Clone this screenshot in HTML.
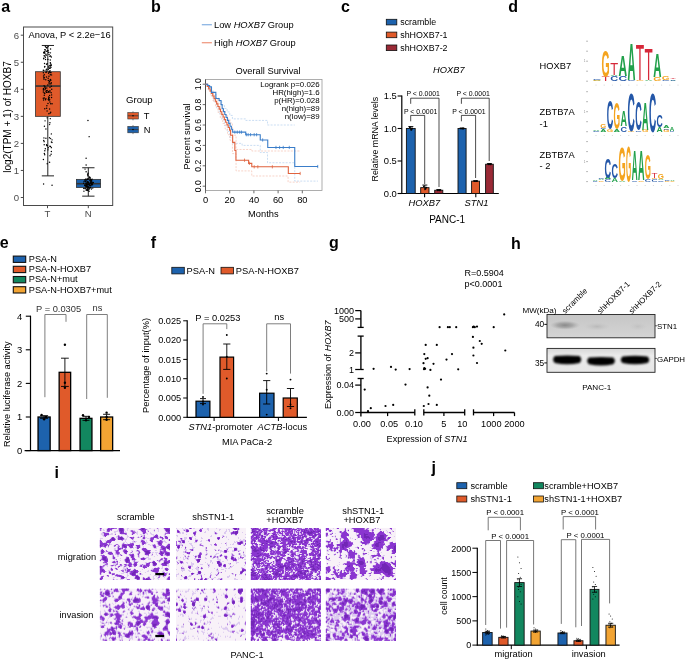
<!DOCTYPE html>
<html><head><meta charset="utf-8"><style>
html,body{margin:0;padding:0;background:#fff;overflow:hidden;width:685px;height:660px;}
svg{display:block;will-change:transform;}
text{font-family:"Liberation Sans", sans-serif;}
</style></head><body>
<svg width="685" height="660" viewBox="0 0 685 660" font-family="Liberation Sans, sans-serif">
<rect width="685" height="660" fill="#fff"/>
<text x="1.2" y="11.8" font-size="16" text-anchor="start" fill="#000" font-weight="bold">a</text>
<text x="151" y="11.8" font-size="16" text-anchor="start" fill="#000" font-weight="bold">b</text>
<text x="341" y="12" font-size="16" text-anchor="start" fill="#000" font-weight="bold">c</text>
<text x="508.3" y="11.7" font-size="16" text-anchor="start" fill="#000" font-weight="bold">d</text>
<text x="-0.3" y="248.2" font-size="16" text-anchor="start" fill="#000" font-weight="bold">e</text>
<text x="150.8" y="247.6" font-size="16" text-anchor="start" fill="#000" font-weight="bold">f</text>
<text x="329" y="248.2" font-size="16" text-anchor="start" fill="#000" font-weight="bold">g</text>
<text x="511" y="248.5" font-size="16" text-anchor="start" fill="#000" font-weight="bold">h</text>
<text x="54.5" y="477.6" font-size="16" text-anchor="start" fill="#000" font-weight="bold">i</text>
<text x="431.5" y="473.2" font-size="16" text-anchor="start" fill="#000" font-weight="bold">j</text>
<rect x="23.5" y="27" width="89.2" height="178.5" fill="none" stroke="#4a4a4a" stroke-width="1"/>
<line x1="20.8" y1="197.5" x2="23.5" y2="197.5" stroke="#4a4a4a" stroke-width="1"/>
<text x="19.2" y="200.9" font-size="9.6" text-anchor="end" fill="#4d4d4d">0</text>
<line x1="20.8" y1="170.45" x2="23.5" y2="170.45" stroke="#4a4a4a" stroke-width="1"/>
<text x="19.2" y="173.85" font-size="9.6" text-anchor="end" fill="#4d4d4d">1</text>
<line x1="20.8" y1="143.4" x2="23.5" y2="143.4" stroke="#4a4a4a" stroke-width="1"/>
<text x="19.2" y="146.8" font-size="9.6" text-anchor="end" fill="#4d4d4d">2</text>
<line x1="20.8" y1="116.35" x2="23.5" y2="116.35" stroke="#4a4a4a" stroke-width="1"/>
<text x="19.2" y="119.75" font-size="9.6" text-anchor="end" fill="#4d4d4d">3</text>
<line x1="20.8" y1="89.3" x2="23.5" y2="89.3" stroke="#4a4a4a" stroke-width="1"/>
<text x="19.2" y="92.7" font-size="9.6" text-anchor="end" fill="#4d4d4d">4</text>
<line x1="20.8" y1="62.25" x2="23.5" y2="62.25" stroke="#4a4a4a" stroke-width="1"/>
<text x="19.2" y="65.65" font-size="9.6" text-anchor="end" fill="#4d4d4d">5</text>
<line x1="20.8" y1="35.2" x2="23.5" y2="35.2" stroke="#4a4a4a" stroke-width="1"/>
<text x="19.2" y="38.6" font-size="9.6" text-anchor="end" fill="#4d4d4d">6</text>
<line x1="47.5" y1="205.5" x2="47.5" y2="208.2" stroke="#4a4a4a" stroke-width="1"/>
<text x="47.5" y="217" font-size="9.6" text-anchor="middle" fill="#4d4d4d">T</text>
<line x1="88.3" y1="205.5" x2="88.3" y2="208.2" stroke="#4a4a4a" stroke-width="1"/>
<text x="88.3" y="217" font-size="9.6" text-anchor="middle" fill="#4d4d4d">N</text>
<text x="10.6" y="117" font-size="10" text-anchor="middle" fill="#000" transform="rotate(-90 10.6 117)">log2(TPM + 1) of HOXB7</text>
<text x="28.6" y="38.3" font-size="9.3" text-anchor="start" fill="#000">Anova, P &lt; 2.2e−16</text>
<line x1="47.8" y1="45.48" x2="47.8" y2="175.86" stroke="#222" stroke-width="1"/>
<line x1="41.8" y1="45.48" x2="54" y2="45.48" stroke="#222" stroke-width="1"/>
<line x1="41.8" y1="175.86" x2="54" y2="175.86" stroke="#222" stroke-width="1"/>
<rect x="35.5" y="71.72" width="24.8" height="44.63" fill="#e05a2a" stroke="#333" stroke-width="0.8"/>
<line x1="35.5" y1="86.05" x2="60.3" y2="86.05" stroke="#333" stroke-width="1.6"/>
<line x1="88.3" y1="167.75" x2="88.3" y2="196.15" stroke="#222" stroke-width="1"/>
<line x1="82.2" y1="167.75" x2="94.5" y2="167.75" stroke="#222" stroke-width="1"/>
<line x1="82.2" y1="196.15" x2="94.5" y2="196.15" stroke="#222" stroke-width="1"/>
<rect x="76.4" y="179.38" width="24.2" height="8.12" fill="#1d62ad" stroke="#333" stroke-width="0.8"/>
<line x1="76.4" y1="183.7" x2="100.6" y2="183.7" stroke="#333" stroke-width="1.6"/>
<circle cx="48.82" cy="66.3" r="0.72" fill="#000"/>
<circle cx="44.76" cy="51.58" r="0.72" fill="#000"/>
<circle cx="43.66" cy="58.16" r="0.72" fill="#000"/>
<circle cx="46.8" cy="87.94" r="0.72" fill="#000"/>
<circle cx="49.98" cy="83.88" r="0.72" fill="#000"/>
<circle cx="50.44" cy="52.86" r="0.72" fill="#000"/>
<circle cx="49.67" cy="99.84" r="0.72" fill="#000"/>
<circle cx="44.12" cy="55.69" r="0.72" fill="#000"/>
<circle cx="51.32" cy="57" r="0.72" fill="#000"/>
<circle cx="50.32" cy="74.8" r="0.72" fill="#000"/>
<circle cx="51" cy="83.73" r="0.72" fill="#000"/>
<circle cx="47.81" cy="85.06" r="0.72" fill="#000"/>
<circle cx="51.34" cy="86.33" r="0.72" fill="#000"/>
<circle cx="43.52" cy="76.04" r="0.72" fill="#000"/>
<circle cx="43.37" cy="72.82" r="0.72" fill="#000"/>
<circle cx="43.28" cy="70.18" r="0.72" fill="#000"/>
<circle cx="45.37" cy="46.26" r="0.72" fill="#000"/>
<circle cx="45.34" cy="57.24" r="0.72" fill="#000"/>
<circle cx="44.79" cy="66.46" r="0.72" fill="#000"/>
<circle cx="48.2" cy="46.62" r="0.72" fill="#000"/>
<circle cx="43.45" cy="88.47" r="0.72" fill="#000"/>
<circle cx="48.41" cy="91.45" r="0.72" fill="#000"/>
<circle cx="44.59" cy="66.98" r="0.72" fill="#000"/>
<circle cx="49.2" cy="97.74" r="0.72" fill="#000"/>
<circle cx="43.29" cy="98.19" r="0.72" fill="#000"/>
<circle cx="45.9" cy="72.26" r="0.72" fill="#000"/>
<circle cx="51.55" cy="74.9" r="0.72" fill="#000"/>
<circle cx="47.95" cy="50.5" r="0.72" fill="#000"/>
<circle cx="50.4" cy="66.08" r="0.72" fill="#000"/>
<circle cx="49.02" cy="72.31" r="0.72" fill="#000"/>
<circle cx="48.6" cy="73.24" r="0.72" fill="#000"/>
<circle cx="44.82" cy="86.73" r="0.72" fill="#000"/>
<circle cx="48.27" cy="99.48" r="0.72" fill="#000"/>
<circle cx="43.46" cy="89.71" r="0.72" fill="#000"/>
<circle cx="50.31" cy="62.68" r="0.72" fill="#000"/>
<circle cx="51.74" cy="89.27" r="0.72" fill="#000"/>
<circle cx="50.79" cy="80.13" r="0.72" fill="#000"/>
<circle cx="43.56" cy="99.92" r="0.72" fill="#000"/>
<circle cx="46.15" cy="55.21" r="0.72" fill="#000"/>
<circle cx="45.96" cy="91.76" r="0.72" fill="#000"/>
<circle cx="44.11" cy="85.64" r="0.72" fill="#000"/>
<circle cx="48.74" cy="52.49" r="0.72" fill="#000"/>
<circle cx="50.28" cy="72.54" r="0.72" fill="#000"/>
<circle cx="45.92" cy="54.29" r="0.72" fill="#000"/>
<circle cx="50.87" cy="65.51" r="0.72" fill="#000"/>
<circle cx="50.27" cy="59.99" r="0.72" fill="#000"/>
<circle cx="44.26" cy="95.17" r="0.72" fill="#000"/>
<circle cx="50" cy="70.84" r="0.72" fill="#000"/>
<circle cx="51.04" cy="72.65" r="0.72" fill="#000"/>
<circle cx="44.88" cy="52.98" r="0.72" fill="#000"/>
<circle cx="48.26" cy="80.58" r="0.72" fill="#000"/>
<circle cx="48.85" cy="67.76" r="0.72" fill="#000"/>
<circle cx="48.58" cy="96.91" r="0.72" fill="#000"/>
<circle cx="43.97" cy="79.15" r="0.72" fill="#000"/>
<circle cx="49.05" cy="82.64" r="0.72" fill="#000"/>
<circle cx="48.79" cy="91.99" r="0.72" fill="#000"/>
<circle cx="50.51" cy="55.96" r="0.72" fill="#000"/>
<circle cx="50.33" cy="79.59" r="0.72" fill="#000"/>
<circle cx="46.04" cy="47.17" r="0.72" fill="#000"/>
<circle cx="49.6" cy="68.2" r="0.72" fill="#000"/>
<circle cx="50.91" cy="67.39" r="0.72" fill="#000"/>
<circle cx="51.14" cy="65.6" r="0.72" fill="#000"/>
<circle cx="44.55" cy="63.52" r="0.72" fill="#000"/>
<circle cx="43.34" cy="91.96" r="0.72" fill="#000"/>
<circle cx="48.96" cy="76.3" r="0.72" fill="#000"/>
<circle cx="45.03" cy="87.16" r="0.72" fill="#000"/>
<circle cx="48.17" cy="78.34" r="0.72" fill="#000"/>
<circle cx="51.6" cy="94.89" r="0.72" fill="#000"/>
<circle cx="46.51" cy="47.76" r="0.72" fill="#000"/>
<circle cx="45.37" cy="88.49" r="0.72" fill="#000"/>
<circle cx="47.21" cy="63.78" r="0.72" fill="#000"/>
<circle cx="49.02" cy="83.87" r="0.72" fill="#000"/>
<circle cx="44.01" cy="52.83" r="0.72" fill="#000"/>
<circle cx="46.53" cy="64.29" r="0.72" fill="#000"/>
<circle cx="44.3" cy="93" r="0.72" fill="#000"/>
<circle cx="49.06" cy="54.4" r="0.72" fill="#000"/>
<circle cx="50.57" cy="49" r="0.72" fill="#000"/>
<circle cx="46.49" cy="51.22" r="0.72" fill="#000"/>
<circle cx="46.45" cy="69.3" r="0.72" fill="#000"/>
<circle cx="47.96" cy="92.25" r="0.72" fill="#000"/>
<circle cx="45.04" cy="89.71" r="0.72" fill="#000"/>
<circle cx="45.33" cy="49.92" r="0.72" fill="#000"/>
<circle cx="46.07" cy="70.24" r="0.72" fill="#000"/>
<circle cx="47.22" cy="90.35" r="0.72" fill="#000"/>
<circle cx="43.83" cy="52.29" r="0.72" fill="#000"/>
<circle cx="49.87" cy="65.41" r="0.72" fill="#000"/>
<circle cx="48.31" cy="69.3" r="0.72" fill="#000"/>
<circle cx="45.8" cy="79.76" r="0.72" fill="#000"/>
<circle cx="43.8" cy="77.89" r="0.72" fill="#000"/>
<circle cx="49.97" cy="87.16" r="0.72" fill="#000"/>
<circle cx="44.28" cy="98.06" r="0.72" fill="#000"/>
<circle cx="44.3" cy="52.72" r="0.72" fill="#000"/>
<circle cx="44.28" cy="74.82" r="0.72" fill="#000"/>
<circle cx="43.83" cy="70.49" r="0.72" fill="#000"/>
<circle cx="51.26" cy="82.69" r="0.72" fill="#000"/>
<circle cx="45.52" cy="59.47" r="0.72" fill="#000"/>
<circle cx="45.86" cy="98.76" r="0.72" fill="#000"/>
<circle cx="50.6" cy="79.98" r="0.72" fill="#000"/>
<circle cx="48.68" cy="98.48" r="0.72" fill="#000"/>
<circle cx="44.78" cy="93.47" r="0.72" fill="#000"/>
<circle cx="47.01" cy="47.8" r="0.72" fill="#000"/>
<circle cx="51.06" cy="64.54" r="0.72" fill="#000"/>
<circle cx="46.48" cy="76.95" r="0.72" fill="#000"/>
<circle cx="49.5" cy="71.79" r="0.72" fill="#000"/>
<circle cx="43.97" cy="52.9" r="0.72" fill="#000"/>
<circle cx="49.65" cy="81.5" r="0.72" fill="#000"/>
<circle cx="50.09" cy="68.19" r="0.72" fill="#000"/>
<circle cx="50.53" cy="63.13" r="0.72" fill="#000"/>
<circle cx="49.17" cy="80.89" r="0.72" fill="#000"/>
<circle cx="46.44" cy="72.04" r="0.72" fill="#000"/>
<circle cx="43.68" cy="58.72" r="0.72" fill="#000"/>
<circle cx="47.77" cy="50.93" r="0.72" fill="#000"/>
<circle cx="49.92" cy="91.95" r="0.72" fill="#000"/>
<circle cx="44.82" cy="49.62" r="0.72" fill="#000"/>
<circle cx="45.5" cy="99.84" r="0.72" fill="#000"/>
<circle cx="47.93" cy="59.38" r="0.72" fill="#000"/>
<circle cx="49.83" cy="56.27" r="0.72" fill="#000"/>
<circle cx="51.17" cy="92.72" r="0.72" fill="#000"/>
<circle cx="44.23" cy="77.46" r="0.72" fill="#000"/>
<circle cx="44.76" cy="56.01" r="0.72" fill="#000"/>
<circle cx="50.3" cy="118.63" r="0.72" fill="#000"/>
<circle cx="48.9" cy="100.36" r="0.72" fill="#000"/>
<circle cx="49.59" cy="95.46" r="0.72" fill="#000"/>
<circle cx="52.07" cy="103.79" r="0.72" fill="#000"/>
<circle cx="51.55" cy="97.46" r="0.72" fill="#000"/>
<circle cx="50.69" cy="112.32" r="0.72" fill="#000"/>
<circle cx="50.09" cy="113.15" r="0.72" fill="#000"/>
<circle cx="46.66" cy="108.25" r="0.72" fill="#000"/>
<circle cx="48.87" cy="113.72" r="0.72" fill="#000"/>
<circle cx="44.76" cy="108.76" r="0.72" fill="#000"/>
<circle cx="49.94" cy="90.84" r="0.72" fill="#000"/>
<circle cx="49.92" cy="102" r="0.72" fill="#000"/>
<circle cx="49.59" cy="108.94" r="0.72" fill="#000"/>
<circle cx="47.1" cy="110.98" r="0.72" fill="#000"/>
<circle cx="46.5" cy="90.73" r="0.72" fill="#000"/>
<circle cx="46.88" cy="105.83" r="0.72" fill="#000"/>
<circle cx="43.4" cy="89.88" r="0.72" fill="#000"/>
<circle cx="50.7" cy="103.72" r="0.72" fill="#000"/>
<circle cx="47.98" cy="103.55" r="0.72" fill="#000"/>
<circle cx="46.59" cy="92.38" r="0.72" fill="#000"/>
<circle cx="48.03" cy="149.86" r="0.72" fill="#000"/>
<circle cx="49.59" cy="124.62" r="0.72" fill="#000"/>
<circle cx="46.53" cy="144.6" r="0.72" fill="#000"/>
<circle cx="50.58" cy="138.61" r="0.72" fill="#000"/>
<circle cx="51.38" cy="147.65" r="0.72" fill="#000"/>
<circle cx="46.59" cy="145.61" r="0.72" fill="#000"/>
<circle cx="44.34" cy="153.54" r="0.72" fill="#000"/>
<circle cx="49.94" cy="122.69" r="0.72" fill="#000"/>
<circle cx="52.04" cy="139.87" r="0.72" fill="#000"/>
<circle cx="44.43" cy="126.23" r="0.72" fill="#000"/>
<circle cx="49.51" cy="137.83" r="0.72" fill="#000"/>
<circle cx="50.53" cy="146.44" r="0.72" fill="#000"/>
<circle cx="51.39" cy="141.97" r="0.72" fill="#000"/>
<circle cx="44.21" cy="144.81" r="0.72" fill="#000"/>
<circle cx="43.93" cy="137.89" r="0.72" fill="#000"/>
<circle cx="51.99" cy="142.56" r="0.72" fill="#000"/>
<circle cx="44.15" cy="141.64" r="0.72" fill="#000"/>
<circle cx="44.69" cy="154.77" r="0.72" fill="#000"/>
<circle cx="48.27" cy="147.81" r="0.72" fill="#000"/>
<circle cx="47.12" cy="117.86" r="0.72" fill="#000"/>
<circle cx="49.85" cy="146.16" r="0.72" fill="#000"/>
<circle cx="44.82" cy="150.82" r="0.72" fill="#000"/>
<circle cx="51.33" cy="133.88" r="0.72" fill="#000"/>
<circle cx="45.05" cy="120.86" r="0.72" fill="#000"/>
<circle cx="50.02" cy="155.69" r="0.72" fill="#000"/>
<circle cx="43.71" cy="140.53" r="0.72" fill="#000"/>
<circle cx="47.36" cy="145.68" r="0.72" fill="#000"/>
<circle cx="43.39" cy="159.43" r="0.72" fill="#000"/>
<circle cx="45.92" cy="129.04" r="0.72" fill="#000"/>
<circle cx="45.91" cy="138.28" r="0.72" fill="#000"/>
<circle cx="49.58" cy="162.34" r="0.72" fill="#000"/>
<circle cx="47.2" cy="163.69" r="0.72" fill="#000"/>
<circle cx="43.61" cy="183.97" r="0.72" fill="#000"/>
<circle cx="52.06" cy="185.33" r="0.72" fill="#000"/>
<circle cx="51.1" cy="154.22" r="0.72" fill="#000"/>
<circle cx="51.35" cy="151.51" r="0.72" fill="#000"/>
<circle cx="45.32" cy="148.81" r="0.72" fill="#000"/>
<circle cx="87.96" cy="184.23" r="0.72" fill="#000"/>
<circle cx="89.5" cy="185.84" r="0.72" fill="#000"/>
<circle cx="91.49" cy="188.92" r="0.72" fill="#000"/>
<circle cx="90.08" cy="183.26" r="0.72" fill="#000"/>
<circle cx="89.72" cy="177.43" r="0.72" fill="#000"/>
<circle cx="87.36" cy="179.54" r="0.72" fill="#000"/>
<circle cx="88.88" cy="187.26" r="0.72" fill="#000"/>
<circle cx="87.26" cy="186.9" r="0.72" fill="#000"/>
<circle cx="90.74" cy="185.48" r="0.72" fill="#000"/>
<circle cx="87.1" cy="182.25" r="0.72" fill="#000"/>
<circle cx="87.97" cy="184.27" r="0.72" fill="#000"/>
<circle cx="90.85" cy="182.56" r="0.72" fill="#000"/>
<circle cx="88.34" cy="182.23" r="0.72" fill="#000"/>
<circle cx="86.68" cy="184.65" r="0.72" fill="#000"/>
<circle cx="91.57" cy="183.6" r="0.72" fill="#000"/>
<circle cx="87.11" cy="182.6" r="0.72" fill="#000"/>
<circle cx="91.75" cy="183.77" r="0.72" fill="#000"/>
<circle cx="91.15" cy="181.39" r="0.72" fill="#000"/>
<circle cx="87.77" cy="175.84" r="0.72" fill="#000"/>
<circle cx="90.43" cy="181.03" r="0.72" fill="#000"/>
<circle cx="83.64" cy="183.21" r="0.72" fill="#000"/>
<circle cx="87.2" cy="190.28" r="0.72" fill="#000"/>
<circle cx="91.9" cy="181.86" r="0.72" fill="#000"/>
<circle cx="89.1" cy="191.33" r="0.72" fill="#000"/>
<circle cx="88.88" cy="189.15" r="0.72" fill="#000"/>
<circle cx="89.95" cy="179.97" r="0.72" fill="#000"/>
<circle cx="90.08" cy="180.57" r="0.72" fill="#000"/>
<circle cx="89.14" cy="184.04" r="0.72" fill="#000"/>
<circle cx="87.51" cy="190.37" r="0.72" fill="#000"/>
<circle cx="85.13" cy="184.94" r="0.72" fill="#000"/>
<circle cx="86.23" cy="186.19" r="0.72" fill="#000"/>
<circle cx="86.23" cy="180.85" r="0.72" fill="#000"/>
<circle cx="87.61" cy="174.27" r="0.72" fill="#000"/>
<circle cx="93.29" cy="182.55" r="0.72" fill="#000"/>
<circle cx="86.83" cy="186.6" r="0.72" fill="#000"/>
<circle cx="87.77" cy="188.18" r="0.72" fill="#000"/>
<circle cx="87.02" cy="183.66" r="0.72" fill="#000"/>
<circle cx="89.11" cy="184.15" r="0.72" fill="#000"/>
<circle cx="92.78" cy="188.11" r="0.72" fill="#000"/>
<circle cx="92.19" cy="182.96" r="0.72" fill="#000"/>
<circle cx="87.07" cy="188.1" r="0.72" fill="#000"/>
<circle cx="85.97" cy="178.92" r="0.72" fill="#000"/>
<circle cx="92.14" cy="179.12" r="0.72" fill="#000"/>
<circle cx="88.24" cy="179.03" r="0.72" fill="#000"/>
<circle cx="90.16" cy="185.36" r="0.72" fill="#000"/>
<circle cx="84.03" cy="181.35" r="0.72" fill="#000"/>
<circle cx="91.97" cy="183.97" r="0.72" fill="#000"/>
<circle cx="86.43" cy="185.01" r="0.72" fill="#000"/>
<circle cx="88.25" cy="184.81" r="0.72" fill="#000"/>
<circle cx="85.28" cy="188.71" r="0.72" fill="#000"/>
<circle cx="87.5" cy="189.29" r="0.72" fill="#000"/>
<circle cx="91.58" cy="180.21" r="0.72" fill="#000"/>
<circle cx="91.58" cy="184.21" r="0.72" fill="#000"/>
<circle cx="88.04" cy="182.56" r="0.72" fill="#000"/>
<circle cx="90.98" cy="179.37" r="0.72" fill="#000"/>
<circle cx="87.88" cy="190.47" r="0.72" fill="#000"/>
<circle cx="87.03" cy="186.62" r="0.72" fill="#000"/>
<circle cx="88.76" cy="182.72" r="0.72" fill="#000"/>
<circle cx="85.31" cy="181.84" r="0.72" fill="#000"/>
<circle cx="86.47" cy="184.96" r="0.72" fill="#000"/>
<circle cx="90.37" cy="179.26" r="0.72" fill="#000"/>
<circle cx="91.01" cy="182.58" r="0.72" fill="#000"/>
<circle cx="83.87" cy="188.36" r="0.72" fill="#000"/>
<circle cx="90.63" cy="187.21" r="0.72" fill="#000"/>
<circle cx="91.47" cy="180.17" r="0.72" fill="#000"/>
<circle cx="87.75" cy="181.55" r="0.72" fill="#000"/>
<circle cx="83.92" cy="191.14" r="0.72" fill="#000"/>
<circle cx="90.13" cy="177.97" r="0.72" fill="#000"/>
<circle cx="85.76" cy="181.01" r="0.72" fill="#000"/>
<circle cx="89.73" cy="177.98" r="0.72" fill="#000"/>
<circle cx="87.07" cy="184.99" r="0.72" fill="#000"/>
<circle cx="89.67" cy="184.63" r="0.72" fill="#000"/>
<circle cx="85.88" cy="188" r="0.72" fill="#000"/>
<circle cx="88.07" cy="173.14" r="0.72" fill="#000"/>
<circle cx="88.55" cy="184.15" r="0.72" fill="#000"/>
<circle cx="89.61" cy="176.99" r="0.72" fill="#000"/>
<circle cx="85.33" cy="186.06" r="0.72" fill="#000"/>
<circle cx="92.92" cy="182.77" r="0.72" fill="#000"/>
<circle cx="86.19" cy="190.22" r="0.72" fill="#000"/>
<circle cx="86.36" cy="184.99" r="0.72" fill="#000"/>
<circle cx="85.86" cy="179.44" r="0.72" fill="#000"/>
<circle cx="83.97" cy="188.51" r="0.72" fill="#000"/>
<circle cx="87.53" cy="179.08" r="0.72" fill="#000"/>
<circle cx="91.02" cy="182.07" r="0.72" fill="#000"/>
<circle cx="90.4" cy="187.67" r="0.72" fill="#000"/>
<circle cx="85.26" cy="185.47" r="0.72" fill="#000"/>
<circle cx="84.67" cy="185.3" r="0.72" fill="#000"/>
<circle cx="86.51" cy="183.63" r="0.72" fill="#000"/>
<circle cx="90.98" cy="185.61" r="0.72" fill="#000"/>
<circle cx="88.18" cy="186.79" r="0.72" fill="#000"/>
<circle cx="92.53" cy="184.67" r="0.72" fill="#000"/>
<circle cx="89.86" cy="187.6" r="0.72" fill="#000"/>
<circle cx="89.51" cy="188.67" r="0.72" fill="#000"/>
<circle cx="90.98" cy="183.63" r="0.72" fill="#000"/>
<circle cx="90.8" cy="179.85" r="0.72" fill="#000"/>
<circle cx="86.74" cy="189.64" r="0.72" fill="#000"/>
<circle cx="85.87" cy="183.42" r="0.72" fill="#000"/>
<circle cx="87.68" cy="186.07" r="0.72" fill="#000"/>
<circle cx="88.19" cy="187.4" r="0.72" fill="#000"/>
<circle cx="84.72" cy="179.97" r="0.72" fill="#000"/>
<circle cx="87.95" cy="120.41" r="0.72" fill="#000"/>
<circle cx="89.14" cy="136.64" r="0.72" fill="#000"/>
<circle cx="86.11" cy="158.28" r="0.72" fill="#000"/>
<circle cx="86.13" cy="165.04" r="0.72" fill="#000"/>
<circle cx="85.04" cy="169.1" r="0.72" fill="#000"/>
<circle cx="86.13" cy="171.8" r="0.72" fill="#000"/>
<text x="126" y="103.3" font-size="9.6" text-anchor="start" fill="#000">Group</text>
<rect x="127.8" y="112.6" width="10.5" height="6.4" fill="#e05a2a" stroke="#333" stroke-width="0.6"/>
<line x1="127.8" y1="115.8" x2="138.3" y2="115.8" stroke="#333" stroke-width="0.8"/>
<line x1="133" y1="111.3" x2="133" y2="112.6" stroke="#333" stroke-width="0.6"/>
<line x1="133" y1="119" x2="133" y2="120.3" stroke="#333" stroke-width="0.6"/>
<circle cx="133" cy="115.8" r="0.75" fill="#000"/>
<text x="143.8" y="119.1" font-size="9.3" text-anchor="start" fill="#000">T</text>
<rect x="127.8" y="126.4" width="10.5" height="6.4" fill="#1d62ad" stroke="#333" stroke-width="0.6"/>
<line x1="127.8" y1="129.6" x2="138.3" y2="129.6" stroke="#333" stroke-width="0.8"/>
<line x1="133" y1="125.1" x2="133" y2="126.4" stroke="#333" stroke-width="0.6"/>
<line x1="133" y1="132.8" x2="133" y2="134.1" stroke="#333" stroke-width="0.6"/>
<circle cx="133" cy="129.6" r="0.75" fill="#000"/>
<text x="143.8" y="132.9" font-size="9.3" text-anchor="start" fill="#000">N</text>
<line x1="201.8" y1="24.7" x2="211.9" y2="24.7" stroke="#8db6e4" stroke-width="1.3"/>
<text x="214" y="28" font-size="9.3" fill="#000">Low <tspan font-style="italic">HOXB7</tspan> Group</text>
<line x1="201.8" y1="42.7" x2="211.9" y2="42.7" stroke="#f09c84" stroke-width="1.3"/>
<text x="214" y="46" font-size="9.3" fill="#000">High <tspan font-style="italic">HOXB7</tspan> Group</text>
<text x="268" y="74" font-size="9.3" text-anchor="middle" fill="#000">Overall Survival</text>
<rect x="205.5" y="79.5" width="116.5" height="111" fill="none" stroke="#9a9a9a" stroke-width="0.8"/>
<line x1="205.5" y1="79.5" x2="205.5" y2="190.5" stroke="#444" stroke-width="0.9"/>
<line x1="202.7" y1="186.2" x2="205.5" y2="186.2" stroke="#444" stroke-width="0.8"/>
<text x="201.2" y="186.2" font-size="8.6" text-anchor="middle" fill="#000" transform="rotate(-90 201.2 186.2)">0.0</text>
<line x1="202.7" y1="165.8" x2="205.5" y2="165.8" stroke="#444" stroke-width="0.8"/>
<text x="201.2" y="165.8" font-size="8.6" text-anchor="middle" fill="#000" transform="rotate(-90 201.2 165.8)">0.2</text>
<line x1="202.7" y1="145.4" x2="205.5" y2="145.4" stroke="#444" stroke-width="0.8"/>
<text x="201.2" y="145.4" font-size="8.6" text-anchor="middle" fill="#000" transform="rotate(-90 201.2 145.4)">0.4</text>
<line x1="202.7" y1="125" x2="205.5" y2="125" stroke="#444" stroke-width="0.8"/>
<text x="201.2" y="125" font-size="8.6" text-anchor="middle" fill="#000" transform="rotate(-90 201.2 125)">0.6</text>
<line x1="202.7" y1="104.6" x2="205.5" y2="104.6" stroke="#444" stroke-width="0.8"/>
<text x="201.2" y="104.6" font-size="8.6" text-anchor="middle" fill="#000" transform="rotate(-90 201.2 104.6)">0.8</text>
<line x1="202.7" y1="84.2" x2="205.5" y2="84.2" stroke="#444" stroke-width="0.8"/>
<text x="201.2" y="84.2" font-size="8.6" text-anchor="middle" fill="#000" transform="rotate(-90 201.2 84.2)">1.0</text>
<line x1="205.5" y1="190.5" x2="205.5" y2="193.3" stroke="#444" stroke-width="0.8"/>
<text x="205.5" y="202.5" font-size="9.3" text-anchor="middle" fill="#000">0</text>
<line x1="229.7" y1="190.5" x2="229.7" y2="193.3" stroke="#444" stroke-width="0.8"/>
<text x="229.7" y="202.5" font-size="9.3" text-anchor="middle" fill="#000">20</text>
<line x1="253.9" y1="190.5" x2="253.9" y2="193.3" stroke="#444" stroke-width="0.8"/>
<text x="253.9" y="202.5" font-size="9.3" text-anchor="middle" fill="#000">40</text>
<line x1="278.1" y1="190.5" x2="278.1" y2="193.3" stroke="#444" stroke-width="0.8"/>
<text x="278.1" y="202.5" font-size="9.3" text-anchor="middle" fill="#000">60</text>
<line x1="302.3" y1="190.5" x2="302.3" y2="193.3" stroke="#444" stroke-width="0.8"/>
<text x="302.3" y="202.5" font-size="9.3" text-anchor="middle" fill="#000">80</text>
<text x="263.3" y="216.6" font-size="9.3" text-anchor="middle" fill="#000">Months</text>
<text x="189.5" y="136.5" font-size="9.3" text-anchor="middle" fill="#000" transform="rotate(-90 189.5 136.5)">Percent survival</text>
<text x="319.6" y="87" font-size="7.9" text-anchor="end" fill="#000">Logrank p=0.026</text>
<text x="319.6" y="95.1" font-size="7.9" text-anchor="end" fill="#000">HR(high)=1.6</text>
<text x="319.6" y="103.2" font-size="7.9" text-anchor="end" fill="#000">p(HR)=0.028</text>
<text x="319.6" y="111.3" font-size="7.9" text-anchor="end" fill="#000">n(high)=89</text>
<text x="319.6" y="119.4" font-size="7.9" text-anchor="end" fill="#000">n(low)=89</text>
<path d="M205.8 84.2 H208.46 V87.67 H211.12 V91.14 H213.79 V94.6 H216.45 V98.07 H219.11 V101.54 H221.77 V105.01 H224.43 V108.48 H227.1 V111.94 H229.76 V115.41 H232.42 V118.88 H245.73 V120.41 H267.51 V125 H294.74 V125 H294.74 V125" stroke="#b4d0ee" stroke-width="0.7" fill="none" stroke-dasharray="2 1.3"/>
<path d="M205.8 84.2 H208.46 V90.12 H211.12 V96.03 H213.79 V101.95 H216.45 V107.86 H219.11 V113.78 H221.77 V119.7 H224.43 V125.61 H227.1 V131.53 H229.76 V137.44 H232.42 V143.36 H242.1 V145.4 H260.25 V152.54 H267.51 V162.74 H294.74 V181.1 H317.97 V181.1" stroke="#b4d0ee" stroke-width="0.7" fill="none" stroke-dasharray="2 1.3"/>
<path d="M205.8 84.2 H208.22 V88.08 H210.64 V91.95 H213.06 V95.83 H215.48 V99.7 H217.9 V103.58 H220.32 V107.46 H222.74 V111.33 H225.16 V115.21 H227.58 V119.08 H230 V122.96 H232.42 V135.2 H236.05 V149.48 H251.78 V151.01 H300.18 V151.01" stroke="#f5c2b2" stroke-width="0.7" fill="none" stroke-dasharray="2 1.3"/>
<path d="M205.8 84.2 H208.22 V89.81 H210.64 V95.42 H213.06 V101.03 H215.48 V106.64 H217.9 V112.25 H220.32 V117.86 H222.74 V123.47 H225.16 V129.08 H227.58 V134.69 H230 V140.3 H232.42 V153.56 H236.05 V170.9 H251.78 V176 H288.08 V182.12 H300.18 V182.12" stroke="#f5c2b2" stroke-width="0.7" fill="none" stroke-dasharray="2 1.3"/>
<path d="M205.8 84.2 H207.22 V86.49 H208.64 V88.79 H210.07 V91.08 H211.49 V93.38 H212.77 V96 H214.06 V98.63 H215.35 V101.25 H216.64 V103.87 H217.93 V106.49 H219.21 V109.12 H220.5 V111.74 H221.79 V114.36 H223.08 V116.99 H224.36 V119.61 H225.65 V122.23 H226.94 V124.85 H228.23 V127.48 H229.52 V130.1 H230.61 V135.2 H232.66 V142.34 H234.84 V150.5 H235.93 V160.19 H248.63 V163.35 H251.78 V166.82 H288.32 V173.45 H300.18 V173.45" stroke="#e0633f" stroke-width="1.1" fill="none"/>
<path d="M205.8 84.2 H207.7 V85.56 H209.59 V86.92 H211.49 V88.28 H211.49 V92.36 H215.84 V94.4 H215.84 V98.48 H219.11 V100.52 H221.05 V104.6 H222.14 V108.68 H223.45 V111.61 H224.77 V114.54 H226.08 V117.48 H227.4 V120.41 H228.71 V123.34 H230.03 V126.27 H231.35 V129.21 H232.66 V132.14 H245.73 V134.69 H260.25 V139.99 H267.75 V147.44 H294.74 V166.51 H317.97 V166.51" stroke="#3a7dc9" stroke-width="1.1" fill="none"/>
<line x1="234.84" y1="130.54" x2="234.84" y2="133.74" stroke="#3a7dc9" stroke-width="0.8"/>
<line x1="237.26" y1="130.54" x2="237.26" y2="133.74" stroke="#3a7dc9" stroke-width="0.8"/>
<line x1="239.68" y1="130.54" x2="239.68" y2="133.74" stroke="#3a7dc9" stroke-width="0.8"/>
<line x1="241.5" y1="130.54" x2="241.5" y2="133.74" stroke="#3a7dc9" stroke-width="0.8"/>
<line x1="246.34" y1="133.09" x2="246.34" y2="136.29" stroke="#3a7dc9" stroke-width="0.8"/>
<line x1="248.15" y1="133.09" x2="248.15" y2="136.29" stroke="#3a7dc9" stroke-width="0.8"/>
<line x1="250.57" y1="133.09" x2="250.57" y2="136.29" stroke="#3a7dc9" stroke-width="0.8"/>
<line x1="254.2" y1="133.09" x2="254.2" y2="136.29" stroke="#3a7dc9" stroke-width="0.8"/>
<line x1="256.62" y1="133.09" x2="256.62" y2="136.29" stroke="#3a7dc9" stroke-width="0.8"/>
<line x1="262.67" y1="138.39" x2="262.67" y2="141.59" stroke="#3a7dc9" stroke-width="0.8"/>
<line x1="275.98" y1="145.84" x2="275.98" y2="149.04" stroke="#3a7dc9" stroke-width="0.8"/>
<line x1="279.61" y1="145.84" x2="279.61" y2="149.04" stroke="#3a7dc9" stroke-width="0.8"/>
<line x1="283.24" y1="145.84" x2="283.24" y2="149.04" stroke="#3a7dc9" stroke-width="0.8"/>
<line x1="289.29" y1="145.84" x2="289.29" y2="149.04" stroke="#3a7dc9" stroke-width="0.8"/>
<line x1="317.73" y1="164.91" x2="317.73" y2="168.11" stroke="#3a7dc9" stroke-width="0.8"/>
<line x1="244.52" y1="158.59" x2="244.52" y2="161.79" stroke="#e0633f" stroke-width="0.8"/>
<line x1="249.36" y1="161.75" x2="249.36" y2="164.95" stroke="#e0633f" stroke-width="0.8"/>
<line x1="254.2" y1="165.22" x2="254.2" y2="168.42" stroke="#e0633f" stroke-width="0.8"/>
<line x1="257.83" y1="165.22" x2="257.83" y2="168.42" stroke="#e0633f" stroke-width="0.8"/>
<line x1="272.35" y1="165.22" x2="272.35" y2="168.42" stroke="#e0633f" stroke-width="0.8"/>
<line x1="300.18" y1="171.85" x2="300.18" y2="175.05" stroke="#e0633f" stroke-width="0.8"/>
<rect x="386.3" y="19.3" width="10.5" height="5.6" fill="#1d62ad" stroke="#111" stroke-width="0.8"/>
<text x="400.2" y="25.3" font-size="8.9" text-anchor="start" fill="#000">scramble</text>
<rect x="386.3" y="32.1" width="10.5" height="5.6" fill="#e05a2a" stroke="#111" stroke-width="0.8"/>
<text x="400.2" y="38.1" font-size="8.9" text-anchor="start" fill="#000">shHOXB7-1</text>
<rect x="386.3" y="45" width="10.5" height="5.6" fill="#9a2a36" stroke="#111" stroke-width="0.8"/>
<text x="400.2" y="51" font-size="8.9" text-anchor="start" fill="#000">shHOXB7-2</text>
<text x="448.8" y="73.3" font-size="9.3" text-anchor="middle" fill="#000" font-style="italic">HOXB7</text>
<line x1="401.8" y1="95.5" x2="401.8" y2="194" stroke="#000" stroke-width="1.2"/>
<line x1="401.3" y1="193.5" x2="498.8" y2="193.5" stroke="#000" stroke-width="1.2"/>
<line x1="397.6" y1="193.5" x2="401.8" y2="193.5" stroke="#000" stroke-width="1.1"/>
<text x="396.8" y="196.9" font-size="9.4" text-anchor="end" fill="#000">0.0</text>
<line x1="397.6" y1="161" x2="401.8" y2="161" stroke="#000" stroke-width="1.1"/>
<text x="396.8" y="164.4" font-size="9.4" text-anchor="end" fill="#000">0.5</text>
<line x1="397.6" y1="128.5" x2="401.8" y2="128.5" stroke="#000" stroke-width="1.1"/>
<text x="396.8" y="131.9" font-size="9.4" text-anchor="end" fill="#000">1.0</text>
<line x1="397.6" y1="96" x2="401.8" y2="96" stroke="#000" stroke-width="1.1"/>
<text x="396.8" y="99.4" font-size="9.4" text-anchor="end" fill="#000">1.5</text>
<text x="377.8" y="139.1" font-size="8.8" text-anchor="middle" fill="#000" transform="rotate(-90 377.8 139.1)">Relative mRNA levels</text>
<line x1="424.6" y1="193.5" x2="424.6" y2="197.3" stroke="#000" stroke-width="1.1"/>
<text x="424.4" y="206" font-size="9.4" text-anchor="middle" fill="#000" font-style="italic">HOXB7</text>
<line x1="475.8" y1="193.5" x2="475.8" y2="197.3" stroke="#000" stroke-width="1.1"/>
<text x="476.6" y="206" font-size="9.4" text-anchor="middle" fill="#000" font-style="italic">STN1</text>
<text x="447.1" y="222.7" font-size="10" text-anchor="middle" fill="#000">PANC-1</text>
<rect x="406.4" y="128.5" width="8.8" height="65" fill="#1d62ad" stroke="#111" stroke-width="0.9"/>
<rect x="420.7" y="187.65" width="8.3" height="5.85" fill="#e05a2a" stroke="#111" stroke-width="0.9"/>
<rect x="434.7" y="190.25" width="8.1" height="3.25" fill="#9a2a36" stroke="#111" stroke-width="0.9"/>
<rect x="458" y="128.5" width="8.1" height="65" fill="#1d62ad" stroke="#111" stroke-width="0.9"/>
<rect x="471.6" y="181.15" width="7.9" height="12.35" fill="#e05a2a" stroke="#111" stroke-width="0.9"/>
<rect x="485.6" y="164.25" width="7.7" height="29.25" fill="#9a2a36" stroke="#111" stroke-width="0.9"/>
<line x1="410.8" y1="126.55" x2="410.8" y2="130.45" stroke="#000" stroke-width="0.9"/>
<line x1="408.3" y1="126.55" x2="413.3" y2="126.55" stroke="#000" stroke-width="0.9"/>
<circle cx="409.8" cy="127.2" r="0.9" fill="#000"/>
<circle cx="411.4" cy="129.8" r="0.9" fill="#000"/>
<circle cx="412.2" cy="128.5" r="0.9" fill="#000"/>
<line x1="424.85" y1="185.05" x2="424.85" y2="190.25" stroke="#000" stroke-width="0.9"/>
<line x1="422.35" y1="185.05" x2="427.35" y2="185.05" stroke="#000" stroke-width="0.9"/>
<circle cx="423.85" cy="186.35" r="0.9" fill="#000"/>
<circle cx="425.45" cy="188.95" r="0.9" fill="#000"/>
<circle cx="426.25" cy="187.65" r="0.9" fill="#000"/>
<line x1="438.75" y1="189.6" x2="438.75" y2="190.9" stroke="#000" stroke-width="0.9"/>
<line x1="436.25" y1="189.6" x2="441.25" y2="189.6" stroke="#000" stroke-width="0.9"/>
<circle cx="437.75" cy="190.25" r="0.9" fill="#000"/>
<circle cx="439.35" cy="190.25" r="0.9" fill="#000"/>
<circle cx="440.15" cy="190.25" r="0.9" fill="#000"/>
<line x1="462" y1="128.18" x2="462" y2="128.82" stroke="#000" stroke-width="0.9"/>
<line x1="459.5" y1="128.18" x2="464.5" y2="128.18" stroke="#000" stroke-width="0.9"/>
<circle cx="461" cy="128.5" r="0.9" fill="#000"/>
<circle cx="462.6" cy="128.5" r="0.9" fill="#000"/>
<circle cx="463.4" cy="128.5" r="0.9" fill="#000"/>
<line x1="475.5" y1="180.82" x2="475.5" y2="181.47" stroke="#000" stroke-width="0.9"/>
<line x1="473" y1="180.82" x2="478" y2="180.82" stroke="#000" stroke-width="0.9"/>
<circle cx="474.5" cy="181.15" r="0.9" fill="#000"/>
<circle cx="476.1" cy="181.15" r="0.9" fill="#000"/>
<circle cx="476.9" cy="181.15" r="0.9" fill="#000"/>
<line x1="489.4" y1="163.6" x2="489.4" y2="164.9" stroke="#000" stroke-width="0.9"/>
<line x1="486.9" y1="163.6" x2="491.9" y2="163.6" stroke="#000" stroke-width="0.9"/>
<circle cx="488.4" cy="164.25" r="0.9" fill="#000"/>
<circle cx="490" cy="164.25" r="0.9" fill="#000"/>
<circle cx="490.8" cy="164.25" r="0.9" fill="#000"/>
<path d="M410.7 121.3 V115.4 H424.7 V184" stroke="#000" stroke-width="0.7" fill="none"/>
<path d="M410.7 103.8 V98.2 H439 V187" stroke="#000" stroke-width="0.7" fill="none"/>
<path d="M461.4 121.3 V115.4 H475.6 V178" stroke="#000" stroke-width="0.7" fill="none"/>
<path d="M461.4 103.8 V98.2 H489.2 V161" stroke="#000" stroke-width="0.7" fill="none"/>
<text x="420.6" y="113.6" font-size="6.9" text-anchor="middle" fill="#000">P &lt; 0.0001</text>
<text x="423.2" y="96.1" font-size="6.9" text-anchor="middle" fill="#000">P &lt; 0.0001</text>
<text x="468.9" y="113.6" font-size="6.9" text-anchor="middle" fill="#000">P &lt; 0.0001</text>
<text x="473.1" y="96.1" font-size="6.9" text-anchor="middle" fill="#000">P &lt; 0.0001</text>
<text x="539.6" y="69.1" font-size="9.3" text-anchor="start" fill="#000">HOXB7</text>
<text x="539.6" y="115.4" font-size="9.3" text-anchor="start" fill="#000">ZBTB7A</text>
<text x="539.6" y="127.2" font-size="9.3" text-anchor="start" fill="#000">-1</text>
<text x="539.6" y="158.1" font-size="9.3" text-anchor="start" fill="#000">ZBTB7A</text>
<text x="539.6" y="168.6" font-size="9.3" text-anchor="start" fill="#000">- 2</text>
<text transform="translate(592.8 81.3) scale(0.1167 0.0116)" x="0" y="0" font-size="100" font-weight="bold" fill="#21a04a">A</text>
<text transform="translate(592.8 80.5) scale(0.1077 0.0114)" x="0" y="0" font-size="100" font-weight="bold" fill="#f4a41f">G</text>
<text transform="translate(592.8 79.7) scale(0.1167 0.0114)" x="0" y="0" font-size="100" font-weight="bold" fill="#2457a8">C</text>
<text transform="translate(601.6 81.3) scale(0.1344 0.0652)" x="0" y="0" font-size="100" fill="#d62839">T</text>
<text transform="translate(601.6 76.8) scale(0.1051 0.3771)" x="0" y="0" font-size="100" font-weight="bold" fill="#f4a41f">G</text>
<text transform="translate(610.2 81.3) scale(0.1097 0.0786)" x="0" y="0" font-size="100" font-weight="bold" fill="#2457a8">C</text>
<text transform="translate(610.2 75.8) scale(0.1097 0.0087)" x="0" y="0" font-size="100" font-weight="bold" fill="#21a04a">A</text>
<text transform="translate(610.2 75.2) scale(0.1295 0.1739)" x="0" y="0" font-size="100" fill="#d62839">T</text>
<text transform="translate(618.5 81.3) scale(0.1194 0.0786)" x="0" y="0" font-size="100" font-weight="bold" fill="#2457a8">C</text>
<text transform="translate(618.5 75.8) scale(0.1194 0.2870)" x="0" y="0" font-size="100" font-weight="bold" fill="#21a04a">A</text>
<text transform="translate(627.5 81.3) scale(0.1097 0.0186)" x="0" y="0" font-size="100" font-weight="bold" fill="#2457a8">C</text>
<text transform="translate(627.5 80) scale(0.1097 0.5101)" x="0" y="0" font-size="100" font-weight="bold" fill="#21a04a">A</text>
<text transform="translate(635.8 81.3) scale(0.1077 0.0143)" x="0" y="0" font-size="100" font-weight="bold" fill="#f4a41f">G</text>
<text transform="translate(635.8 80.3) scale(0.1377 0.5043)" x="0" y="0" font-size="100" fill="#d62839">T</text>
<text transform="translate(644.6 81.3) scale(0.1139 0.0174)" x="0" y="0" font-size="100" font-weight="bold" fill="#21a04a">A</text>
<text transform="translate(644.6 80.1) scale(0.1344 0.4348)" x="0" y="0" font-size="100" fill="#d62839">T</text>
<text transform="translate(653.2 81.3) scale(0.1051 0.0614)" x="0" y="0" font-size="100" font-weight="bold" fill="#f4a41f">G</text>
<text transform="translate(653.2 77) scale(0.1139 0.3391)" x="0" y="0" font-size="100" font-weight="bold" fill="#21a04a">A</text>
<text transform="translate(661.8 81.3) scale(0.1111 0.0143)" x="0" y="0" font-size="100" font-weight="bold" fill="#2457a8">C</text>
<text transform="translate(661.8 80.3) scale(0.1026 0.0500)" x="0" y="0" font-size="100" font-weight="bold" fill="#f4a41f">G</text>
<text transform="translate(670.2 81.3) scale(0.0778 0.0116)" x="0" y="0" font-size="100" font-weight="bold" fill="#21a04a">A</text>
<text transform="translate(670.2 80.5) scale(0.0778 0.0171)" x="0" y="0" font-size="100" font-weight="bold" fill="#2457a8">C</text>
<text transform="translate(670.2 79.3) scale(0.0918 0.0116)" x="0" y="0" font-size="100" fill="#d62839">T</text>
<text transform="translate(592.8 131.5) scale(0.0972 0.0086)" x="0" y="0" font-size="100" font-weight="bold" fill="#2457a8">C</text>
<text transform="translate(592.8 130.9) scale(0.0972 0.0087)" x="0" y="0" font-size="100" font-weight="bold" fill="#21a04a">A</text>
<text transform="translate(600.2 131.5) scale(0.0847 0.0362)" x="0" y="0" font-size="100" font-weight="bold" fill="#21a04a">A</text>
<text transform="translate(600.2 129) scale(0.0847 0.0214)" x="0" y="0" font-size="100" font-weight="bold" fill="#2457a8">C</text>
<text transform="translate(600.2 127.5) scale(0.0782 0.0514)" x="0" y="0" font-size="100" font-weight="bold" fill="#f4a41f">G</text>
<text transform="translate(606.7 131.5) scale(0.0833 0.0357)" x="0" y="0" font-size="100" font-weight="bold" fill="#f4a41f">G</text>
<text transform="translate(606.7 129) scale(0.0903 0.4000)" x="0" y="0" font-size="100" font-weight="bold" fill="#2457a8">C</text>
<text transform="translate(613.6 131.5) scale(0.0917 0.0435)" x="0" y="0" font-size="100" font-weight="bold" fill="#21a04a">A</text>
<text transform="translate(613.6 128.5) scale(0.0846 0.3771)" x="0" y="0" font-size="100" font-weight="bold" fill="#f4a41f">G</text>
<text transform="translate(620.6 131.5) scale(0.0903 0.0786)" x="0" y="0" font-size="100" font-weight="bold" fill="#2457a8">C</text>
<text transform="translate(620.6 126) scale(0.0903 0.2116)" x="0" y="0" font-size="100" font-weight="bold" fill="#21a04a">A</text>
<text transform="translate(627.5 131.5) scale(0.0936 0.0071)" x="0" y="0" font-size="100" font-weight="bold" fill="#f4a41f">G</text>
<text transform="translate(627.5 131) scale(0.1014 0.5343)" x="0" y="0" font-size="100" font-weight="bold" fill="#2457a8">C</text>
<text transform="translate(635.2 131.5) scale(0.0903 0.0214)" x="0" y="0" font-size="100" font-weight="bold" fill="#2457a8">C</text>
<text transform="translate(635.2 130) scale(0.0903 0.4057)" x="0" y="0" font-size="100" font-weight="bold" fill="#2457a8">C</text>
<text transform="translate(642.1 131.5) scale(0.0833 0.0286)" x="0" y="0" font-size="100" font-weight="bold" fill="#f4a41f">G</text>
<text transform="translate(642.1 129.5) scale(0.0903 0.3826)" x="0" y="0" font-size="100" font-weight="bold" fill="#21a04a">A</text>
<text transform="translate(649 131.5) scale(0.1000 0.5643)" x="0" y="0" font-size="100" font-weight="bold" fill="#2457a8">C</text>
<text transform="translate(656.6 131.5) scale(0.0861 0.0652)" x="0" y="0" font-size="100" font-weight="bold" fill="#21a04a">A</text>
<text transform="translate(656.6 127) scale(0.0861 0.1686)" x="0" y="0" font-size="100" font-weight="bold" fill="#2457a8">C</text>
<text transform="translate(663.2 131.5) scale(0.0795 0.0286)" x="0" y="0" font-size="100" font-weight="bold" fill="#f4a41f">G</text>
<text transform="translate(663.2 129.5) scale(0.0861 0.0214)" x="0" y="0" font-size="100" font-weight="bold" fill="#2457a8">C</text>
<text transform="translate(663.2 128) scale(0.0861 0.0290)" x="0" y="0" font-size="100" font-weight="bold" fill="#21a04a">A</text>
<text transform="translate(669.8 131.5) scale(0.0625 0.0143)" x="0" y="0" font-size="100" font-weight="bold" fill="#2457a8">C</text>
<text transform="translate(669.8 130.5) scale(0.0625 0.0464)" x="0" y="0" font-size="100" font-weight="bold" fill="#21a04a">A</text>
<text transform="translate(592.8 181.5) scale(0.0694 0.0086)" x="0" y="0" font-size="100" font-weight="bold" fill="#2457a8">C</text>
<text transform="translate(592.8 180.9) scale(0.0694 0.0087)" x="0" y="0" font-size="100" font-weight="bold" fill="#21a04a">A</text>
<text transform="translate(598.2 181.5) scale(0.0769 0.0214)" x="0" y="0" font-size="100" font-weight="bold" fill="#f4a41f">G</text>
<text transform="translate(598.2 180) scale(0.0833 0.0174)" x="0" y="0" font-size="100" font-weight="bold" fill="#21a04a">A</text>
<text transform="translate(598.2 178.8) scale(0.0833 0.0086)" x="0" y="0" font-size="100" font-weight="bold" fill="#2457a8">C</text>
<text transform="translate(604.6 181.5) scale(0.0917 0.0314)" x="0" y="0" font-size="100" font-weight="bold" fill="#2457a8">C</text>
<text transform="translate(604.6 179.3) scale(0.0917 0.0261)" x="0" y="0" font-size="100" font-weight="bold" fill="#21a04a">A</text>
<text transform="translate(604.6 177.5) scale(0.0917 0.2771)" x="0" y="0" font-size="100" font-weight="bold" fill="#2457a8">C</text>
<text transform="translate(611.6 181.5) scale(0.0903 0.0507)" x="0" y="0" font-size="100" font-weight="bold" fill="#21a04a">A</text>
<text transform="translate(611.6 178) scale(0.0903 0.2086)" x="0" y="0" font-size="100" font-weight="bold" fill="#2457a8">C</text>
<text transform="translate(618.5 181.5) scale(0.1000 0.0101)" x="0" y="0" font-size="100" font-weight="bold" fill="#21a04a">A</text>
<text transform="translate(618.5 180.8) scale(0.0923 0.4757)" x="0" y="0" font-size="100" font-weight="bold" fill="#f4a41f">G</text>
<text transform="translate(626.1 181.5) scale(0.0667 0.4957)" x="0" y="0" font-size="100" font-weight="bold" fill="#f4a41f">G</text>
<text transform="translate(631.7 181.5) scale(0.0806 0.0214)" x="0" y="0" font-size="100" font-weight="bold" fill="#2457a8">C</text>
<text transform="translate(631.7 180) scale(0.0806 0.4203)" x="0" y="0" font-size="100" font-weight="bold" fill="#21a04a">A</text>
<text transform="translate(637.9 181.5) scale(0.0833 0.0186)" x="0" y="0" font-size="100" font-weight="bold" fill="#f4a41f">G</text>
<text transform="translate(637.9 180.2) scale(0.0903 0.4333)" x="0" y="0" font-size="100" font-weight="bold" fill="#21a04a">A</text>
<text transform="translate(644.8 181.5) scale(0.0861 0.0400)" x="0" y="0" font-size="100" font-weight="bold" fill="#2457a8">C</text>
<text transform="translate(644.8 178.7) scale(0.0795 0.3471)" x="0" y="0" font-size="100" font-weight="bold" fill="#f4a41f">G</text>
<text transform="translate(651.4 181.5) scale(0.0833 0.0357)" x="0" y="0" font-size="100" font-weight="bold" fill="#2457a8">C</text>
<text transform="translate(651.4 179) scale(0.0769 0.0186)" x="0" y="0" font-size="100" font-weight="bold" fill="#f4a41f">G</text>
<text transform="translate(651.4 177.7) scale(0.0984 0.0812)" x="0" y="0" font-size="100" fill="#d62839">T</text>
<text transform="translate(657.8 181.5) scale(0.0861 0.0214)" x="0" y="0" font-size="100" font-weight="bold" fill="#2457a8">C</text>
<text transform="translate(657.8 180) scale(0.0861 0.0174)" x="0" y="0" font-size="100" font-weight="bold" fill="#21a04a">A</text>
<text transform="translate(657.8 178.8) scale(0.0795 0.0800)" x="0" y="0" font-size="100" font-weight="bold" fill="#f4a41f">G</text>
<text transform="translate(664.4 181.5) scale(0.0692 0.0143)" x="0" y="0" font-size="100" font-weight="bold" fill="#f4a41f">G</text>
<text transform="translate(664.4 180.5) scale(0.0750 0.0114)" x="0" y="0" font-size="100" font-weight="bold" fill="#2457a8">C</text>
<text transform="translate(670.2 181.5) scale(0.0590 0.0114)" x="0" y="0" font-size="100" font-weight="bold" fill="#f4a41f">G</text>
<text transform="translate(670.2 180.7) scale(0.0639 0.0087)" x="0" y="0" font-size="100" font-weight="bold" fill="#21a04a">A</text>
<line x1="586.1" y1="81.2" x2="588" y2="81.2" stroke="#888" stroke-width="0.6"/>
<line x1="586.1" y1="71.2" x2="588" y2="71.2" stroke="#888" stroke-width="0.6"/>
<line x1="586.1" y1="61.2" x2="588" y2="61.2" stroke="#888" stroke-width="0.6"/>
<line x1="586.1" y1="51.2" x2="588" y2="51.2" stroke="#888" stroke-width="0.6"/>
<line x1="586.1" y1="41.2" x2="588" y2="41.2" stroke="#888" stroke-width="0.6"/>
<text x="585.5" y="62.2" font-size="3" text-anchor="end" fill="#888">1</text>
<line x1="596" y1="84.7" x2="596" y2="85.5" stroke="#999" stroke-width="0.5"/>
<line x1="604.2" y1="84.7" x2="604.2" y2="85.5" stroke="#999" stroke-width="0.5"/>
<line x1="612.4" y1="84.7" x2="612.4" y2="85.5" stroke="#999" stroke-width="0.5"/>
<line x1="620.6" y1="84.7" x2="620.6" y2="85.5" stroke="#999" stroke-width="0.5"/>
<line x1="628.8" y1="84.7" x2="628.8" y2="85.5" stroke="#999" stroke-width="0.5"/>
<line x1="637" y1="84.7" x2="637" y2="85.5" stroke="#999" stroke-width="0.5"/>
<line x1="645.2" y1="84.7" x2="645.2" y2="85.5" stroke="#999" stroke-width="0.5"/>
<line x1="653.4" y1="84.7" x2="653.4" y2="85.5" stroke="#999" stroke-width="0.5"/>
<line x1="661.6" y1="84.7" x2="661.6" y2="85.5" stroke="#999" stroke-width="0.5"/>
<line x1="669.8" y1="84.7" x2="669.8" y2="85.5" stroke="#999" stroke-width="0.5"/>
<line x1="678" y1="84.7" x2="678" y2="85.5" stroke="#999" stroke-width="0.5"/>
<line x1="586.1" y1="131.7" x2="588" y2="131.7" stroke="#888" stroke-width="0.6"/>
<line x1="586.1" y1="121.7" x2="588" y2="121.7" stroke="#888" stroke-width="0.6"/>
<line x1="586.1" y1="111.7" x2="588" y2="111.7" stroke="#888" stroke-width="0.6"/>
<line x1="586.1" y1="101.7" x2="588" y2="101.7" stroke="#888" stroke-width="0.6"/>
<line x1="586.1" y1="91.7" x2="588" y2="91.7" stroke="#888" stroke-width="0.6"/>
<text x="585.5" y="112.7" font-size="3" text-anchor="end" fill="#888">1</text>
<line x1="596" y1="135.2" x2="596" y2="136" stroke="#999" stroke-width="0.5"/>
<line x1="604.2" y1="135.2" x2="604.2" y2="136" stroke="#999" stroke-width="0.5"/>
<line x1="612.4" y1="135.2" x2="612.4" y2="136" stroke="#999" stroke-width="0.5"/>
<line x1="620.6" y1="135.2" x2="620.6" y2="136" stroke="#999" stroke-width="0.5"/>
<line x1="628.8" y1="135.2" x2="628.8" y2="136" stroke="#999" stroke-width="0.5"/>
<line x1="637" y1="135.2" x2="637" y2="136" stroke="#999" stroke-width="0.5"/>
<line x1="645.2" y1="135.2" x2="645.2" y2="136" stroke="#999" stroke-width="0.5"/>
<line x1="653.4" y1="135.2" x2="653.4" y2="136" stroke="#999" stroke-width="0.5"/>
<line x1="661.6" y1="135.2" x2="661.6" y2="136" stroke="#999" stroke-width="0.5"/>
<line x1="669.8" y1="135.2" x2="669.8" y2="136" stroke="#999" stroke-width="0.5"/>
<line x1="678" y1="135.2" x2="678" y2="136" stroke="#999" stroke-width="0.5"/>
<line x1="586.1" y1="181.6" x2="588" y2="181.6" stroke="#888" stroke-width="0.6"/>
<line x1="586.1" y1="171.6" x2="588" y2="171.6" stroke="#888" stroke-width="0.6"/>
<line x1="586.1" y1="161.6" x2="588" y2="161.6" stroke="#888" stroke-width="0.6"/>
<line x1="586.1" y1="151.6" x2="588" y2="151.6" stroke="#888" stroke-width="0.6"/>
<line x1="586.1" y1="141.6" x2="588" y2="141.6" stroke="#888" stroke-width="0.6"/>
<text x="585.5" y="162.6" font-size="3" text-anchor="end" fill="#888">1</text>
<line x1="596" y1="185.1" x2="596" y2="185.9" stroke="#999" stroke-width="0.5"/>
<line x1="604.2" y1="185.1" x2="604.2" y2="185.9" stroke="#999" stroke-width="0.5"/>
<line x1="612.4" y1="185.1" x2="612.4" y2="185.9" stroke="#999" stroke-width="0.5"/>
<line x1="620.6" y1="185.1" x2="620.6" y2="185.9" stroke="#999" stroke-width="0.5"/>
<line x1="628.8" y1="185.1" x2="628.8" y2="185.9" stroke="#999" stroke-width="0.5"/>
<line x1="637" y1="185.1" x2="637" y2="185.9" stroke="#999" stroke-width="0.5"/>
<line x1="645.2" y1="185.1" x2="645.2" y2="185.9" stroke="#999" stroke-width="0.5"/>
<line x1="653.4" y1="185.1" x2="653.4" y2="185.9" stroke="#999" stroke-width="0.5"/>
<line x1="661.6" y1="185.1" x2="661.6" y2="185.9" stroke="#999" stroke-width="0.5"/>
<line x1="669.8" y1="185.1" x2="669.8" y2="185.9" stroke="#999" stroke-width="0.5"/>
<line x1="678" y1="185.1" x2="678" y2="185.9" stroke="#999" stroke-width="0.5"/>
<rect x="13.3" y="256.1" width="12.4" height="6.3" fill="#1d62ad" stroke="#111" stroke-width="1.1"/>
<text x="28.8" y="261.9" font-size="9.2" text-anchor="start" fill="#000">PSA-N</text>
<rect x="13.3" y="266.3" width="12.4" height="6.3" fill="#e05a2a" stroke="#111" stroke-width="1.1"/>
<text x="28.8" y="272.1" font-size="9.2" text-anchor="start" fill="#000">PSA-N-HOXB7</text>
<rect x="13.3" y="276.5" width="12.4" height="6.3" fill="#12875f" stroke="#111" stroke-width="1.1"/>
<text x="28.8" y="282.3" font-size="9.2" text-anchor="start" fill="#000">PSA-N+mut</text>
<rect x="13.3" y="286.7" width="12.4" height="6.3" fill="#f2a433" stroke="#111" stroke-width="1.1"/>
<text x="28.8" y="292.5" font-size="9.2" text-anchor="start" fill="#000">PSA-N-HOXB7+mut</text>
<line x1="30.5" y1="315.7" x2="30.5" y2="451" stroke="#000" stroke-width="1.2"/>
<line x1="24.6" y1="450.6" x2="120" y2="450.6" stroke="#000" stroke-width="1.3"/>
<line x1="25.8" y1="450.6" x2="30.5" y2="450.6" stroke="#000" stroke-width="1.1"/>
<text x="22.2" y="454" font-size="9.4" text-anchor="end" fill="#000">0</text>
<line x1="25.8" y1="417" x2="30.5" y2="417" stroke="#000" stroke-width="1.1"/>
<text x="22.2" y="420.4" font-size="9.4" text-anchor="end" fill="#000">1</text>
<line x1="25.8" y1="383.4" x2="30.5" y2="383.4" stroke="#000" stroke-width="1.1"/>
<text x="22.2" y="386.8" font-size="9.4" text-anchor="end" fill="#000">2</text>
<line x1="25.8" y1="349.8" x2="30.5" y2="349.8" stroke="#000" stroke-width="1.1"/>
<text x="22.2" y="353.2" font-size="9.4" text-anchor="end" fill="#000">3</text>
<line x1="25.8" y1="316.2" x2="30.5" y2="316.2" stroke="#000" stroke-width="1.1"/>
<text x="22.2" y="319.6" font-size="9.4" text-anchor="end" fill="#000">4</text>
<text x="9.6" y="394.2" font-size="9.2" text-anchor="middle" fill="#000" transform="rotate(-90 9.6 394.2)">Relative luciferase activity</text>
<rect x="38.05" y="417" width="12.1" height="33.6" fill="#1d62ad" stroke="#000" stroke-width="1.3"/>
<rect x="59.15" y="372.31" width="11.5" height="78.29" fill="#e05a2a" stroke="#000" stroke-width="1.3"/>
<rect x="80.05" y="418.34" width="11.9" height="32.26" fill="#12875f" stroke="#000" stroke-width="1.3"/>
<rect x="100.65" y="417" width="12" height="33.6" fill="#f2a433" stroke="#000" stroke-width="1.3"/>
<line x1="44.1" y1="415.66" x2="44.1" y2="418.34" stroke="#000" stroke-width="0.9"/>
<line x1="40.1" y1="415.66" x2="48.1" y2="415.66" stroke="#000" stroke-width="0.9"/>
<line x1="40.1" y1="418.34" x2="48.1" y2="418.34" stroke="#000" stroke-width="0.9"/>
<circle cx="41.6" cy="414.98" r="1.2" fill="#000"/>
<circle cx="44.1" cy="419.35" r="1.2" fill="#000"/>
<circle cx="46.1" cy="417" r="1.2" fill="#000"/>
<line x1="64.9" y1="358.2" x2="64.9" y2="386.42" stroke="#000" stroke-width="0.9"/>
<line x1="61" y1="358.2" x2="68.8" y2="358.2" stroke="#000" stroke-width="0.9"/>
<line x1="61" y1="386.42" x2="68.8" y2="386.42" stroke="#000" stroke-width="0.9"/>
<circle cx="64.9" cy="344.76" r="1.2" fill="#000"/>
<circle cx="64.9" cy="382.73" r="1.2" fill="#000"/>
<circle cx="64.9" cy="387.77" r="1.2" fill="#000"/>
<line x1="86" y1="416.33" x2="86" y2="420.36" stroke="#000" stroke-width="0.9"/>
<line x1="82.5" y1="416.33" x2="89.5" y2="416.33" stroke="#000" stroke-width="0.9"/>
<line x1="82.5" y1="420.36" x2="89.5" y2="420.36" stroke="#000" stroke-width="0.9"/>
<circle cx="83" cy="415.32" r="1.2" fill="#000"/>
<circle cx="86" cy="420.36" r="1.2" fill="#000"/>
<circle cx="89" cy="417" r="1.2" fill="#000"/>
<line x1="106.6" y1="414.31" x2="106.6" y2="419.69" stroke="#000" stroke-width="0.9"/>
<line x1="103.1" y1="414.31" x2="110.1" y2="414.31" stroke="#000" stroke-width="0.9"/>
<line x1="103.1" y1="419.69" x2="110.1" y2="419.69" stroke="#000" stroke-width="0.9"/>
<circle cx="106.6" cy="412.63" r="1.2" fill="#000"/>
<circle cx="106.6" cy="419.69" r="1.2" fill="#000"/>
<circle cx="106.6" cy="417" r="1.2" fill="#000"/>
<path d="M44.9 397.2 V314.5 H66 V321.8" stroke="#6f6f6f" stroke-width="0.9" fill="none"/>
<path d="M86.7 399 V314.5 H107.3 V397.8" stroke="#6f6f6f" stroke-width="0.9" fill="none"/>
<text x="58.6" y="311.5" font-size="9.3" text-anchor="middle" fill="#333">P = 0.0305</text>
<text x="97.5" y="311" font-size="9.3" text-anchor="middle" fill="#333">ns</text>
<rect x="171.8" y="267.3" width="12.5" height="6.6" fill="#1d62ad" stroke="#111" stroke-width="0.8"/>
<text x="186.6" y="274.3" font-size="9.3" text-anchor="start" fill="#000">PSA-N</text>
<rect x="221" y="267.3" width="12.5" height="6.6" fill="#e05a2a" stroke="#111" stroke-width="0.8"/>
<text x="235.8" y="274.3" font-size="9.3" text-anchor="start" fill="#000">PSA-N-HOXB7</text>
<line x1="187.2" y1="320.3" x2="187.2" y2="417.6" stroke="#000" stroke-width="1.2"/>
<line x1="186.7" y1="417.3" x2="306.9" y2="417.3" stroke="#000" stroke-width="1.2"/>
<line x1="183.2" y1="417.3" x2="187.2" y2="417.3" stroke="#000" stroke-width="1"/>
<text x="181.2" y="420.6" font-size="9.2" text-anchor="end" fill="#000">0.000</text>
<line x1="183.2" y1="398" x2="187.2" y2="398" stroke="#000" stroke-width="1"/>
<text x="181.2" y="401.3" font-size="9.2" text-anchor="end" fill="#000">0.005</text>
<line x1="183.2" y1="378.7" x2="187.2" y2="378.7" stroke="#000" stroke-width="1"/>
<text x="181.2" y="382" font-size="9.2" text-anchor="end" fill="#000">0.010</text>
<line x1="183.2" y1="359.4" x2="187.2" y2="359.4" stroke="#000" stroke-width="1"/>
<text x="181.2" y="362.7" font-size="9.2" text-anchor="end" fill="#000">0.015</text>
<line x1="183.2" y1="340.1" x2="187.2" y2="340.1" stroke="#000" stroke-width="1"/>
<text x="181.2" y="343.4" font-size="9.2" text-anchor="end" fill="#000">0.020</text>
<line x1="183.2" y1="320.8" x2="187.2" y2="320.8" stroke="#000" stroke-width="1"/>
<text x="181.2" y="324.1" font-size="9.2" text-anchor="end" fill="#000">0.025</text>
<text x="148.5" y="365.5" font-size="9.3" text-anchor="middle" fill="#000" transform="rotate(-90 148.5 365.5)">Percentage of input(%)</text>
<line x1="214.1" y1="417.1" x2="214.1" y2="421" stroke="#000" stroke-width="1"/>
<line x1="278.4" y1="417.1" x2="278.4" y2="421" stroke="#000" stroke-width="1"/>
<text x="220.5" y="430" font-size="9.3" text-anchor="middle"><tspan font-style="italic">STN1</tspan>-promoter</text>
<text x="282.4" y="430" font-size="9.3" text-anchor="middle"><tspan font-style="italic">ACTB</tspan>-locus</text>
<text x="247" y="444.8" font-size="9.3" text-anchor="middle" fill="#000">MIA PaCa-2</text>
<rect x="196" y="401.2" width="13.9" height="16.1" fill="#1d62ad" stroke="#000" stroke-width="1.2"/>
<rect x="220" y="357.1" width="13.6" height="60.2" fill="#e05a2a" stroke="#000" stroke-width="1.2"/>
<rect x="259.6" y="393.2" width="14.4" height="24.1" fill="#1d62ad" stroke="#000" stroke-width="1.2"/>
<rect x="283.2" y="398" width="14.1" height="19.3" fill="#e05a2a" stroke="#000" stroke-width="1.2"/>
<line x1="203" y1="398.6" x2="203" y2="403.6" stroke="#000" stroke-width="0.9"/>
<line x1="200" y1="398.6" x2="206" y2="398.6" stroke="#000" stroke-width="0.9"/>
<line x1="200" y1="403.6" x2="206" y2="403.6" stroke="#000" stroke-width="0.9"/>
<circle cx="203" cy="397" r="0.95" fill="#000"/>
<circle cx="203" cy="401.5" r="0.95" fill="#000"/>
<circle cx="203" cy="404.5" r="0.95" fill="#000"/>
<line x1="226.8" y1="344" x2="226.8" y2="369.4" stroke="#000" stroke-width="0.9"/>
<line x1="223.2" y1="344" x2="230.4" y2="344" stroke="#000" stroke-width="0.9"/>
<line x1="223.2" y1="369.4" x2="230.4" y2="369.4" stroke="#000" stroke-width="0.9"/>
<circle cx="226.8" cy="335" r="0.95" fill="#000"/>
<circle cx="226.8" cy="356.7" r="0.95" fill="#000"/>
<circle cx="226.8" cy="378.5" r="0.95" fill="#000"/>
<line x1="266.7" y1="380.6" x2="266.7" y2="404" stroke="#000" stroke-width="0.9"/>
<line x1="263.1" y1="380.6" x2="270.3" y2="380.6" stroke="#000" stroke-width="0.9"/>
<line x1="263.1" y1="404" x2="270.3" y2="404" stroke="#000" stroke-width="0.9"/>
<circle cx="266.7" cy="373.6" r="0.95" fill="#000"/>
<circle cx="266.7" cy="389.8" r="0.95" fill="#000"/>
<circle cx="266.7" cy="414.6" r="0.95" fill="#000"/>
<line x1="290.5" y1="388.5" x2="290.5" y2="406.5" stroke="#000" stroke-width="0.9"/>
<line x1="286.9" y1="388.5" x2="294.1" y2="388.5" stroke="#000" stroke-width="0.9"/>
<line x1="286.9" y1="406.5" x2="294.1" y2="406.5" stroke="#000" stroke-width="0.9"/>
<circle cx="290.5" cy="379.6" r="0.95" fill="#000"/>
<circle cx="290.5" cy="404.4" r="0.95" fill="#000"/>
<circle cx="290.5" cy="408.2" r="0.95" fill="#000"/>
<path d="M203.1 393.8 V323.8 H226.8 V329.1" stroke="#6f6f6f" stroke-width="0.9" fill="none"/>
<path d="M266.7 371.5 V323.8 H290.5 V373.6" stroke="#6f6f6f" stroke-width="0.9" fill="none"/>
<text x="217.9" y="321" font-size="9.3" text-anchor="middle" fill="#000">P = 0.0253</text>
<text x="279.2" y="319.8" font-size="9.3" text-anchor="middle" fill="#000">ns</text>
<line x1="360.9" y1="310.6" x2="360.9" y2="327.4" stroke="#000" stroke-width="1.35"/>
<line x1="360.9" y1="336.1" x2="360.9" y2="369.5" stroke="#000" stroke-width="1.35"/>
<line x1="360.9" y1="378.5" x2="360.9" y2="416.6" stroke="#000" stroke-width="1.35"/>
<line x1="357.6" y1="327.4" x2="363.7" y2="327.4" stroke="#000" stroke-width="1.3"/>
<line x1="357.6" y1="336.1" x2="363.7" y2="336.1" stroke="#000" stroke-width="1.3"/>
<line x1="357.6" y1="378.5" x2="363.7" y2="378.5" stroke="#000" stroke-width="1.3"/>
<line x1="355.2" y1="310.6" x2="360.9" y2="310.6" stroke="#000" stroke-width="1.25"/>
<text x="354" y="313.8" font-size="9" text-anchor="end" fill="#000">1000</text>
<line x1="355.2" y1="318.9" x2="360.9" y2="318.9" stroke="#000" stroke-width="1.25"/>
<text x="354" y="322.1" font-size="9" text-anchor="end" fill="#000">500</text>
<line x1="355.2" y1="352.9" x2="360.9" y2="352.9" stroke="#000" stroke-width="1.25"/>
<text x="354" y="356.1" font-size="9" text-anchor="end" fill="#000">2</text>
<line x1="355.2" y1="369.5" x2="360.9" y2="369.5" stroke="#000" stroke-width="1.25"/>
<text x="354" y="372.7" font-size="9" text-anchor="end" fill="#000">1</text>
<line x1="355.2" y1="385.1" x2="360.9" y2="385.1" stroke="#000" stroke-width="1.25"/>
<text x="354" y="388.3" font-size="9" text-anchor="end" fill="#000">0.04</text>
<line x1="355.2" y1="412.5" x2="360.9" y2="412.5" stroke="#000" stroke-width="1.25"/>
<text x="354" y="415.7" font-size="9" text-anchor="end" fill="#000">0.00</text>
<line x1="360.9" y1="369.5" x2="363.7" y2="369.5" stroke="#000" stroke-width="1.3"/>
<line x1="360.9" y1="412.5" x2="414.8" y2="412.5" stroke="#000" stroke-width="1.35"/>
<line x1="423.8" y1="412.5" x2="464.7" y2="412.5" stroke="#000" stroke-width="1.35"/>
<line x1="473.5" y1="412.5" x2="514.5" y2="412.5" stroke="#000" stroke-width="1.35"/>
<line x1="414.8" y1="409.3" x2="414.8" y2="415.4" stroke="#000" stroke-width="1.3"/>
<line x1="423.8" y1="409.3" x2="423.8" y2="415.4" stroke="#000" stroke-width="1.3"/>
<line x1="464.7" y1="409.3" x2="464.7" y2="415.4" stroke="#000" stroke-width="1.3"/>
<line x1="473.5" y1="409.3" x2="473.5" y2="415.4" stroke="#000" stroke-width="1.3"/>
<line x1="387.6" y1="412.5" x2="387.6" y2="416.1" stroke="#000" stroke-width="1.25"/>
<line x1="443.9" y1="412.5" x2="443.9" y2="416.1" stroke="#000" stroke-width="1.25"/>
<line x1="493.6" y1="412.5" x2="493.6" y2="416.1" stroke="#000" stroke-width="1.25"/>
<line x1="514.5" y1="412.5" x2="514.5" y2="416.1" stroke="#000" stroke-width="1.25"/>
<text x="362" y="426.8" font-size="9.2" text-anchor="middle" fill="#000">0.00</text>
<text x="389.2" y="426.8" font-size="9.2" text-anchor="middle" fill="#000">0.05</text>
<text x="414" y="426.8" font-size="9.2" text-anchor="middle" fill="#000">0.10</text>
<text x="443.7" y="426.8" font-size="9.2" text-anchor="middle" fill="#000">5</text>
<text x="462.3" y="426.8" font-size="9.2" text-anchor="middle" fill="#000">10</text>
<text x="491.3" y="426.8" font-size="9.2" text-anchor="middle" fill="#000">1000</text>
<text x="514.4" y="426.8" font-size="9.2" text-anchor="middle" fill="#000">2000</text>
<text x="427" y="442" font-size="9.1" text-anchor="middle">Expression of <tspan font-style="italic">STN1</tspan></text>
<text transform="rotate(-90 331.2 364.7)" x="331.2" y="364.7" font-size="9.1" text-anchor="middle">Expression of <tspan font-style="italic">HOXB7</tspan></text>
<text x="464.6" y="275.7" font-size="9" text-anchor="start" fill="#000">R=0.5904</text>
<text x="464.6" y="286.5" font-size="9" text-anchor="start" fill="#000">p&lt;0.0001</text>
<circle cx="439.6" cy="327.2" r="1.1" fill="#000"/>
<circle cx="447.9" cy="327.2" r="1.1" fill="#000"/>
<circle cx="449.8" cy="327.2" r="1.1" fill="#000"/>
<circle cx="456.2" cy="327.2" r="1.1" fill="#000"/>
<circle cx="472.9" cy="327.2" r="1.1" fill="#000"/>
<circle cx="473.7" cy="326.5" r="1.1" fill="#000"/>
<circle cx="474.8" cy="327.2" r="1.1" fill="#000"/>
<circle cx="477" cy="326.6" r="1.1" fill="#000"/>
<circle cx="493.7" cy="327.2" r="1.1" fill="#000"/>
<circle cx="504.2" cy="314.4" r="1.1" fill="#000"/>
<circle cx="425.7" cy="344.9" r="1.1" fill="#000"/>
<circle cx="436.8" cy="344.9" r="1.1" fill="#000"/>
<circle cx="424.3" cy="354.1" r="1.1" fill="#000"/>
<circle cx="425.7" cy="358.8" r="1.1" fill="#000"/>
<circle cx="427.6" cy="358.2" r="1.1" fill="#000"/>
<circle cx="452" cy="354.1" r="1.1" fill="#000"/>
<circle cx="446.5" cy="359.6" r="1.1" fill="#000"/>
<circle cx="433.5" cy="363.8" r="1.1" fill="#000"/>
<circle cx="423.5" cy="363.2" r="1.1" fill="#000"/>
<circle cx="424.3" cy="368" r="1.1" fill="#000"/>
<circle cx="425.1" cy="368.8" r="1.1" fill="#000"/>
<circle cx="430.4" cy="369.9" r="1.1" fill="#000"/>
<circle cx="458.2" cy="369.3" r="1.1" fill="#000"/>
<circle cx="373.6" cy="368.8" r="1.1" fill="#000"/>
<circle cx="391" cy="366.9" r="1.1" fill="#000"/>
<circle cx="395.7" cy="369.6" r="1.1" fill="#000"/>
<circle cx="409.6" cy="369.1" r="1.1" fill="#000"/>
<circle cx="472.9" cy="336.9" r="1.1" fill="#000"/>
<circle cx="479.8" cy="341" r="1.1" fill="#000"/>
<circle cx="481.7" cy="343.8" r="1.1" fill="#000"/>
<circle cx="473.4" cy="347.7" r="1.1" fill="#000"/>
<circle cx="473.4" cy="355.5" r="1.1" fill="#000"/>
<circle cx="505.3" cy="350.5" r="1.1" fill="#000"/>
<circle cx="477" cy="363" r="1.1" fill="#000"/>
<circle cx="364.7" cy="389.6" r="1.1" fill="#000"/>
<circle cx="405.5" cy="384.6" r="1.1" fill="#000"/>
<circle cx="441" cy="379.6" r="1.1" fill="#000"/>
<circle cx="427.6" cy="387.4" r="1.1" fill="#000"/>
<circle cx="429.3" cy="395.7" r="1.1" fill="#000"/>
<circle cx="428.5" cy="404" r="1.1" fill="#000"/>
<circle cx="436.8" cy="404.9" r="1.1" fill="#000"/>
<circle cx="423.8" cy="406" r="1.1" fill="#000"/>
<circle cx="370.8" cy="408.2" r="1.1" fill="#000"/>
<circle cx="368" cy="411.2" r="1.1" fill="#000"/>
<circle cx="385.5" cy="406" r="1.1" fill="#000"/>
<circle cx="393.2" cy="404.9" r="1.1" fill="#000"/>
<circle cx="424" cy="369.2" r="1.1" fill="#000"/>
<defs>
<linearGradient id="gstn" x1="0" y1="0" x2="0" y2="1"><stop offset="0" stop-color="#c6c6c6"/><stop offset="1" stop-color="#d4d4d4"/></linearGradient>
<radialGradient id="gband" cx="0.5" cy="0.5" r="0.5"><stop offset="0" stop-color="#8a8a8a"/><stop offset="0.5" stop-color="#a0a0a0" stop-opacity="0.85"/><stop offset="1" stop-color="#b0b0b0" stop-opacity="0"/></radialGradient>
<radialGradient id="gband2" cx="0.5" cy="0.5" r="0.5"><stop offset="0" stop-color="#b9b9b9"/><stop offset="1" stop-color="#c4c4c4" stop-opacity="0"/></radialGradient>
<linearGradient id="ggap" x1="0" y1="0" x2="0" y2="1"><stop offset="0" stop-color="#d6d6d6"/><stop offset="0.3" stop-color="#ebebeb"/><stop offset="1" stop-color="#e6e6e6"/></linearGradient>
<filter id="blur1" x="-20%" y="-50%" width="140%" height="200%"><feGaussianBlur stdDeviation="0.9"/></filter>
</defs>
<rect x="547" y="314.5" width="108" height="23.3" fill="url(#gstn)" stroke="#222" stroke-width="0.9"/>
<ellipse cx="565" cy="325.2" rx="15" ry="4.6" fill="url(#gband)"/>
<ellipse cx="597" cy="326.5" rx="13" ry="4" fill="url(#gband2)"/>
<ellipse cx="638" cy="326.5" rx="9" ry="4" fill="url(#gband2)" opacity="0.6"/>
<rect x="547" y="348.4" width="108" height="23.9" fill="url(#ggap)" stroke="#222" stroke-width="0.9"/>
<path d="M554.8 356 Q567.15 354.8 579.5 356 Q583 359.6 579.5 363 Q567.15 365.4 554.8 363 Q551.3 359.6 554.8 356 Z" fill="#050505" filter="url(#blur1)"/>
<path d="M588.9 357.6 Q601.05 356.4 613.2 357.6 Q616.7 361 613.2 364.2 Q601.05 366.6 588.9 364.2 Q585.4 361 588.9 357.6 Z" fill="#050505" filter="url(#blur1)"/>
<path d="M622.5 356.4 Q635 355.2 647.5 356.4 Q651 359.8 647.5 363 Q635 365.4 622.5 363 Q619 359.8 622.5 356.4 Z" fill="#050505" filter="url(#blur1)"/>
<text x="522.4" y="312.6" font-size="8.1" text-anchor="start" fill="#000">MW(kDa)</text>
<text x="544.2" y="327.1" font-size="8.3" text-anchor="end" fill="#000">40</text>
<line x1="544.3" y1="324.4" x2="547" y2="324.4" stroke="#222" stroke-width="1.1"/>
<text x="544.2" y="365.6" font-size="8.3" text-anchor="end" fill="#000">35</text>
<line x1="544.3" y1="362.9" x2="547" y2="362.9" stroke="#222" stroke-width="1.1"/>
<text x="657" y="329" font-size="7.9" text-anchor="start" fill="#000">STN1</text>
<line x1="655" y1="325.8" x2="657" y2="325.8" stroke="#222" stroke-width="0.7"/>
<text x="657" y="361.5" font-size="7.9" text-anchor="start" fill="#000">GAPDH</text>
<line x1="655" y1="358.4" x2="657" y2="358.4" stroke="#222" stroke-width="0.7"/>
<text x="596.7" y="390.2" font-size="8.1" text-anchor="middle" fill="#000">PANC-1</text>
<text x="565.3" y="314" font-size="7.9" text-anchor="start" fill="#000" transform="rotate(-45 565.3 314)">scramble</text>
<text x="600.5" y="314.3" font-size="7.9" text-anchor="start" fill="#000" transform="rotate(-45 600.5 314.3)">shHOXB7-1</text>
<text x="632" y="314.3" font-size="7.9" text-anchor="start" fill="#000" transform="rotate(-45 632 314.3)">shHOXB7-2</text>
<defs><filter id="imblur" x="0" y="0" width="1" height="1"><feGaussianBlur stdDeviation="0.45"/></filter></defs>
<g transform="translate(99.9 527.9)" filter="url(#imblur)">
<rect width="70" height="52" fill="#f8f1f8"/>
<path d="M0 0h2v1h-2zM7 0h10v1h-10zM18 0h6v1h-6zM27 0h2v1h-2zM40 0h6v1h-6zM49 0h2v1h-2zM57 0h2v1h-2zM64 0h6v1h-6zM0 1h2v1h-2zM3 1h1v1h-1zM7 1h6v1h-6zM18 1h7v1h-7zM27 1h1v1h-1zM38 1h10v1h-10zM54 1h1v1h-1zM58 1h1v1h-1zM64 1h6v1h-6zM0 2h2v1h-2zM3 2h2v1h-2zM7 2h5v1h-5zM17 2h1v1h-1zM19 2h6v1h-6zM27 2h1v1h-1zM30 2h5v1h-5zM40 2h6v1h-6zM47 2h2v1h-2zM54 2h1v1h-1zM58 2h1v1h-1zM65 2h5v1h-5zM6 3h4v1h-4zM14 3h4v1h-4zM19 3h5v1h-5zM25 3h1v1h-1zM30 3h6v1h-6zM37 3h1v1h-1zM41 3h5v1h-5zM48 3h1v1h-1zM54 3h1v1h-1zM58 3h1v1h-1zM66 3h4v1h-4zM2 4h7v1h-7zM14 4h2v1h-2zM19 4h8v1h-8zM32 4h6v1h-6zM42 4h5v1h-5zM50 4h1v1h-1zM65 4h5v1h-5zM1 5h8v1h-8zM11 5h2v1h-2zM15 5h1v1h-1zM20 5h7v1h-7zM32 5h3v1h-3zM36 5h2v1h-2zM43 5h5v1h-5zM50 5h2v1h-2zM65 5h5v1h-5zM1 6h2v1h-2zM4 6h9v1h-9zM15 6h1v1h-1zM21 6h6v1h-6zM32 6h2v1h-2zM37 6h1v1h-1zM40 6h2v1h-2zM43 6h2v1h-2zM47 6h1v1h-1zM51 6h3v1h-3zM56 6h2v1h-2zM64 6h2v1h-2zM2 7h7v1h-7zM18 7h2v1h-2zM27 7h1v1h-1zM41 7h4v1h-4zM53 7h1v1h-1zM55 7h3v1h-3zM64 7h2v1h-2zM3 8h3v1h-3zM16 8h7v1h-7zM27 8h2v1h-2zM33 8h1v1h-1zM38 8h1v1h-1zM41 8h4v1h-4zM53 8h6v1h-6zM60 8h2v1h-2zM64 8h4v1h-4zM11 9h4v1h-4zM16 9h1v1h-1zM18 9h6v1h-6zM27 9h1v1h-1zM29 9h6v1h-6zM37 9h4v1h-4zM43 9h4v1h-4zM50 9h13v1h-13zM65 9h3v1h-3zM0 10h3v1h-3zM11 10h5v1h-5zM17 10h8v1h-8zM26 10h1v1h-1zM31 10h3v1h-3zM42 10h4v1h-4zM47 10h2v1h-2zM50 10h4v1h-4zM56 10h3v1h-3zM60 10h4v1h-4zM65 10h3v1h-3zM0 11h1v1h-1zM9 11h7v1h-7zM18 11h9v1h-9zM32 11h2v1h-2zM41 11h4v1h-4zM50 11h4v1h-4zM62 11h2v1h-2zM67 11h1v1h-1zM69 11h1v1h-1zM0 12h2v1h-2zM5 12h1v1h-1zM7 12h8v1h-8zM21 12h2v1h-2zM25 12h1v1h-1zM33 12h1v1h-1zM41 12h4v1h-4zM46 12h1v1h-1zM50 12h3v1h-3zM59 12h4v1h-4zM64 12h1v1h-1zM69 12h1v1h-1zM0 13h2v1h-2zM6 13h6v1h-6zM25 13h1v1h-1zM32 13h5v1h-5zM41 13h4v1h-4zM46 13h1v1h-1zM51 13h2v1h-2zM56 13h10v1h-10zM0 14h3v1h-3zM4 14h7v1h-7zM23 14h2v1h-2zM26 14h1v1h-1zM30 14h1v1h-1zM32 14h4v1h-4zM40 14h8v1h-8zM52 14h1v1h-1zM57 14h6v1h-6zM65 14h2v1h-2zM0 15h8v1h-8zM9 15h2v1h-2zM22 15h3v1h-3zM27 15h1v1h-1zM30 15h4v1h-4zM42 15h5v1h-5zM57 15h6v1h-6zM68 15h2v1h-2zM0 16h12v1h-12zM15 16h4v1h-4zM22 16h12v1h-12zM39 16h1v1h-1zM42 16h2v1h-2zM45 16h1v1h-1zM48 16h2v1h-2zM52 16h4v1h-4zM58 16h4v1h-4zM67 16h3v1h-3zM0 17h10v1h-10zM14 17h2v1h-2zM18 17h2v1h-2zM22 17h12v1h-12zM36 17h5v1h-5zM42 17h1v1h-1zM50 17h1v1h-1zM52 17h4v1h-4zM58 17h6v1h-6zM67 17h3v1h-3zM0 18h7v1h-7zM8 18h1v1h-1zM14 18h2v1h-2zM17 18h3v1h-3zM22 18h5v1h-5zM29 18h4v1h-4zM36 18h5v1h-5zM43 18h1v1h-1zM53 18h6v1h-6zM61 18h9v1h-9zM0 19h1v1h-1zM4 19h2v1h-2zM8 19h1v1h-1zM17 19h10v1h-10zM29 19h5v1h-5zM35 19h6v1h-6zM43 19h1v1h-1zM53 19h4v1h-4zM60 19h10v1h-10zM14 20h2v1h-2zM17 20h6v1h-6zM25 20h2v1h-2zM30 20h2v1h-2zM33 20h1v1h-1zM37 20h2v1h-2zM42 20h5v1h-5zM54 20h3v1h-3zM60 20h10v1h-10zM1 21h2v1h-2zM14 21h2v1h-2zM17 21h10v1h-10zM37 21h1v1h-1zM42 21h6v1h-6zM60 21h6v1h-6zM68 21h2v1h-2zM1 22h3v1h-3zM6 22h1v1h-1zM14 22h5v1h-5zM23 22h4v1h-4zM31 22h2v1h-2zM36 22h4v1h-4zM42 22h9v1h-9zM55 22h2v1h-2zM60 22h6v1h-6zM69 22h1v1h-1zM0 23h5v1h-5zM6 23h6v1h-6zM15 23h4v1h-4zM23 23h5v1h-5zM32 23h1v1h-1zM36 23h4v1h-4zM44 23h7v1h-7zM60 23h8v1h-8zM1 24h5v1h-5zM8 24h5v1h-5zM15 24h5v1h-5zM24 24h4v1h-4zM30 24h3v1h-3zM38 24h3v1h-3zM44 24h7v1h-7zM52 24h2v1h-2zM55 24h3v1h-3zM59 24h11v1h-11zM1 25h3v1h-3zM8 25h5v1h-5zM15 25h5v1h-5zM24 25h3v1h-3zM30 25h1v1h-1zM32 25h2v1h-2zM37 25h3v1h-3zM45 25h6v1h-6zM52 25h1v1h-1zM56 25h1v1h-1zM59 25h11v1h-11zM1 26h1v1h-1zM3 26h1v1h-1zM8 26h6v1h-6zM15 26h7v1h-7zM26 26h1v1h-1zM29 26h5v1h-5zM37 26h3v1h-3zM45 26h4v1h-4zM52 26h1v1h-1zM56 26h1v1h-1zM60 26h10v1h-10zM0 27h5v1h-5zM12 27h2v1h-2zM17 27h2v1h-2zM20 27h3v1h-3zM29 27h6v1h-6zM38 27h2v1h-2zM46 27h3v1h-3zM51 27h2v1h-2zM57 27h1v1h-1zM61 27h9v1h-9zM2 28h5v1h-5zM12 28h3v1h-3zM17 28h2v1h-2zM26 28h2v1h-2zM30 28h5v1h-5zM38 28h2v1h-2zM48 28h1v1h-1zM54 28h1v1h-1zM67 28h1v1h-1zM2 29h6v1h-6zM12 29h4v1h-4zM26 29h3v1h-3zM31 29h4v1h-4zM38 29h2v1h-2zM42 29h3v1h-3zM46 29h3v1h-3zM64 29h2v1h-2zM1 30h7v1h-7zM12 30h4v1h-4zM20 30h1v1h-1zM25 30h5v1h-5zM32 30h3v1h-3zM40 30h7v1h-7zM48 30h3v1h-3zM61 30h2v1h-2zM64 30h4v1h-4zM0 31h8v1h-8zM13 31h4v1h-4zM24 31h6v1h-6zM32 31h5v1h-5zM41 31h5v1h-5zM48 31h3v1h-3zM60 31h3v1h-3zM64 31h4v1h-4zM0 32h8v1h-8zM14 32h1v1h-1zM16 32h2v1h-2zM20 32h1v1h-1zM24 32h6v1h-6zM32 32h4v1h-4zM43 32h1v1h-1zM53 32h1v1h-1zM57 32h13v1h-13zM0 33h1v1h-1zM4 33h4v1h-4zM12 33h6v1h-6zM25 33h5v1h-5zM33 33h6v1h-6zM52 33h3v1h-3zM58 33h3v1h-3zM64 33h6v1h-6zM3 34h5v1h-5zM12 34h6v1h-6zM19 34h1v1h-1zM26 34h6v1h-6zM34 34h4v1h-4zM45 34h2v1h-2zM48 34h8v1h-8zM59 34h1v1h-1zM63 34h7v1h-7zM3 35h5v1h-5zM13 35h5v1h-5zM26 35h1v1h-1zM28 35h4v1h-4zM34 35h3v1h-3zM46 35h4v1h-4zM52 35h5v1h-5zM61 35h8v1h-8zM4 36h4v1h-4zM13 36h5v1h-5zM20 36h2v1h-2zM24 36h14v1h-14zM40 36h5v1h-5zM46 36h4v1h-4zM52 36h5v1h-5zM61 36h8v1h-8zM0 37h1v1h-1zM3 37h5v1h-5zM10 37h7v1h-7zM19 37h4v1h-4zM24 37h8v1h-8zM33 37h4v1h-4zM40 37h10v1h-10zM53 37h4v1h-4zM62 37h7v1h-7zM0 38h5v1h-5zM7 38h1v1h-1zM11 38h2v1h-2zM15 38h1v1h-1zM18 38h4v1h-4zM24 38h3v1h-3zM29 38h4v1h-4zM34 38h2v1h-2zM39 38h10v1h-10zM54 38h1v1h-1zM62 38h1v1h-1zM68 38h1v1h-1zM0 39h4v1h-4zM11 39h1v1h-1zM15 39h1v1h-1zM18 39h1v1h-1zM23 39h2v1h-2zM26 39h2v1h-2zM29 39h1v1h-1zM43 39h4v1h-4zM55 39h1v1h-1zM57 39h3v1h-3zM62 39h1v1h-1zM66 39h1v1h-1zM0 40h4v1h-4zM11 40h2v1h-2zM15 40h3v1h-3zM23 40h5v1h-5zM30 40h1v1h-1zM34 40h1v1h-1zM44 40h1v1h-1zM52 40h1v1h-1zM54 40h6v1h-6zM61 40h2v1h-2zM65 40h4v1h-4zM0 41h5v1h-5zM10 41h3v1h-3zM16 41h2v1h-2zM22 41h9v1h-9zM34 41h2v1h-2zM42 41h1v1h-1zM51 41h8v1h-8zM65 41h4v1h-4zM0 42h5v1h-5zM8 42h2v1h-2zM11 42h2v1h-2zM21 42h3v1h-3zM25 42h13v1h-13zM48 42h1v1h-1zM51 42h8v1h-8zM63 42h1v1h-1zM65 42h3v1h-3zM0 43h7v1h-7zM9 43h2v1h-2zM19 43h1v1h-1zM22 43h2v1h-2zM25 43h14v1h-14zM40 43h1v1h-1zM47 43h2v1h-2zM51 43h8v1h-8zM62 43h2v1h-2zM0 44h5v1h-5zM9 44h2v1h-2zM23 44h5v1h-5zM29 44h9v1h-9zM45 44h1v1h-1zM54 44h6v1h-6zM62 44h3v1h-3zM66 44h2v1h-2zM0 45h2v1h-2zM9 45h6v1h-6zM21 45h3v1h-3zM27 45h1v1h-1zM29 45h9v1h-9zM39 45h3v1h-3zM56 45h2v1h-2zM63 45h5v1h-5zM69 45h1v1h-1zM0 46h2v1h-2zM12 46h3v1h-3zM16 46h4v1h-4zM27 46h1v1h-1zM30 46h6v1h-6zM37 46h1v1h-1zM39 46h4v1h-4zM50 46h1v1h-1zM62 46h5v1h-5zM69 46h1v1h-1zM3 47h1v1h-1zM7 47h2v1h-2zM12 47h1v1h-1zM15 47h8v1h-8zM27 47h2v1h-2zM31 47h8v1h-8zM54 47h2v1h-2zM58 47h3v1h-3zM63 47h4v1h-4zM1 48h3v1h-3zM7 48h2v1h-2zM15 48h9v1h-9zM27 48h1v1h-1zM33 48h1v1h-1zM35 48h5v1h-5zM48 48h2v1h-2zM53 48h1v1h-1zM56 48h1v1h-1zM58 48h3v1h-3zM63 48h3v1h-3zM68 48h2v1h-2zM0 49h3v1h-3zM13 49h2v1h-2zM20 49h7v1h-7zM35 49h5v1h-5zM43 49h2v1h-2zM47 49h3v1h-3zM53 49h1v1h-1zM58 49h2v1h-2zM64 49h1v1h-1zM68 49h2v1h-2zM0 50h3v1h-3zM13 50h1v1h-1zM21 50h4v1h-4zM26 50h1v1h-1zM34 50h6v1h-6zM43 50h8v1h-8zM53 50h2v1h-2zM57 50h2v1h-2zM67 50h3v1h-3zM0 51h3v1h-3zM13 51h2v1h-2zM16 51h2v1h-2zM20 51h3v1h-3zM27 51h3v1h-3zM36 51h4v1h-4zM43 51h9v1h-9zM53 51h1v1h-1zM58 51h1v1h-1zM66 51h4v1h-4z" fill="#dccaf0"/>
<path d="M0 0h2v1h-2zM8 0h9v1h-9zM19 0h5v1h-5zM41 0h4v1h-4zM57 0h1v1h-1zM64 0h6v1h-6zM0 1h1v1h-1zM7 1h5v1h-5zM19 1h5v1h-5zM39 1h8v1h-8zM65 1h5v1h-5zM0 2h1v1h-1zM7 2h3v1h-3zM11 2h1v1h-1zM19 2h5v1h-5zM31 2h2v1h-2zM41 2h5v1h-5zM54 2h1v1h-1zM65 2h5v1h-5zM7 3h3v1h-3zM19 3h5v1h-5zM31 3h4v1h-4zM42 3h4v1h-4zM48 3h1v1h-1zM66 3h4v1h-4zM3 4h2v1h-2zM20 4h4v1h-4zM32 4h4v1h-4zM43 4h3v1h-3zM67 4h3v1h-3zM4 5h5v1h-5zM20 5h7v1h-7zM32 5h3v1h-3zM43 5h2v1h-2zM65 5h5v1h-5zM4 6h5v1h-5zM15 6h1v1h-1zM25 6h2v1h-2zM32 6h1v1h-1zM56 6h1v1h-1zM65 6h1v1h-1zM4 7h3v1h-3zM18 7h1v1h-1zM44 7h1v1h-1zM55 7h3v1h-3zM5 8h1v1h-1zM18 8h2v1h-2zM21 8h1v1h-1zM41 8h1v1h-1zM44 8h1v1h-1zM54 8h4v1h-4zM60 8h1v1h-1zM65 8h2v1h-2zM12 9h2v1h-2zM18 9h5v1h-5zM30 9h4v1h-4zM38 9h1v1h-1zM43 9h2v1h-2zM51 9h7v1h-7zM60 9h3v1h-3zM65 9h3v1h-3zM11 10h4v1h-4zM18 10h6v1h-6zM31 10h3v1h-3zM43 10h2v1h-2zM50 10h4v1h-4zM57 10h2v1h-2zM62 10h2v1h-2zM65 10h3v1h-3zM10 11h6v1h-6zM18 11h6v1h-6zM32 11h1v1h-1zM50 11h4v1h-4zM62 11h1v1h-1zM69 11h1v1h-1zM0 12h1v1h-1zM7 12h8v1h-8zM22 12h1v1h-1zM41 12h3v1h-3zM50 12h3v1h-3zM60 12h2v1h-2zM69 12h1v1h-1zM0 13h2v1h-2zM6 13h6v1h-6zM34 13h1v1h-1zM41 13h4v1h-4zM51 13h2v1h-2zM57 13h6v1h-6zM0 14h3v1h-3zM6 14h5v1h-5zM42 14h4v1h-4zM58 14h5v1h-5zM0 15h7v1h-7zM9 15h1v1h-1zM23 15h1v1h-1zM30 15h4v1h-4zM42 15h4v1h-4zM58 15h4v1h-4zM0 16h8v1h-8zM9 16h1v1h-1zM16 16h2v1h-2zM22 16h12v1h-12zM42 16h2v1h-2zM54 16h1v1h-1zM58 16h4v1h-4zM68 16h2v1h-2zM0 17h7v1h-7zM8 17h1v1h-1zM14 17h2v1h-2zM18 17h1v1h-1zM22 17h12v1h-12zM36 17h4v1h-4zM53 17h3v1h-3zM59 17h4v1h-4zM67 17h3v1h-3zM0 18h6v1h-6zM8 18h1v1h-1zM14 18h1v1h-1zM18 18h2v1h-2zM22 18h5v1h-5zM29 18h4v1h-4zM37 18h3v1h-3zM53 18h3v1h-3zM61 18h4v1h-4zM66 18h4v1h-4zM0 19h1v1h-1zM5 19h1v1h-1zM18 19h1v1h-1zM22 19h5v1h-5zM30 19h3v1h-3zM37 19h3v1h-3zM54 19h2v1h-2zM61 19h9v1h-9zM18 20h5v1h-5zM25 20h1v1h-1zM37 20h2v1h-2zM42 20h4v1h-4zM61 20h5v1h-5zM67 20h3v1h-3zM2 21h1v1h-1zM18 21h3v1h-3zM24 21h2v1h-2zM42 21h5v1h-5zM60 21h6v1h-6zM69 21h1v1h-1zM1 22h3v1h-3zM6 22h1v1h-1zM15 22h4v1h-4zM23 22h4v1h-4zM37 22h2v1h-2zM43 22h8v1h-8zM60 22h1v1h-1zM63 22h3v1h-3zM1 23h4v1h-4zM6 23h2v1h-2zM16 23h3v1h-3zM23 23h5v1h-5zM32 23h1v1h-1zM38 23h2v1h-2zM44 23h6v1h-6zM60 23h7v1h-7zM1 24h3v1h-3zM8 24h4v1h-4zM16 24h4v1h-4zM24 24h3v1h-3zM31 24h1v1h-1zM39 24h1v1h-1zM45 24h6v1h-6zM60 24h10v1h-10zM1 25h2v1h-2zM8 25h5v1h-5zM16 25h4v1h-4zM25 25h2v1h-2zM38 25h2v1h-2zM45 25h5v1h-5zM59 25h5v1h-5zM65 25h5v1h-5zM9 26h4v1h-4zM17 26h2v1h-2zM20 26h1v1h-1zM29 26h5v1h-5zM38 26h1v1h-1zM45 26h4v1h-4zM52 26h1v1h-1zM60 26h3v1h-3zM65 26h5v1h-5zM1 27h4v1h-4zM13 27h1v1h-1zM21 27h1v1h-1zM30 27h4v1h-4zM38 27h1v1h-1zM48 27h1v1h-1zM61 27h2v1h-2zM66 27h4v1h-4zM2 28h5v1h-5zM13 28h1v1h-1zM31 28h3v1h-3zM38 28h1v1h-1zM2 29h5v1h-5zM13 29h2v1h-2zM26 29h3v1h-3zM31 29h3v1h-3zM43 29h1v1h-1zM64 29h1v1h-1zM2 30h6v1h-6zM13 30h2v1h-2zM26 30h3v1h-3zM32 30h3v1h-3zM41 30h5v1h-5zM61 30h2v1h-2zM64 30h3v1h-3zM1 31h7v1h-7zM16 31h1v1h-1zM25 31h5v1h-5zM32 31h4v1h-4zM41 31h4v1h-4zM60 31h3v1h-3zM65 31h2v1h-2zM0 32h1v1h-1zM3 32h5v1h-5zM25 32h5v1h-5zM34 32h1v1h-1zM57 32h1v1h-1zM59 32h2v1h-2zM64 32h3v1h-3zM68 32h2v1h-2zM4 33h4v1h-4zM13 33h2v1h-2zM16 33h2v1h-2zM25 33h5v1h-5zM34 33h1v1h-1zM53 33h2v1h-2zM59 33h1v1h-1zM64 33h6v1h-6zM3 34h4v1h-4zM12 34h4v1h-4zM17 34h1v1h-1zM26 34h5v1h-5zM34 34h4v1h-4zM49 34h2v1h-2zM52 34h4v1h-4zM64 34h6v1h-6zM6 35h2v1h-2zM17 35h1v1h-1zM29 35h3v1h-3zM34 35h3v1h-3zM46 35h4v1h-4zM53 35h4v1h-4zM62 35h7v1h-7zM5 36h3v1h-3zM16 36h2v1h-2zM20 36h2v1h-2zM24 36h3v1h-3zM28 36h4v1h-4zM33 36h4v1h-4zM42 36h1v1h-1zM46 36h4v1h-4zM53 36h4v1h-4zM61 36h6v1h-6zM3 37h2v1h-2zM11 37h3v1h-3zM15 37h1v1h-1zM20 37h2v1h-2zM25 37h2v1h-2zM28 37h4v1h-4zM34 37h3v1h-3zM40 37h2v1h-2zM43 37h7v1h-7zM53 37h3v1h-3zM62 37h5v1h-5zM0 38h4v1h-4zM18 38h2v1h-2zM24 38h2v1h-2zM29 38h3v1h-3zM34 38h2v1h-2zM40 38h2v1h-2zM43 38h6v1h-6zM0 39h3v1h-3zM18 39h1v1h-1zM43 39h4v1h-4zM58 39h1v1h-1zM0 40h3v1h-3zM11 40h1v1h-1zM15 40h2v1h-2zM27 40h1v1h-1zM44 40h1v1h-1zM54 40h6v1h-6zM65 40h3v1h-3zM0 41h4v1h-4zM11 41h2v1h-2zM16 41h2v1h-2zM25 41h1v1h-1zM27 41h4v1h-4zM34 41h2v1h-2zM53 41h6v1h-6zM65 41h4v1h-4zM0 42h5v1h-5zM11 42h2v1h-2zM21 42h3v1h-3zM25 42h1v1h-1zM27 42h3v1h-3zM33 42h5v1h-5zM51 42h8v1h-8zM66 42h2v1h-2zM0 43h6v1h-6zM9 43h1v1h-1zM22 43h2v1h-2zM27 43h12v1h-12zM52 43h7v1h-7zM0 44h2v1h-2zM3 44h2v1h-2zM9 44h2v1h-2zM26 44h2v1h-2zM30 44h8v1h-8zM55 44h3v1h-3zM63 44h2v1h-2zM0 45h1v1h-1zM9 45h2v1h-2zM12 45h3v1h-3zM30 45h6v1h-6zM40 45h1v1h-1zM56 45h2v1h-2zM63 45h4v1h-4zM69 45h1v1h-1zM0 46h1v1h-1zM12 46h3v1h-3zM16 46h2v1h-2zM30 46h6v1h-6zM40 46h1v1h-1zM63 46h4v1h-4zM69 46h1v1h-1zM7 47h2v1h-2zM15 47h7v1h-7zM32 47h6v1h-6zM59 47h1v1h-1zM63 47h3v1h-3zM1 48h3v1h-3zM8 48h1v1h-1zM17 48h7v1h-7zM35 48h4v1h-4zM59 48h1v1h-1zM63 48h1v1h-1zM69 48h1v1h-1zM1 49h2v1h-2zM21 49h4v1h-4zM35 49h5v1h-5zM43 49h1v1h-1zM48 49h2v1h-2zM58 49h2v1h-2zM68 49h2v1h-2zM0 50h3v1h-3zM21 50h3v1h-3zM35 50h5v1h-5zM43 50h2v1h-2zM46 50h4v1h-4zM67 50h3v1h-3zM0 51h2v1h-2zM13 51h1v1h-1zM27 51h3v1h-3zM37 51h3v1h-3zM43 51h8v1h-8zM67 51h3v1h-3z" fill="#a865dc"/>
<path d="M0 0h1v1h-1zM8 0h2v1h-2zM11 0h3v1h-3zM19 0h4v1h-4zM41 0h4v1h-4zM64 0h6v1h-6zM7 1h5v1h-5zM19 1h5v1h-5zM40 1h6v1h-6zM65 1h5v1h-5zM7 2h3v1h-3zM19 2h5v1h-5zM41 2h5v1h-5zM66 2h4v1h-4zM8 3h1v1h-1zM20 3h4v1h-4zM32 3h1v1h-1zM42 3h4v1h-4zM66 3h4v1h-4zM20 4h4v1h-4zM33 4h1v1h-1zM43 4h3v1h-3zM68 4h2v1h-2zM4 5h5v1h-5zM20 5h6v1h-6zM33 5h1v1h-1zM43 5h2v1h-2zM69 5h1v1h-1zM4 6h5v1h-5zM32 6h1v1h-1zM4 7h3v1h-3zM55 7h3v1h-3zM5 8h1v1h-1zM18 8h1v1h-1zM41 8h1v1h-1zM54 8h4v1h-4zM65 8h2v1h-2zM12 9h2v1h-2zM18 9h5v1h-5zM30 9h2v1h-2zM33 9h1v1h-1zM43 9h2v1h-2zM53 9h5v1h-5zM60 9h3v1h-3zM65 9h3v1h-3zM11 10h4v1h-4zM18 10h6v1h-6zM31 10h2v1h-2zM43 10h2v1h-2zM51 10h3v1h-3zM62 10h1v1h-1zM66 10h2v1h-2zM10 11h5v1h-5zM18 11h5v1h-5zM51 11h2v1h-2zM69 11h1v1h-1zM0 12h1v1h-1zM8 12h7v1h-7zM42 12h1v1h-1zM50 12h3v1h-3zM60 12h1v1h-1zM69 12h1v1h-1zM0 13h2v1h-2zM7 13h4v1h-4zM41 13h4v1h-4zM51 13h2v1h-2zM59 13h3v1h-3zM0 14h2v1h-2zM6 14h5v1h-5zM42 14h3v1h-3zM58 14h4v1h-4zM0 15h7v1h-7zM32 15h1v1h-1zM42 15h3v1h-3zM58 15h4v1h-4zM0 16h8v1h-8zM23 16h3v1h-3zM28 16h6v1h-6zM43 16h1v1h-1zM59 16h3v1h-3zM68 16h2v1h-2zM0 17h3v1h-3zM4 17h3v1h-3zM8 17h1v1h-1zM15 17h1v1h-1zM22 17h5v1h-5zM28 17h5v1h-5zM36 17h4v1h-4zM53 17h2v1h-2zM60 17h1v1h-1zM67 17h3v1h-3zM0 18h2v1h-2zM4 18h2v1h-2zM22 18h5v1h-5zM29 18h4v1h-4zM37 18h3v1h-3zM54 18h2v1h-2zM61 18h3v1h-3zM66 18h4v1h-4zM18 19h1v1h-1zM22 19h1v1h-1zM24 19h3v1h-3zM30 19h3v1h-3zM37 19h3v1h-3zM54 19h2v1h-2zM61 19h9v1h-9zM18 20h3v1h-3zM22 20h1v1h-1zM37 20h2v1h-2zM43 20h3v1h-3zM62 20h4v1h-4zM67 20h3v1h-3zM2 21h1v1h-1zM18 21h2v1h-2zM42 21h5v1h-5zM62 21h4v1h-4zM69 21h1v1h-1zM1 22h3v1h-3zM17 22h2v1h-2zM24 22h3v1h-3zM37 22h1v1h-1zM43 22h7v1h-7zM64 22h2v1h-2zM1 23h3v1h-3zM16 23h2v1h-2zM24 23h4v1h-4zM44 23h6v1h-6zM60 23h2v1h-2zM64 23h2v1h-2zM1 24h3v1h-3zM9 24h3v1h-3zM16 24h3v1h-3zM24 24h3v1h-3zM39 24h1v1h-1zM45 24h5v1h-5zM60 24h4v1h-4zM65 24h4v1h-4zM1 25h2v1h-2zM8 25h5v1h-5zM17 25h2v1h-2zM25 25h2v1h-2zM45 25h5v1h-5zM59 25h5v1h-5zM65 25h5v1h-5zM10 26h1v1h-1zM32 26h2v1h-2zM38 26h1v1h-1zM45 26h4v1h-4zM60 26h3v1h-3zM65 26h5v1h-5zM3 27h1v1h-1zM21 27h1v1h-1zM30 27h4v1h-4zM61 27h2v1h-2zM67 27h2v1h-2zM2 28h4v1h-4zM13 28h1v1h-1zM31 28h3v1h-3zM2 29h5v1h-5zM13 29h2v1h-2zM27 29h2v1h-2zM31 29h3v1h-3zM2 30h5v1h-5zM13 30h2v1h-2zM26 30h3v1h-3zM32 30h3v1h-3zM41 30h4v1h-4zM64 30h3v1h-3zM2 31h6v1h-6zM25 31h4v1h-4zM32 31h3v1h-3zM41 31h4v1h-4zM61 31h1v1h-1zM65 31h2v1h-2zM0 32h1v1h-1zM4 32h4v1h-4zM25 32h5v1h-5zM65 32h2v1h-2zM69 32h1v1h-1zM5 33h3v1h-3zM14 33h1v1h-1zM17 33h1v1h-1zM26 33h4v1h-4zM53 33h2v1h-2zM64 33h6v1h-6zM5 34h2v1h-2zM13 34h2v1h-2zM26 34h4v1h-4zM35 34h2v1h-2zM52 34h4v1h-4zM64 34h6v1h-6zM29 35h2v1h-2zM34 35h3v1h-3zM47 35h3v1h-3zM53 35h4v1h-4zM62 35h6v1h-6zM20 36h1v1h-1zM25 36h1v1h-1zM29 36h3v1h-3zM34 36h3v1h-3zM46 36h3v1h-3zM53 36h4v1h-4zM62 36h5v1h-5zM12 37h1v1h-1zM28 37h3v1h-3zM34 37h3v1h-3zM41 37h1v1h-1zM44 37h1v1h-1zM46 37h3v1h-3zM53 37h3v1h-3zM63 37h4v1h-4zM0 38h2v1h-2zM19 38h1v1h-1zM29 38h2v1h-2zM41 38h1v1h-1zM43 38h3v1h-3zM48 38h1v1h-1zM0 39h2v1h-2zM43 39h4v1h-4zM0 40h2v1h-2zM11 40h1v1h-1zM16 40h1v1h-1zM27 40h1v1h-1zM54 40h5v1h-5zM65 40h3v1h-3zM0 41h4v1h-4zM11 41h2v1h-2zM28 41h2v1h-2zM34 41h1v1h-1zM54 41h5v1h-5zM65 41h3v1h-3zM0 42h5v1h-5zM27 42h3v1h-3zM33 42h5v1h-5zM51 42h1v1h-1zM53 42h6v1h-6zM66 42h2v1h-2zM0 43h5v1h-5zM27 43h2v1h-2zM31 43h7v1h-7zM53 43h5v1h-5zM0 44h1v1h-1zM4 44h1v1h-1zM9 44h2v1h-2zM31 44h7v1h-7zM56 44h2v1h-2zM0 45h1v1h-1zM10 45h1v1h-1zM30 45h6v1h-6zM40 45h1v1h-1zM56 45h2v1h-2zM63 45h3v1h-3zM12 46h2v1h-2zM31 46h5v1h-5zM63 46h3v1h-3zM69 46h1v1h-1zM7 47h1v1h-1zM16 47h5v1h-5zM32 47h6v1h-6zM63 47h3v1h-3zM2 48h1v1h-1zM19 48h5v1h-5zM36 48h3v1h-3zM1 49h2v1h-2zM21 49h4v1h-4zM35 49h5v1h-5zM48 49h1v1h-1zM68 49h2v1h-2zM0 50h3v1h-3zM21 50h3v1h-3zM35 50h5v1h-5zM43 50h2v1h-2zM46 50h4v1h-4zM68 50h2v1h-2zM0 51h2v1h-2zM37 51h2v1h-2zM43 51h8v1h-8zM68 51h2v1h-2z" fill="#8a36d0"/>
<path d="M20 0h3v1h-3zM42 0h2v1h-2zM8 1h1v1h-1zM20 1h3v1h-3zM42 1h2v1h-2zM66 1h3v1h-3zM20 2h3v1h-3zM66 2h4v1h-4zM21 3h1v1h-1zM68 3h1v1h-1zM21 4h1v1h-1zM56 8h1v1h-1zM20 9h2v1h-2zM12 10h2v1h-2zM20 10h3v1h-3zM12 11h3v1h-3zM21 11h1v1h-1zM59 14h1v1h-1zM59 15h2v1h-2zM0 17h1v1h-1zM5 17h1v1h-1zM23 17h2v1h-2zM31 17h1v1h-1zM24 18h2v1h-2zM68 18h2v1h-2zM67 19h3v1h-3zM63 20h2v1h-2zM68 20h1v1h-1zM2 23h1v1h-1zM25 23h2v1h-2zM45 23h4v1h-4zM46 24h4v1h-4zM61 24h1v1h-1zM46 25h3v1h-3zM61 25h2v1h-2zM66 25h3v1h-3zM67 26h2v1h-2zM32 27h1v1h-1zM32 28h1v1h-1zM3 29h3v1h-3zM3 30h3v1h-3zM27 30h2v1h-2zM43 30h1v1h-1zM3 31h3v1h-3zM26 31h3v1h-3zM5 32h2v1h-2zM26 32h3v1h-3zM26 33h2v1h-2zM53 34h2v1h-2zM64 34h3v1h-3zM53 35h3v1h-3zM64 35h3v1h-3zM35 36h1v1h-1zM54 36h2v1h-2zM65 36h1v1h-1zM0 38h1v1h-1zM0 39h1v1h-1zM66 41h1v1h-1zM2 42h1v1h-1zM35 42h1v1h-1zM34 43h2v1h-2zM33 44h3v1h-3zM32 45h3v1h-3zM32 46h3v1h-3zM64 46h1v1h-1zM64 47h1v1h-1zM36 48h2v1h-2zM22 49h2v1h-2zM36 49h3v1h-3zM37 50h2v1h-2zM46 51h3v1h-3z" fill="#7228b6"/>
</g>
<g transform="translate(176 527.9)" filter="url(#imblur)">
<rect width="70" height="52" fill="#f8f1f8"/>
<path d="M0 0h1v1h-1zM6 0h1v1h-1zM9 0h1v1h-1zM13 0h3v1h-3zM17 0h2v1h-2zM24 0h3v1h-3zM31 0h2v1h-2zM40 0h1v1h-1zM56 0h8v1h-8zM1 1h1v1h-1zM7 1h6v1h-6zM23 1h3v1h-3zM31 1h2v1h-2zM43 1h2v1h-2zM50 1h1v1h-1zM52 1h2v1h-2zM57 1h7v1h-7zM1 2h2v1h-2zM7 2h6v1h-6zM23 2h3v1h-3zM32 2h1v1h-1zM43 2h1v1h-1zM50 2h1v1h-1zM53 2h1v1h-1zM61 2h2v1h-2zM1 3h3v1h-3zM9 3h4v1h-4zM18 3h3v1h-3zM23 3h3v1h-3zM29 3h1v1h-1zM38 3h1v1h-1zM49 3h2v1h-2zM53 3h1v1h-1zM56 3h7v1h-7zM1 4h4v1h-4zM6 4h2v1h-2zM10 4h2v1h-2zM17 4h4v1h-4zM28 4h2v1h-2zM38 4h3v1h-3zM48 4h2v1h-2zM54 4h9v1h-9zM66 4h1v1h-1zM3 5h2v1h-2zM6 5h2v1h-2zM17 5h3v1h-3zM38 5h4v1h-4zM48 5h2v1h-2zM54 5h8v1h-8zM10 6h1v1h-1zM17 6h3v1h-3zM39 6h2v1h-2zM55 6h6v1h-6zM69 6h1v1h-1zM0 7h2v1h-2zM18 7h2v1h-2zM35 7h1v1h-1zM46 7h2v1h-2zM59 7h2v1h-2zM1 8h1v1h-1zM16 8h1v1h-1zM19 8h1v1h-1zM34 8h2v1h-2zM46 8h3v1h-3zM50 8h1v1h-1zM8 9h3v1h-3zM13 9h4v1h-4zM25 9h1v1h-1zM41 9h3v1h-3zM46 9h1v1h-1zM50 9h1v1h-1zM62 9h1v1h-1zM69 9h1v1h-1zM4 10h3v1h-3zM8 10h3v1h-3zM13 10h3v1h-3zM19 10h1v1h-1zM25 10h2v1h-2zM41 10h3v1h-3zM62 10h1v1h-1zM4 11h3v1h-3zM8 11h2v1h-2zM13 11h3v1h-3zM19 11h3v1h-3zM32 11h2v1h-2zM41 11h3v1h-3zM52 11h1v1h-1zM64 11h1v1h-1zM67 11h2v1h-2zM2 12h7v1h-7zM19 12h3v1h-3zM25 12h1v1h-1zM30 12h4v1h-4zM63 12h7v1h-7zM0 13h1v1h-1zM2 13h7v1h-7zM12 13h1v1h-1zM19 13h3v1h-3zM24 13h2v1h-2zM32 13h2v1h-2zM58 13h1v1h-1zM60 13h2v1h-2zM63 13h7v1h-7zM0 14h1v1h-1zM3 14h6v1h-6zM18 14h3v1h-3zM50 14h1v1h-1zM58 14h2v1h-2zM61 14h7v1h-7zM69 14h1v1h-1zM0 15h1v1h-1zM3 15h3v1h-3zM7 15h2v1h-2zM13 15h3v1h-3zM24 15h2v1h-2zM39 15h1v1h-1zM45 15h1v1h-1zM49 15h2v1h-2zM57 15h1v1h-1zM61 15h7v1h-7zM69 15h1v1h-1zM0 16h7v1h-7zM14 16h2v1h-2zM23 16h3v1h-3zM34 16h2v1h-2zM38 16h3v1h-3zM50 16h1v1h-1zM54 16h1v1h-1zM56 16h2v1h-2zM61 16h4v1h-4zM67 16h3v1h-3zM0 17h7v1h-7zM15 17h2v1h-2zM23 17h5v1h-5zM35 17h1v1h-1zM38 17h3v1h-3zM50 17h1v1h-1zM67 17h2v1h-2zM1 18h3v1h-3zM6 18h1v1h-1zM9 18h1v1h-1zM16 18h1v1h-1zM26 18h2v1h-2zM1 19h3v1h-3zM5 19h1v1h-1zM9 19h2v1h-2zM16 19h3v1h-3zM29 19h2v1h-2zM44 19h1v1h-1zM52 19h4v1h-4zM57 19h4v1h-4zM1 20h3v1h-3zM9 20h1v1h-1zM16 20h2v1h-2zM29 20h2v1h-2zM50 20h3v1h-3zM58 20h4v1h-4zM69 20h1v1h-1zM0 21h1v1h-1zM2 21h1v1h-1zM8 21h3v1h-3zM13 21h5v1h-5zM29 21h2v1h-2zM38 21h2v1h-2zM42 21h2v1h-2zM50 21h2v1h-2zM58 21h4v1h-4zM0 22h3v1h-3zM9 22h2v1h-2zM14 22h4v1h-4zM29 22h3v1h-3zM39 22h2v1h-2zM42 22h4v1h-4zM48 22h4v1h-4zM56 22h9v1h-9zM1 23h1v1h-1zM7 23h4v1h-4zM14 23h1v1h-1zM30 23h1v1h-1zM44 23h9v1h-9zM56 23h3v1h-3zM62 23h2v1h-2zM67 23h1v1h-1zM7 24h8v1h-8zM23 24h3v1h-3zM30 24h1v1h-1zM44 24h1v1h-1zM47 24h4v1h-4zM67 24h1v1h-1zM10 25h4v1h-4zM23 25h3v1h-3zM30 25h2v1h-2zM40 25h3v1h-3zM55 25h2v1h-2zM62 25h3v1h-3zM67 25h1v1h-1zM7 26h1v1h-1zM12 26h2v1h-2zM22 26h4v1h-4zM29 26h3v1h-3zM39 26h2v1h-2zM44 26h2v1h-2zM55 26h3v1h-3zM62 26h3v1h-3zM67 26h2v1h-2zM8 27h2v1h-2zM12 27h1v1h-1zM17 27h1v1h-1zM19 27h6v1h-6zM29 27h2v1h-2zM34 27h2v1h-2zM38 27h2v1h-2zM43 27h4v1h-4zM48 27h3v1h-3zM55 27h4v1h-4zM64 27h2v1h-2zM67 27h3v1h-3zM0 28h2v1h-2zM8 28h2v1h-2zM11 28h3v1h-3zM18 28h7v1h-7zM34 28h2v1h-2zM37 28h9v1h-9zM48 28h4v1h-4zM55 28h3v1h-3zM64 28h2v1h-2zM68 28h2v1h-2zM0 29h2v1h-2zM4 29h1v1h-1zM7 29h1v1h-1zM9 29h4v1h-4zM19 29h2v1h-2zM22 29h3v1h-3zM29 29h1v1h-1zM34 29h2v1h-2zM37 29h6v1h-6zM48 29h4v1h-4zM55 29h5v1h-5zM62 29h1v1h-1zM64 29h4v1h-4zM0 30h2v1h-2zM7 30h1v1h-1zM9 30h4v1h-4zM18 30h2v1h-2zM22 30h3v1h-3zM29 30h2v1h-2zM36 30h2v1h-2zM41 30h2v1h-2zM49 30h2v1h-2zM54 30h6v1h-6zM62 30h5v1h-5zM0 31h1v1h-1zM7 31h2v1h-2zM11 31h2v1h-2zM19 31h6v1h-6zM41 31h4v1h-4zM50 31h2v1h-2zM55 31h6v1h-6zM62 31h1v1h-1zM68 31h2v1h-2zM2 32h3v1h-3zM20 32h4v1h-4zM34 32h2v1h-2zM42 32h3v1h-3zM51 32h1v1h-1zM56 32h5v1h-5zM0 33h2v1h-2zM3 33h4v1h-4zM21 33h3v1h-3zM34 33h2v1h-2zM40 33h5v1h-5zM46 33h2v1h-2zM57 33h1v1h-1zM59 33h2v1h-2zM69 33h1v1h-1zM1 34h7v1h-7zM10 34h2v1h-2zM15 34h1v1h-1zM21 34h2v1h-2zM29 34h1v1h-1zM34 34h1v1h-1zM36 34h1v1h-1zM41 34h5v1h-5zM60 34h3v1h-3zM68 34h2v1h-2zM1 35h2v1h-2zM4 35h4v1h-4zM11 35h1v1h-1zM15 35h3v1h-3zM31 35h1v1h-1zM36 35h1v1h-1zM41 35h5v1h-5zM52 35h3v1h-3zM60 35h1v1h-1zM69 35h1v1h-1zM1 36h1v1h-1zM15 36h3v1h-3zM24 36h3v1h-3zM31 36h3v1h-3zM42 36h4v1h-4zM47 36h3v1h-3zM53 36h2v1h-2zM69 36h1v1h-1zM12 37h5v1h-5zM32 37h2v1h-2zM42 37h4v1h-4zM47 37h3v1h-3zM57 37h1v1h-1zM68 37h1v1h-1zM6 38h1v1h-1zM12 38h5v1h-5zM21 38h1v1h-1zM32 38h2v1h-2zM42 38h4v1h-4zM47 38h3v1h-3zM54 38h3v1h-3zM5 39h3v1h-3zM12 39h3v1h-3zM20 39h3v1h-3zM25 39h2v1h-2zM32 39h1v1h-1zM45 39h1v1h-1zM48 39h2v1h-2zM53 39h3v1h-3zM65 39h2v1h-2zM5 40h4v1h-4zM13 40h2v1h-2zM19 40h4v1h-4zM24 40h3v1h-3zM38 40h1v1h-1zM41 40h1v1h-1zM49 40h2v1h-2zM52 40h2v1h-2zM65 40h4v1h-4zM0 41h1v1h-1zM5 41h4v1h-4zM16 41h1v1h-1zM20 41h3v1h-3zM25 41h1v1h-1zM40 41h2v1h-2zM45 41h3v1h-3zM66 41h4v1h-4zM5 42h4v1h-4zM12 42h2v1h-2zM21 42h2v1h-2zM40 42h3v1h-3zM49 42h1v1h-1zM65 42h5v1h-5zM6 43h1v1h-1zM13 43h2v1h-2zM22 43h3v1h-3zM41 43h2v1h-2zM49 43h1v1h-1zM64 43h6v1h-6zM16 44h1v1h-1zM21 44h5v1h-5zM35 44h1v1h-1zM42 44h4v1h-4zM64 44h3v1h-3zM2 45h1v1h-1zM15 45h4v1h-4zM21 45h4v1h-4zM34 45h1v1h-1zM41 45h2v1h-2zM55 45h3v1h-3zM64 45h3v1h-3zM69 45h1v1h-1zM0 46h3v1h-3zM15 46h3v1h-3zM20 46h6v1h-6zM28 46h1v1h-1zM34 46h2v1h-2zM39 46h4v1h-4zM56 46h2v1h-2zM59 46h2v1h-2zM63 46h3v1h-3zM69 46h1v1h-1zM0 47h1v1h-1zM5 47h1v1h-1zM13 47h3v1h-3zM24 47h2v1h-2zM34 47h2v1h-2zM40 47h2v1h-2zM53 47h1v1h-1zM59 47h1v1h-1zM69 47h1v1h-1zM0 48h1v1h-1zM5 48h2v1h-2zM8 48h3v1h-3zM12 48h3v1h-3zM25 48h1v1h-1zM33 48h2v1h-2zM51 48h3v1h-3zM59 48h1v1h-1zM7 49h5v1h-5zM25 49h2v1h-2zM33 49h2v1h-2zM38 49h2v1h-2zM51 49h2v1h-2zM8 50h4v1h-4zM18 50h2v1h-2zM24 50h3v1h-3zM29 50h4v1h-4zM35 50h3v1h-3zM42 50h5v1h-5zM58 50h2v1h-2zM4 51h2v1h-2zM8 51h3v1h-3zM12 51h1v1h-1zM18 51h2v1h-2zM22 51h5v1h-5zM28 51h4v1h-4zM35 51h2v1h-2zM41 51h6v1h-6zM58 51h4v1h-4zM65 51h1v1h-1z" fill="#dccaf0"/>
<path d="M13 0h3v1h-3zM26 0h1v1h-1zM57 0h6v1h-6zM10 1h2v1h-2zM24 1h2v1h-2zM58 1h5v1h-5zM1 2h2v1h-2zM8 2h1v1h-1zM10 2h3v1h-3zM23 2h3v1h-3zM61 2h1v1h-1zM1 3h3v1h-3zM10 3h3v1h-3zM19 3h1v1h-1zM24 3h2v1h-2zM57 3h5v1h-5zM1 4h3v1h-3zM17 4h3v1h-3zM39 4h1v1h-1zM55 4h7v1h-7zM17 5h3v1h-3zM39 5h2v1h-2zM55 5h7v1h-7zM18 6h2v1h-2zM55 6h1v1h-1zM59 6h2v1h-2zM18 7h1v1h-1zM47 8h1v1h-1zM13 9h3v1h-3zM41 9h3v1h-3zM46 9h1v1h-1zM4 10h2v1h-2zM13 10h3v1h-3zM41 10h3v1h-3zM5 11h1v1h-1zM14 11h2v1h-2zM32 11h2v1h-2zM42 11h1v1h-1zM5 12h4v1h-4zM19 12h3v1h-3zM32 12h2v1h-2zM69 12h1v1h-1zM0 13h1v1h-1zM2 13h3v1h-3zM6 13h3v1h-3zM19 13h2v1h-2zM33 13h1v1h-1zM64 13h3v1h-3zM69 13h1v1h-1zM0 14h1v1h-1zM4 14h1v1h-1zM6 14h3v1h-3zM61 14h6v1h-6zM0 15h1v1h-1zM39 15h1v1h-1zM49 15h1v1h-1zM61 15h6v1h-6zM69 15h1v1h-1zM0 16h1v1h-1zM24 16h1v1h-1zM38 16h3v1h-3zM62 16h3v1h-3zM69 16h1v1h-1zM0 17h4v1h-4zM6 17h1v1h-1zM24 17h3v1h-3zM39 17h2v1h-2zM68 17h1v1h-1zM1 18h3v1h-3zM1 19h3v1h-3zM9 19h1v1h-1zM30 19h1v1h-1zM2 20h1v1h-1zM9 20h1v1h-1zM30 20h1v1h-1zM58 20h3v1h-3zM14 21h3v1h-3zM51 21h1v1h-1zM58 21h3v1h-3zM15 22h2v1h-2zM30 22h1v1h-1zM39 22h1v1h-1zM42 22h1v1h-1zM48 22h3v1h-3zM58 22h3v1h-3zM9 23h1v1h-1zM48 23h3v1h-3zM62 23h1v1h-1zM9 24h5v1h-5zM24 24h1v1h-1zM48 24h3v1h-3zM67 24h1v1h-1zM11 25h3v1h-3zM23 25h3v1h-3zM63 25h1v1h-1zM23 26h3v1h-3zM30 26h1v1h-1zM45 26h1v1h-1zM56 26h1v1h-1zM63 26h1v1h-1zM22 27h3v1h-3zM44 27h2v1h-2zM56 27h2v1h-2zM9 28h1v1h-1zM12 28h1v1h-1zM19 28h2v1h-2zM22 28h3v1h-3zM34 28h2v1h-2zM38 28h2v1h-2zM41 28h1v1h-1zM44 28h1v1h-1zM48 28h3v1h-3zM55 28h2v1h-2zM64 28h1v1h-1zM0 29h1v1h-1zM19 29h1v1h-1zM22 29h3v1h-3zM37 29h2v1h-2zM41 29h1v1h-1zM49 29h2v1h-2zM55 29h3v1h-3zM64 29h4v1h-4zM0 30h1v1h-1zM11 30h1v1h-1zM49 30h2v1h-2zM55 30h5v1h-5zM66 30h1v1h-1zM20 31h5v1h-5zM55 31h6v1h-6zM20 32h4v1h-4zM57 32h4v1h-4zM4 33h3v1h-3zM21 33h3v1h-3zM41 33h3v1h-3zM1 34h1v1h-1zM4 34h3v1h-3zM21 34h2v1h-2zM41 34h4v1h-4zM69 34h1v1h-1zM2 35h1v1h-1zM5 35h1v1h-1zM41 35h5v1h-5zM54 35h1v1h-1zM69 35h1v1h-1zM42 36h4v1h-4zM48 36h2v1h-2zM32 37h1v1h-1zM42 37h4v1h-4zM47 37h3v1h-3zM12 38h3v1h-3zM43 38h2v1h-2zM47 38h3v1h-3zM54 38h1v1h-1zM5 39h1v1h-1zM12 39h3v1h-3zM22 39h1v1h-1zM25 39h1v1h-1zM5 40h3v1h-3zM13 40h2v1h-2zM25 40h2v1h-2zM66 40h2v1h-2zM41 41h1v1h-1zM66 41h4v1h-4zM66 42h4v1h-4zM22 43h3v1h-3zM64 43h4v1h-4zM22 44h3v1h-3zM42 44h1v1h-1zM45 44h1v1h-1zM64 44h3v1h-3zM15 45h3v1h-3zM22 45h3v1h-3zM42 45h1v1h-1zM56 45h1v1h-1zM64 45h2v1h-2zM15 46h2v1h-2zM21 46h1v1h-1zM41 46h1v1h-1zM59 46h1v1h-1zM69 46h1v1h-1zM5 47h1v1h-1zM25 47h1v1h-1zM34 47h1v1h-1zM40 47h1v1h-1zM59 47h1v1h-1zM9 48h2v1h-2zM25 48h1v1h-1zM34 48h1v1h-1zM8 49h3v1h-3zM25 49h1v1h-1zM34 49h1v1h-1zM8 50h3v1h-3zM18 50h1v1h-1zM25 50h2v1h-2zM29 50h2v1h-2zM45 50h1v1h-1zM18 51h1v1h-1zM22 51h1v1h-1zM24 51h3v1h-3zM28 51h3v1h-3zM36 51h1v1h-1zM44 51h2v1h-2z" fill="#a865dc"/>
<path d="M14 0h1v1h-1zM57 0h4v1h-4zM62 0h1v1h-1zM24 1h1v1h-1zM58 1h3v1h-3zM62 1h1v1h-1zM1 2h1v1h-1zM10 2h3v1h-3zM23 2h3v1h-3zM1 3h2v1h-2zM10 3h3v1h-3zM24 3h1v1h-1zM57 3h1v1h-1zM59 3h3v1h-3zM2 4h1v1h-1zM18 4h2v1h-2zM56 4h6v1h-6zM17 5h3v1h-3zM39 5h1v1h-1zM55 5h7v1h-7zM18 6h1v1h-1zM59 6h2v1h-2zM13 9h2v1h-2zM42 9h2v1h-2zM5 10h1v1h-1zM13 10h3v1h-3zM41 10h3v1h-3zM14 11h2v1h-2zM42 11h1v1h-1zM6 12h2v1h-2zM20 12h1v1h-1zM32 12h2v1h-2zM3 13h1v1h-1zM6 13h3v1h-3zM20 13h1v1h-1zM65 13h1v1h-1zM6 14h3v1h-3zM62 14h5v1h-5zM62 15h4v1h-4zM69 15h1v1h-1zM38 16h2v1h-2zM63 16h2v1h-2zM0 17h1v1h-1zM2 17h2v1h-2zM1 18h3v1h-3zM1 19h3v1h-3zM9 19h1v1h-1zM2 20h1v1h-1zM58 20h3v1h-3zM16 21h1v1h-1zM58 21h3v1h-3zM16 22h1v1h-1zM48 22h3v1h-3zM58 22h2v1h-2zM48 23h3v1h-3zM11 24h1v1h-1zM13 24h1v1h-1zM49 24h1v1h-1zM11 25h3v1h-3zM24 25h1v1h-1zM23 26h2v1h-2zM22 27h3v1h-3zM44 27h2v1h-2zM19 28h1v1h-1zM22 28h3v1h-3zM34 28h1v1h-1zM49 28h2v1h-2zM22 29h3v1h-3zM49 29h2v1h-2zM55 29h3v1h-3zM64 29h1v1h-1zM50 30h1v1h-1zM55 30h3v1h-3zM59 30h1v1h-1zM21 31h3v1h-3zM56 31h4v1h-4zM21 32h3v1h-3zM57 32h3v1h-3zM4 33h2v1h-2zM21 33h3v1h-3zM41 33h3v1h-3zM4 34h3v1h-3zM41 34h3v1h-3zM41 35h4v1h-4zM42 36h4v1h-4zM48 36h1v1h-1zM43 37h2v1h-2zM47 37h3v1h-3zM13 38h2v1h-2zM43 38h1v1h-1zM48 38h2v1h-2zM12 39h3v1h-3zM13 40h1v1h-1zM25 40h1v1h-1zM66 41h3v1h-3zM66 42h4v1h-4zM22 43h3v1h-3zM65 43h3v1h-3zM22 44h3v1h-3zM64 44h3v1h-3zM15 45h3v1h-3zM22 45h3v1h-3zM42 45h1v1h-1zM64 45h2v1h-2zM16 46h1v1h-1zM9 48h2v1h-2zM25 48h1v1h-1zM8 49h3v1h-3zM8 50h3v1h-3zM25 50h1v1h-1zM29 50h1v1h-1zM18 51h1v1h-1zM24 51h2v1h-2zM28 51h3v1h-3zM44 51h2v1h-2z" fill="#8a36d0"/>
<path d="M14 0h1v1h-1zM58 0h3v1h-3zM59 1h1v1h-1zM11 2h1v1h-1zM2 3h1v1h-1zM11 3h1v1h-1zM60 3h2v1h-2zM57 4h1v1h-1zM59 4h3v1h-3zM18 5h1v1h-1zM59 5h2v1h-2zM14 10h1v1h-1zM42 10h1v1h-1zM7 13h1v1h-1zM7 14h1v1h-1zM64 14h2v1h-2zM63 15h2v1h-2zM2 18h1v1h-1zM2 19h1v1h-1zM59 20h1v1h-1zM58 21h3v1h-3zM49 22h1v1h-1zM49 23h2v1h-2zM23 27h1v1h-1zM23 28h1v1h-1zM56 29h1v1h-1zM55 30h2v1h-2zM22 31h2v1h-2zM59 31h1v1h-1zM21 32h3v1h-3zM22 33h1v1h-1zM42 33h1v1h-1zM5 34h1v1h-1zM41 34h3v1h-3zM42 35h1v1h-1zM43 36h2v1h-2zM43 37h1v1h-1zM48 37h1v1h-1zM13 39h1v1h-1zM66 42h2v1h-2zM23 43h1v1h-1zM66 43h1v1h-1zM22 44h3v1h-3zM65 44h1v1h-1zM16 45h1v1h-1zM23 45h1v1h-1zM9 49h2v1h-2zM9 50h1v1h-1zM25 51h1v1h-1zM29 51h1v1h-1z" fill="#7228b6"/>
</g>
<g transform="translate(250.9 527.9)" filter="url(#imblur)">
<rect width="70" height="52" fill="#f8f1f8"/>
<path d="M0 0h8v1h-8zM9 0h1v1h-1zM12 0h7v1h-7zM21 0h5v1h-5zM27 0h17v1h-17zM45 0h6v1h-6zM52 0h1v1h-1zM54 0h3v1h-3zM58 0h10v1h-10zM0 1h17v1h-17zM19 1h6v1h-6zM27 1h2v1h-2zM31 1h39v1h-39zM0 2h25v1h-25zM27 2h2v1h-2zM31 2h11v1h-11zM43 2h27v1h-27zM1 3h19v1h-19zM21 3h4v1h-4zM27 3h15v1h-15zM43 3h27v1h-27zM0 4h17v1h-17zM22 4h8v1h-8zM31 4h1v1h-1zM33 4h9v1h-9zM43 4h1v1h-1zM45 4h6v1h-6zM52 4h18v1h-18zM0 5h12v1h-12zM13 5h20v1h-20zM34 5h11v1h-11zM46 5h24v1h-24zM1 6h11v1h-11zM13 6h5v1h-5zM21 6h7v1h-7zM29 6h4v1h-4zM34 6h11v1h-11zM46 6h24v1h-24zM1 7h16v1h-16zM18 7h1v1h-1zM20 7h7v1h-7zM28 7h42v1h-42zM0 8h16v1h-16zM18 8h9v1h-9zM30 8h2v1h-2zM33 8h2v1h-2zM37 8h8v1h-8zM46 8h11v1h-11zM58 8h2v1h-2zM61 8h5v1h-5zM67 8h3v1h-3zM0 9h15v1h-15zM17 9h23v1h-23zM41 9h15v1h-15zM58 9h7v1h-7zM66 9h4v1h-4zM0 10h15v1h-15zM17 10h36v1h-36zM55 10h13v1h-13zM69 10h1v1h-1zM0 11h14v1h-14zM15 11h11v1h-11zM27 11h18v1h-18zM46 11h7v1h-7zM54 11h8v1h-8zM63 11h7v1h-7zM0 12h5v1h-5zM7 12h15v1h-15zM24 12h1v1h-1zM26 12h19v1h-19zM46 12h2v1h-2zM49 12h21v1h-21zM0 13h58v1h-58zM59 13h11v1h-11zM0 14h2v1h-2zM3 14h1v1h-1zM5 14h1v1h-1zM8 14h20v1h-20zM30 14h28v1h-28zM61 14h9v1h-9zM0 15h6v1h-6zM10 15h18v1h-18zM29 15h17v1h-17zM48 15h11v1h-11zM60 15h10v1h-10zM1 16h6v1h-6zM8 16h21v1h-21zM31 16h16v1h-16zM48 16h2v1h-2zM51 16h19v1h-19zM1 17h2v1h-2zM4 17h3v1h-3zM8 17h1v1h-1zM10 17h20v1h-20zM31 17h6v1h-6zM38 17h2v1h-2zM41 17h2v1h-2zM44 17h1v1h-1zM47 17h2v1h-2zM53 17h3v1h-3zM57 17h1v1h-1zM59 17h1v1h-1zM61 17h9v1h-9zM0 18h7v1h-7zM8 18h9v1h-9zM18 18h7v1h-7zM26 18h19v1h-19zM46 18h4v1h-4zM51 18h2v1h-2zM54 18h16v1h-16zM0 19h22v1h-22zM23 19h2v1h-2zM26 19h4v1h-4zM31 19h6v1h-6zM39 19h16v1h-16zM59 19h5v1h-5zM66 19h4v1h-4zM0 20h25v1h-25zM26 20h4v1h-4zM31 20h8v1h-8zM41 20h16v1h-16zM59 20h11v1h-11zM0 21h17v1h-17zM19 21h2v1h-2zM23 21h2v1h-2zM26 21h3v1h-3zM31 21h8v1h-8zM41 21h7v1h-7zM50 21h3v1h-3zM56 21h1v1h-1zM59 21h5v1h-5zM65 21h5v1h-5zM0 22h17v1h-17zM19 22h9v1h-9zM30 22h8v1h-8zM40 22h2v1h-2zM46 22h10v1h-10zM60 22h10v1h-10zM0 23h14v1h-14zM15 23h1v1h-1zM19 23h37v1h-37zM60 23h8v1h-8zM69 23h1v1h-1zM0 24h15v1h-15zM19 24h17v1h-17zM38 24h7v1h-7zM47 24h9v1h-9zM60 24h8v1h-8zM69 24h1v1h-1zM0 25h18v1h-18zM19 25h26v1h-26zM46 25h3v1h-3zM51 25h6v1h-6zM58 25h5v1h-5zM64 25h6v1h-6zM0 26h34v1h-34zM36 26h9v1h-9zM46 26h1v1h-1zM48 26h9v1h-9zM58 26h12v1h-12zM0 27h22v1h-22zM23 27h12v1h-12zM39 27h10v1h-10zM50 27h7v1h-7zM58 27h12v1h-12zM0 28h23v1h-23zM24 28h11v1h-11zM37 28h1v1h-1zM40 28h5v1h-5zM46 28h10v1h-10zM61 28h9v1h-9zM0 29h1v1h-1zM2 29h2v1h-2zM5 29h27v1h-27zM36 29h4v1h-4zM41 29h4v1h-4zM47 29h9v1h-9zM59 29h1v1h-1zM61 29h4v1h-4zM66 29h4v1h-4zM0 30h21v1h-21zM22 30h5v1h-5zM28 30h6v1h-6zM36 30h19v1h-19zM56 30h4v1h-4zM61 30h9v1h-9zM0 31h17v1h-17zM18 31h2v1h-2zM24 31h7v1h-7zM33 31h2v1h-2zM36 31h21v1h-21zM59 31h10v1h-10zM0 32h18v1h-18zM24 32h7v1h-7zM34 32h28v1h-28zM63 32h6v1h-6zM1 33h10v1h-10zM12 33h3v1h-3zM16 33h2v1h-2zM22 33h9v1h-9zM35 33h20v1h-20zM56 33h14v1h-14zM2 34h7v1h-7zM10 34h8v1h-8zM19 34h2v1h-2zM22 34h8v1h-8zM34 34h9v1h-9zM44 34h26v1h-26zM1 35h20v1h-20zM22 35h10v1h-10zM33 35h12v1h-12zM46 35h9v1h-9zM56 35h14v1h-14zM1 36h2v1h-2zM4 36h7v1h-7zM12 36h7v1h-7zM20 36h2v1h-2zM24 36h8v1h-8zM33 36h23v1h-23zM58 36h12v1h-12zM1 37h2v1h-2zM4 37h6v1h-6zM11 37h44v1h-44zM58 37h12v1h-12zM0 38h5v1h-5zM6 38h50v1h-50zM59 38h11v1h-11zM1 39h8v1h-8zM10 39h1v1h-1zM13 39h57v1h-57zM1 40h3v1h-3zM5 40h1v1h-1zM7 40h1v1h-1zM9 40h8v1h-8zM18 40h7v1h-7zM26 40h7v1h-7zM34 40h36v1h-36zM0 41h17v1h-17zM18 41h2v1h-2zM21 41h12v1h-12zM34 41h17v1h-17zM52 41h2v1h-2zM55 41h3v1h-3zM59 41h11v1h-11zM0 42h19v1h-19zM20 42h13v1h-13zM34 42h8v1h-8zM43 42h15v1h-15zM60 42h8v1h-8zM69 42h1v1h-1zM0 43h5v1h-5zM7 43h10v1h-10zM18 43h15v1h-15zM34 43h1v1h-1zM36 43h2v1h-2zM39 43h4v1h-4zM44 43h22v1h-22zM67 43h3v1h-3zM0 44h6v1h-6zM7 44h11v1h-11zM19 44h1v1h-1zM22 44h11v1h-11zM34 44h11v1h-11zM46 44h24v1h-24zM0 45h8v1h-8zM10 45h8v1h-8zM21 45h12v1h-12zM34 45h5v1h-5zM40 45h1v1h-1zM42 45h20v1h-20zM66 45h4v1h-4zM0 46h9v1h-9zM10 46h10v1h-10zM21 46h11v1h-11zM33 46h6v1h-6zM40 46h22v1h-22zM65 46h4v1h-4zM0 47h21v1h-21zM22 47h40v1h-40zM65 47h2v1h-2zM68 47h2v1h-2zM0 48h66v1h-66zM67 48h3v1h-3zM0 49h31v1h-31zM32 49h30v1h-30zM65 49h2v1h-2zM68 49h2v1h-2zM0 50h23v1h-23zM24 50h2v1h-2zM27 50h20v1h-20zM48 50h22v1h-22zM0 51h22v1h-22zM23 51h3v1h-3zM27 51h17v1h-17zM48 51h12v1h-12zM62 51h8v1h-8z" fill="#dccaf0"/>
<path d="M0 0h8v1h-8zM9 0h1v1h-1zM12 0h5v1h-5zM22 0h4v1h-4zM27 0h14v1h-14zM42 0h1v1h-1zM46 0h5v1h-5zM54 0h3v1h-3zM58 0h3v1h-3zM63 0h5v1h-5zM1 1h9v1h-9zM11 1h6v1h-6zM19 1h6v1h-6zM27 1h2v1h-2zM31 1h1v1h-1zM33 1h13v1h-13zM47 1h15v1h-15zM63 1h7v1h-7zM1 2h5v1h-5zM7 2h4v1h-4zM12 2h12v1h-12zM27 2h2v1h-2zM31 2h1v1h-1zM34 2h8v1h-8zM43 2h2v1h-2zM46 2h3v1h-3zM50 2h20v1h-20zM1 3h11v1h-11zM13 3h3v1h-3zM18 3h2v1h-2zM23 3h2v1h-2zM27 3h2v1h-2zM30 3h6v1h-6zM37 3h5v1h-5zM43 3h1v1h-1zM45 3h1v1h-1zM47 3h1v1h-1zM50 3h20v1h-20zM0 4h11v1h-11zM13 4h3v1h-3zM22 4h8v1h-8zM31 4h1v1h-1zM33 4h9v1h-9zM43 4h1v1h-1zM45 4h3v1h-3zM49 4h2v1h-2zM52 4h16v1h-16zM69 4h1v1h-1zM0 5h1v1h-1zM2 5h3v1h-3zM6 5h4v1h-4zM13 5h3v1h-3zM17 5h2v1h-2zM21 5h4v1h-4zM26 5h1v1h-1zM28 5h4v1h-4zM34 5h8v1h-8zM43 5h1v1h-1zM47 5h1v1h-1zM50 5h1v1h-1zM52 5h13v1h-13zM67 5h3v1h-3zM2 6h8v1h-8zM13 6h5v1h-5zM22 6h4v1h-4zM27 6h1v1h-1zM31 6h1v1h-1zM34 6h4v1h-4zM39 6h2v1h-2zM42 6h3v1h-3zM46 6h2v1h-2zM50 6h5v1h-5zM56 6h6v1h-6zM63 6h7v1h-7zM1 7h11v1h-11zM15 7h2v1h-2zM20 7h6v1h-6zM28 7h1v1h-1zM31 7h3v1h-3zM35 7h11v1h-11zM47 7h5v1h-5zM53 7h3v1h-3zM58 7h8v1h-8zM67 7h3v1h-3zM0 8h3v1h-3zM5 8h4v1h-4zM10 8h5v1h-5zM19 8h8v1h-8zM33 8h2v1h-2zM38 8h6v1h-6zM46 8h4v1h-4zM51 8h5v1h-5zM61 8h4v1h-4zM67 8h3v1h-3zM0 9h9v1h-9zM10 9h2v1h-2zM13 9h2v1h-2zM18 9h13v1h-13zM32 9h4v1h-4zM37 9h3v1h-3zM41 9h12v1h-12zM54 9h2v1h-2zM58 9h6v1h-6zM66 9h4v1h-4zM0 10h8v1h-8zM9 10h5v1h-5zM17 10h3v1h-3zM22 10h23v1h-23zM46 10h7v1h-7zM55 10h5v1h-5zM62 10h2v1h-2zM65 10h3v1h-3zM0 11h6v1h-6zM7 11h7v1h-7zM15 11h1v1h-1zM17 11h3v1h-3zM21 11h5v1h-5zM30 11h11v1h-11zM42 11h3v1h-3zM46 11h3v1h-3zM50 11h2v1h-2zM55 11h7v1h-7zM64 11h6v1h-6zM0 12h5v1h-5zM7 12h14v1h-14zM24 12h1v1h-1zM27 12h2v1h-2zM30 12h15v1h-15zM46 12h1v1h-1zM49 12h12v1h-12zM63 12h7v1h-7zM0 13h2v1h-2zM3 13h2v1h-2zM7 13h18v1h-18zM27 13h1v1h-1zM29 13h1v1h-1zM31 13h27v1h-27zM60 13h1v1h-1zM62 13h8v1h-8zM0 14h2v1h-2zM3 14h1v1h-1zM9 14h17v1h-17zM30 14h5v1h-5zM37 14h8v1h-8zM46 14h6v1h-6zM53 14h5v1h-5zM62 14h1v1h-1zM64 14h6v1h-6zM0 15h6v1h-6zM10 15h7v1h-7zM18 15h10v1h-10zM29 15h6v1h-6zM36 15h10v1h-10zM48 15h9v1h-9zM60 15h10v1h-10zM1 16h1v1h-1zM4 16h3v1h-3zM8 16h4v1h-4zM13 16h15v1h-15zM32 16h8v1h-8zM41 16h5v1h-5zM48 16h2v1h-2zM51 16h5v1h-5zM57 16h2v1h-2zM60 16h10v1h-10zM1 17h2v1h-2zM5 17h2v1h-2zM10 17h14v1h-14zM25 17h4v1h-4zM31 17h5v1h-5zM38 17h2v1h-2zM41 17h2v1h-2zM48 17h1v1h-1zM53 17h3v1h-3zM59 17h1v1h-1zM61 17h1v1h-1zM63 17h7v1h-7zM0 18h7v1h-7zM9 18h8v1h-8zM19 18h6v1h-6zM27 18h8v1h-8zM36 18h1v1h-1zM38 18h1v1h-1zM40 18h5v1h-5zM46 18h4v1h-4zM51 18h2v1h-2zM54 18h2v1h-2zM59 18h11v1h-11zM0 19h17v1h-17zM18 19h4v1h-4zM23 19h2v1h-2zM26 19h4v1h-4zM32 19h4v1h-4zM41 19h9v1h-9zM51 19h4v1h-4zM60 19h3v1h-3zM66 19h3v1h-3zM0 20h17v1h-17zM18 20h3v1h-3zM26 20h3v1h-3zM32 20h5v1h-5zM38 20h1v1h-1zM43 20h10v1h-10zM54 20h3v1h-3zM61 20h7v1h-7zM1 21h16v1h-16zM19 21h2v1h-2zM27 21h2v1h-2zM31 21h8v1h-8zM42 21h1v1h-1zM46 21h2v1h-2zM50 21h1v1h-1zM52 21h1v1h-1zM59 21h5v1h-5zM65 21h3v1h-3zM69 21h1v1h-1zM1 22h16v1h-16zM20 22h3v1h-3zM24 22h1v1h-1zM26 22h2v1h-2zM32 22h6v1h-6zM40 22h2v1h-2zM46 22h2v1h-2zM50 22h6v1h-6zM61 22h4v1h-4zM66 22h4v1h-4zM1 23h10v1h-10zM12 23h2v1h-2zM15 23h1v1h-1zM19 23h19v1h-19zM39 23h3v1h-3zM44 23h4v1h-4zM49 23h7v1h-7zM61 23h7v1h-7zM69 23h1v1h-1zM1 24h12v1h-12zM19 24h11v1h-11zM31 24h5v1h-5zM39 24h6v1h-6zM49 24h7v1h-7zM60 24h8v1h-8zM69 24h1v1h-1zM0 25h18v1h-18zM19 25h11v1h-11zM31 25h4v1h-4zM40 25h5v1h-5zM51 25h5v1h-5zM58 25h5v1h-5zM64 25h6v1h-6zM1 26h17v1h-17zM19 26h6v1h-6zM26 26h8v1h-8zM37 26h1v1h-1zM40 26h5v1h-5zM48 26h5v1h-5zM55 26h2v1h-2zM58 26h12v1h-12zM0 27h19v1h-19zM26 27h2v1h-2zM29 27h6v1h-6zM39 27h4v1h-4zM44 27h5v1h-5zM51 27h3v1h-3zM55 27h2v1h-2zM58 27h7v1h-7zM66 27h4v1h-4zM0 28h2v1h-2zM3 28h7v1h-7zM11 28h2v1h-2zM14 28h5v1h-5zM20 28h2v1h-2zM24 28h5v1h-5zM31 28h3v1h-3zM40 28h3v1h-3zM47 28h2v1h-2zM50 28h6v1h-6zM62 28h3v1h-3zM66 28h4v1h-4zM0 29h1v1h-1zM2 29h1v1h-1zM5 29h4v1h-4zM11 29h1v1h-1zM13 29h2v1h-2zM16 29h5v1h-5zM22 29h4v1h-4zM28 29h4v1h-4zM36 29h4v1h-4zM41 29h1v1h-1zM43 29h1v1h-1zM48 29h6v1h-6zM55 29h1v1h-1zM59 29h1v1h-1zM62 29h3v1h-3zM67 29h2v1h-2zM0 30h12v1h-12zM13 30h2v1h-2zM16 30h1v1h-1zM19 30h2v1h-2zM23 30h3v1h-3zM28 30h6v1h-6zM36 30h9v1h-9zM48 30h7v1h-7zM57 30h3v1h-3zM61 30h9v1h-9zM0 31h14v1h-14zM24 31h7v1h-7zM33 31h2v1h-2zM36 31h7v1h-7zM44 31h10v1h-10zM59 31h10v1h-10zM0 32h1v1h-1zM2 32h11v1h-11zM14 32h4v1h-4zM24 32h7v1h-7zM35 32h9v1h-9zM45 32h17v1h-17zM63 32h4v1h-4zM2 33h8v1h-8zM12 33h3v1h-3zM17 33h1v1h-1zM22 33h1v1h-1zM25 33h5v1h-5zM35 33h1v1h-1zM37 33h11v1h-11zM49 33h5v1h-5zM56 33h12v1h-12zM69 33h1v1h-1zM2 34h7v1h-7zM10 34h6v1h-6zM20 34h1v1h-1zM22 34h1v1h-1zM25 34h5v1h-5zM34 34h9v1h-9zM46 34h24v1h-24zM2 35h11v1h-11zM14 35h6v1h-6zM22 35h1v1h-1zM25 35h7v1h-7zM33 35h12v1h-12zM46 35h9v1h-9zM56 35h11v1h-11zM68 35h2v1h-2zM1 36h2v1h-2zM5 36h4v1h-4zM10 36h1v1h-1zM12 36h2v1h-2zM16 36h3v1h-3zM21 36h1v1h-1zM24 36h8v1h-8zM33 36h22v1h-22zM58 36h12v1h-12zM2 37h1v1h-1zM5 37h5v1h-5zM11 37h8v1h-8zM21 37h18v1h-18zM40 37h15v1h-15zM58 37h12v1h-12zM2 38h2v1h-2zM6 38h3v1h-3zM10 38h2v1h-2zM13 38h12v1h-12zM26 38h20v1h-20zM47 38h8v1h-8zM59 38h11v1h-11zM1 39h1v1h-1zM3 39h1v1h-1zM6 39h3v1h-3zM14 39h8v1h-8zM24 39h9v1h-9zM34 39h9v1h-9zM44 39h12v1h-12zM57 39h13v1h-13zM1 40h3v1h-3zM5 40h1v1h-1zM10 40h7v1h-7zM18 40h7v1h-7zM26 40h7v1h-7zM34 40h7v1h-7zM42 40h1v1h-1zM44 40h9v1h-9zM54 40h5v1h-5zM60 40h10v1h-10zM0 41h4v1h-4zM5 41h12v1h-12zM18 41h1v1h-1zM21 41h12v1h-12zM34 41h17v1h-17zM52 41h1v1h-1zM56 41h1v1h-1zM59 41h11v1h-11zM0 42h5v1h-5zM6 42h1v1h-1zM8 42h7v1h-7zM16 42h2v1h-2zM21 42h2v1h-2zM24 42h9v1h-9zM34 42h8v1h-8zM44 42h14v1h-14zM60 42h7v1h-7zM69 42h1v1h-1zM1 43h3v1h-3zM7 43h10v1h-10zM18 43h12v1h-12zM31 43h2v1h-2zM34 43h1v1h-1zM37 43h1v1h-1zM40 43h2v1h-2zM44 43h1v1h-1zM46 43h12v1h-12zM59 43h7v1h-7zM67 43h2v1h-2zM0 44h6v1h-6zM7 44h10v1h-10zM19 44h1v1h-1zM22 44h6v1h-6zM29 44h1v1h-1zM31 44h2v1h-2zM34 44h3v1h-3zM38 44h3v1h-3zM42 44h2v1h-2zM46 44h10v1h-10zM57 44h1v1h-1zM59 44h3v1h-3zM64 44h2v1h-2zM68 44h1v1h-1zM0 45h5v1h-5zM6 45h2v1h-2zM11 45h5v1h-5zM21 45h12v1h-12zM34 45h5v1h-5zM42 45h2v1h-2zM45 45h10v1h-10zM56 45h6v1h-6zM66 45h3v1h-3zM0 46h7v1h-7zM8 46h1v1h-1zM10 46h10v1h-10zM22 46h9v1h-9zM34 46h5v1h-5zM41 46h20v1h-20zM66 46h3v1h-3zM0 47h21v1h-21zM23 47h8v1h-8zM33 47h19v1h-19zM53 47h9v1h-9zM66 47h1v1h-1zM68 47h1v1h-1zM0 48h9v1h-9zM10 48h11v1h-11zM22 48h35v1h-35zM58 48h3v1h-3zM64 48h1v1h-1zM67 48h3v1h-3zM0 49h9v1h-9zM10 49h11v1h-11zM22 49h5v1h-5zM28 49h1v1h-1zM30 49h1v1h-1zM32 49h4v1h-4zM38 49h9v1h-9zM48 49h12v1h-12zM61 49h1v1h-1zM65 49h1v1h-1zM68 49h2v1h-2zM0 50h8v1h-8zM9 50h14v1h-14zM24 50h2v1h-2zM28 50h1v1h-1zM32 50h13v1h-13zM46 50h1v1h-1zM49 50h5v1h-5zM55 50h8v1h-8zM64 50h2v1h-2zM68 50h2v1h-2zM0 51h7v1h-7zM9 51h13v1h-13zM23 51h3v1h-3zM28 51h16v1h-16zM48 51h2v1h-2zM51 51h1v1h-1zM54 51h6v1h-6zM63 51h4v1h-4zM68 51h2v1h-2z" fill="#a865dc"/>
<path d="M0 0h1v1h-1zM2 0h5v1h-5zM13 0h4v1h-4zM22 0h4v1h-4zM28 0h13v1h-13zM46 0h2v1h-2zM54 0h3v1h-3zM58 0h3v1h-3zM63 0h2v1h-2zM66 0h2v1h-2zM1 1h8v1h-8zM11 1h3v1h-3zM15 1h1v1h-1zM21 1h3v1h-3zM27 1h1v1h-1zM34 1h6v1h-6zM41 1h5v1h-5zM50 1h6v1h-6zM59 1h3v1h-3zM63 1h5v1h-5zM1 2h4v1h-4zM8 2h3v1h-3zM12 2h4v1h-4zM18 2h6v1h-6zM27 2h2v1h-2zM34 2h2v1h-2zM37 2h2v1h-2zM40 2h2v1h-2zM46 2h3v1h-3zM50 2h2v1h-2zM53 2h5v1h-5zM59 2h4v1h-4zM64 2h1v1h-1zM66 2h4v1h-4zM1 3h7v1h-7zM10 3h2v1h-2zM13 3h1v1h-1zM15 3h1v1h-1zM23 3h2v1h-2zM27 3h2v1h-2zM31 3h2v1h-2zM34 3h2v1h-2zM37 3h5v1h-5zM45 3h1v1h-1zM50 3h20v1h-20zM0 4h7v1h-7zM9 4h2v1h-2zM13 4h3v1h-3zM23 4h2v1h-2zM26 4h1v1h-1zM28 4h2v1h-2zM31 4h1v1h-1zM36 4h4v1h-4zM41 4h1v1h-1zM47 4h1v1h-1zM49 4h2v1h-2zM52 4h16v1h-16zM69 4h1v1h-1zM2 5h3v1h-3zM6 5h1v1h-1zM8 5h2v1h-2zM13 5h3v1h-3zM17 5h1v1h-1zM21 5h4v1h-4zM29 5h3v1h-3zM34 5h4v1h-4zM39 5h3v1h-3zM47 5h1v1h-1zM50 5h1v1h-1zM52 5h3v1h-3zM56 5h9v1h-9zM67 5h2v1h-2zM2 6h5v1h-5zM8 6h2v1h-2zM13 6h2v1h-2zM16 6h1v1h-1zM22 6h4v1h-4zM31 6h1v1h-1zM35 6h3v1h-3zM39 6h2v1h-2zM42 6h3v1h-3zM47 6h1v1h-1zM51 6h4v1h-4zM57 6h5v1h-5zM63 6h7v1h-7zM1 7h8v1h-8zM10 7h2v1h-2zM20 7h3v1h-3zM24 7h2v1h-2zM31 7h3v1h-3zM35 7h2v1h-2zM40 7h1v1h-1zM42 7h4v1h-4zM47 7h5v1h-5zM53 7h2v1h-2zM58 7h8v1h-8zM68 7h2v1h-2zM0 8h3v1h-3zM5 8h3v1h-3zM10 8h2v1h-2zM13 8h2v1h-2zM21 8h6v1h-6zM33 8h2v1h-2zM41 8h2v1h-2zM47 8h1v1h-1zM49 8h1v1h-1zM51 8h5v1h-5zM61 8h4v1h-4zM67 8h3v1h-3zM0 9h2v1h-2zM3 9h6v1h-6zM10 9h2v1h-2zM14 9h1v1h-1zM18 9h2v1h-2zM22 9h5v1h-5zM32 9h3v1h-3zM37 9h3v1h-3zM41 9h9v1h-9zM51 9h2v1h-2zM58 9h2v1h-2zM61 9h3v1h-3zM67 9h3v1h-3zM0 10h1v1h-1zM2 10h6v1h-6zM10 10h4v1h-4zM17 10h3v1h-3zM22 10h7v1h-7zM30 10h4v1h-4zM35 10h4v1h-4zM41 10h4v1h-4zM46 10h4v1h-4zM51 10h1v1h-1zM56 10h2v1h-2zM59 10h1v1h-1zM66 10h2v1h-2zM1 11h3v1h-3zM5 11h1v1h-1zM7 11h1v1h-1zM9 11h1v1h-1zM11 11h3v1h-3zM17 11h2v1h-2zM21 11h5v1h-5zM30 11h10v1h-10zM42 11h3v1h-3zM46 11h3v1h-3zM50 11h2v1h-2zM55 11h6v1h-6zM64 11h4v1h-4zM69 11h1v1h-1zM1 12h4v1h-4zM7 12h13v1h-13zM24 12h1v1h-1zM27 12h2v1h-2zM30 12h15v1h-15zM46 12h1v1h-1zM50 12h2v1h-2zM53 12h8v1h-8zM63 12h7v1h-7zM0 13h2v1h-2zM3 13h2v1h-2zM8 13h15v1h-15zM24 13h1v1h-1zM29 13h1v1h-1zM32 13h3v1h-3zM37 13h8v1h-8zM46 13h6v1h-6zM53 13h4v1h-4zM60 13h1v1h-1zM62 13h8v1h-8zM0 14h1v1h-1zM3 14h1v1h-1zM10 14h16v1h-16zM30 14h5v1h-5zM37 14h8v1h-8zM47 14h5v1h-5zM53 14h4v1h-4zM62 14h1v1h-1zM64 14h5v1h-5zM0 15h6v1h-6zM11 15h6v1h-6zM19 15h8v1h-8zM29 15h6v1h-6zM37 15h5v1h-5zM43 15h1v1h-1zM49 15h1v1h-1zM51 15h6v1h-6zM60 15h10v1h-10zM1 16h1v1h-1zM4 16h3v1h-3zM10 16h2v1h-2zM13 16h12v1h-12zM26 16h1v1h-1zM32 16h5v1h-5zM38 16h2v1h-2zM41 16h5v1h-5zM48 16h2v1h-2zM51 16h5v1h-5zM58 16h1v1h-1zM60 16h1v1h-1zM62 16h2v1h-2zM65 16h5v1h-5zM2 17h1v1h-1zM5 17h1v1h-1zM10 17h7v1h-7zM18 17h6v1h-6zM26 17h2v1h-2zM31 17h4v1h-4zM38 17h2v1h-2zM41 17h1v1h-1zM54 17h2v1h-2zM61 17h1v1h-1zM63 17h7v1h-7zM0 18h4v1h-4zM5 18h2v1h-2zM9 18h1v1h-1zM12 18h5v1h-5zM19 18h6v1h-6zM27 18h8v1h-8zM36 18h1v1h-1zM38 18h1v1h-1zM41 18h1v1h-1zM44 18h1v1h-1zM46 18h4v1h-4zM54 18h1v1h-1zM59 18h4v1h-4zM64 18h2v1h-2zM67 18h3v1h-3zM0 19h7v1h-7zM9 19h8v1h-8zM19 19h2v1h-2zM23 19h1v1h-1zM27 19h3v1h-3zM32 19h3v1h-3zM43 19h7v1h-7zM51 19h2v1h-2zM60 19h3v1h-3zM67 19h2v1h-2zM1 20h5v1h-5zM7 20h9v1h-9zM19 20h1v1h-1zM27 20h2v1h-2zM32 20h3v1h-3zM36 20h1v1h-1zM44 20h3v1h-3zM49 20h3v1h-3zM54 20h2v1h-2zM62 20h1v1h-1zM65 20h1v1h-1zM67 20h1v1h-1zM1 21h14v1h-14zM19 21h2v1h-2zM27 21h2v1h-2zM32 21h7v1h-7zM46 21h1v1h-1zM52 21h1v1h-1zM60 21h1v1h-1zM62 21h2v1h-2zM65 21h3v1h-3zM1 22h15v1h-15zM20 22h2v1h-2zM26 22h2v1h-2zM32 22h5v1h-5zM40 22h1v1h-1zM47 22h1v1h-1zM50 22h5v1h-5zM61 22h3v1h-3zM66 22h4v1h-4zM1 23h9v1h-9zM12 23h2v1h-2zM15 23h1v1h-1zM19 23h2v1h-2zM22 23h2v1h-2zM25 23h4v1h-4zM33 23h5v1h-5zM40 23h2v1h-2zM46 23h1v1h-1zM50 23h6v1h-6zM61 23h7v1h-7zM69 23h1v1h-1zM1 24h9v1h-9zM20 24h1v1h-1zM22 24h2v1h-2zM25 24h5v1h-5zM32 24h4v1h-4zM40 24h2v1h-2zM49 24h7v1h-7zM60 24h2v1h-2zM64 24h1v1h-1zM66 24h2v1h-2zM69 24h1v1h-1zM0 25h12v1h-12zM13 25h2v1h-2zM17 25h1v1h-1zM19 25h4v1h-4zM24 25h1v1h-1zM26 25h4v1h-4zM32 25h3v1h-3zM41 25h3v1h-3zM51 25h5v1h-5zM58 25h5v1h-5zM64 25h3v1h-3zM69 25h1v1h-1zM1 26h17v1h-17zM20 26h3v1h-3zM27 26h1v1h-1zM29 26h3v1h-3zM33 26h1v1h-1zM37 26h1v1h-1zM40 26h5v1h-5zM48 26h5v1h-5zM55 26h2v1h-2zM58 26h8v1h-8zM67 26h3v1h-3zM1 27h10v1h-10zM12 27h7v1h-7zM30 27h5v1h-5zM41 27h2v1h-2zM47 27h2v1h-2zM51 27h2v1h-2zM55 27h1v1h-1zM59 27h1v1h-1zM61 27h4v1h-4zM66 27h4v1h-4zM3 28h6v1h-6zM11 28h1v1h-1zM15 28h3v1h-3zM20 28h2v1h-2zM26 28h3v1h-3zM32 28h1v1h-1zM40 28h3v1h-3zM48 28h1v1h-1zM50 28h5v1h-5zM64 28h1v1h-1zM67 28h2v1h-2zM2 29h1v1h-1zM6 29h2v1h-2zM11 29h1v1h-1zM13 29h1v1h-1zM16 29h5v1h-5zM22 29h2v1h-2zM25 29h1v1h-1zM30 29h2v1h-2zM37 29h2v1h-2zM48 29h4v1h-4zM53 29h1v1h-1zM59 29h1v1h-1zM62 29h3v1h-3zM67 29h2v1h-2zM1 30h4v1h-4zM6 30h4v1h-4zM11 30h1v1h-1zM13 30h2v1h-2zM16 30h1v1h-1zM19 30h1v1h-1zM23 30h1v1h-1zM25 30h1v1h-1zM28 30h4v1h-4zM36 30h7v1h-7zM44 30h1v1h-1zM48 30h7v1h-7zM59 30h1v1h-1zM62 30h7v1h-7zM0 31h14v1h-14zM25 31h6v1h-6zM37 31h6v1h-6zM44 31h2v1h-2zM48 31h6v1h-6zM59 31h9v1h-9zM0 32h1v1h-1zM4 32h9v1h-9zM25 32h5v1h-5zM35 32h3v1h-3zM40 32h3v1h-3zM47 32h1v1h-1zM50 32h6v1h-6zM58 32h3v1h-3zM63 32h4v1h-4zM3 33h3v1h-3zM7 33h3v1h-3zM13 33h2v1h-2zM17 33h1v1h-1zM22 33h1v1h-1zM25 33h5v1h-5zM37 33h6v1h-6zM46 33h1v1h-1zM50 33h4v1h-4zM56 33h5v1h-5zM62 33h5v1h-5zM69 33h1v1h-1zM3 34h3v1h-3zM7 34h2v1h-2zM11 34h1v1h-1zM20 34h1v1h-1zM25 34h5v1h-5zM35 34h1v1h-1zM37 34h5v1h-5zM49 34h4v1h-4zM55 34h2v1h-2zM59 34h11v1h-11zM2 35h11v1h-11zM14 35h1v1h-1zM16 35h4v1h-4zM25 35h5v1h-5zM34 35h5v1h-5zM40 35h4v1h-4zM48 35h7v1h-7zM60 35h1v1h-1zM63 35h4v1h-4zM68 35h2v1h-2zM2 36h1v1h-1zM5 36h4v1h-4zM12 36h1v1h-1zM16 36h3v1h-3zM21 36h1v1h-1zM25 36h7v1h-7zM33 36h2v1h-2zM36 36h16v1h-16zM53 36h2v1h-2zM58 36h12v1h-12zM2 37h1v1h-1zM6 37h1v1h-1zM8 37h1v1h-1zM12 37h7v1h-7zM22 37h1v1h-1zM25 37h14v1h-14zM40 37h5v1h-5zM47 37h4v1h-4zM53 37h1v1h-1zM59 37h6v1h-6zM66 37h4v1h-4zM2 38h1v1h-1zM6 38h1v1h-1zM8 38h1v1h-1zM11 38h1v1h-1zM15 38h2v1h-2zM19 38h1v1h-1zM22 38h2v1h-2zM26 38h13v1h-13zM40 38h4v1h-4zM45 38h1v1h-1zM47 38h4v1h-4zM52 38h3v1h-3zM59 38h11v1h-11zM3 39h1v1h-1zM7 39h1v1h-1zM14 39h3v1h-3zM19 39h3v1h-3zM24 39h2v1h-2zM28 39h5v1h-5zM34 39h9v1h-9zM44 39h2v1h-2zM47 39h4v1h-4zM55 39h1v1h-1zM57 39h13v1h-13zM1 40h2v1h-2zM5 40h1v1h-1zM11 40h1v1h-1zM14 40h3v1h-3zM19 40h5v1h-5zM27 40h6v1h-6zM34 40h7v1h-7zM42 40h1v1h-1zM44 40h3v1h-3zM48 40h5v1h-5zM55 40h1v1h-1zM57 40h1v1h-1zM61 40h9v1h-9zM0 41h3v1h-3zM6 41h3v1h-3zM10 41h3v1h-3zM14 41h2v1h-2zM21 41h11v1h-11zM34 41h7v1h-7zM43 41h1v1h-1zM45 41h5v1h-5zM52 41h1v1h-1zM60 41h8v1h-8zM69 41h1v1h-1zM0 42h5v1h-5zM8 42h1v1h-1zM10 42h3v1h-3zM16 42h2v1h-2zM21 42h2v1h-2zM24 42h9v1h-9zM35 42h1v1h-1zM38 42h1v1h-1zM41 42h1v1h-1zM44 42h13v1h-13zM61 42h6v1h-6zM69 42h1v1h-1zM1 43h2v1h-2zM7 43h1v1h-1zM10 43h1v1h-1zM12 43h2v1h-2zM15 43h2v1h-2zM18 43h2v1h-2zM21 43h9v1h-9zM31 43h2v1h-2zM34 43h1v1h-1zM37 43h1v1h-1zM40 43h1v1h-1zM47 43h4v1h-4zM53 43h5v1h-5zM60 43h1v1h-1zM64 43h2v1h-2zM68 43h1v1h-1zM0 44h6v1h-6zM7 44h1v1h-1zM9 44h2v1h-2zM12 44h2v1h-2zM15 44h2v1h-2zM22 44h6v1h-6zM31 44h2v1h-2zM35 44h2v1h-2zM38 44h1v1h-1zM42 44h2v1h-2zM46 44h9v1h-9zM60 44h2v1h-2zM64 44h1v1h-1zM68 44h1v1h-1zM0 45h5v1h-5zM6 45h2v1h-2zM11 45h1v1h-1zM13 45h2v1h-2zM21 45h8v1h-8zM30 45h2v1h-2zM34 45h1v1h-1zM36 45h1v1h-1zM38 45h1v1h-1zM42 45h1v1h-1zM45 45h10v1h-10zM59 45h3v1h-3zM68 45h1v1h-1zM0 46h7v1h-7zM8 46h1v1h-1zM11 46h6v1h-6zM18 46h2v1h-2zM22 46h9v1h-9zM34 46h4v1h-4zM42 46h13v1h-13zM56 46h1v1h-1zM58 46h3v1h-3zM66 46h2v1h-2zM0 47h7v1h-7zM8 47h9v1h-9zM18 47h1v1h-1zM23 47h8v1h-8zM34 47h5v1h-5zM40 47h12v1h-12zM53 47h7v1h-7zM61 47h1v1h-1zM66 47h1v1h-1zM0 48h9v1h-9zM10 48h11v1h-11zM22 48h25v1h-25zM48 48h9v1h-9zM58 48h2v1h-2zM68 48h2v1h-2zM0 49h2v1h-2zM3 49h5v1h-5zM10 49h9v1h-9zM20 49h1v1h-1zM22 49h4v1h-4zM28 49h1v1h-1zM33 49h3v1h-3zM39 49h8v1h-8zM48 49h9v1h-9zM58 49h2v1h-2zM65 49h1v1h-1zM69 49h1v1h-1zM0 50h8v1h-8zM11 50h10v1h-10zM22 50h1v1h-1zM24 50h2v1h-2zM28 50h1v1h-1zM32 50h10v1h-10zM43 50h2v1h-2zM49 50h5v1h-5zM55 50h3v1h-3zM61 50h1v1h-1zM64 50h2v1h-2zM69 50h1v1h-1zM0 51h7v1h-7zM9 51h1v1h-1zM11 51h11v1h-11zM24 51h1v1h-1zM29 51h1v1h-1zM33 51h2v1h-2zM36 51h1v1h-1zM38 51h1v1h-1zM40 51h4v1h-4zM55 51h5v1h-5zM64 51h1v1h-1zM66 51h1v1h-1zM68 51h2v1h-2z" fill="#8a36d0"/>
<path d="M4 0h1v1h-1zM15 0h1v1h-1zM23 0h1v1h-1zM29 0h2v1h-2zM38 0h1v1h-1zM63 0h1v1h-1zM1 1h2v1h-2zM12 1h1v1h-1zM38 1h1v1h-1zM1 2h1v1h-1zM8 2h1v1h-1zM53 2h1v1h-1zM55 2h1v1h-1zM1 3h3v1h-3zM23 3h1v1h-1zM53 3h1v1h-1zM57 3h1v1h-1zM60 3h1v1h-1zM62 3h2v1h-2zM67 3h2v1h-2zM1 4h1v1h-1zM6 4h1v1h-1zM53 4h2v1h-2zM56 4h6v1h-6zM14 5h1v1h-1zM57 5h4v1h-4zM3 6h1v1h-1zM8 6h1v1h-1zM22 6h2v1h-2zM58 6h1v1h-1zM64 6h1v1h-1zM11 7h1v1h-1zM44 7h1v1h-1zM64 7h1v1h-1zM69 7h1v1h-1zM5 8h1v1h-1zM11 8h1v1h-1zM22 8h1v1h-1zM25 8h1v1h-1zM53 8h1v1h-1zM62 8h1v1h-1zM69 8h1v1h-1zM5 9h1v1h-1zM22 9h1v1h-1zM42 9h1v1h-1zM51 9h1v1h-1zM68 9h2v1h-2zM12 10h1v1h-1zM25 10h1v1h-1zM32 10h1v1h-1zM37 10h1v1h-1zM42 10h1v1h-1zM34 11h2v1h-2zM38 11h1v1h-1zM55 11h2v1h-2zM3 12h1v1h-1zM13 12h1v1h-1zM55 12h2v1h-2zM3 13h1v1h-1zM15 13h2v1h-2zM39 13h3v1h-3zM43 13h1v1h-1zM50 13h1v1h-1zM65 13h2v1h-2zM20 14h2v1h-2zM24 14h2v1h-2zM40 14h1v1h-1zM43 14h1v1h-1zM50 14h1v1h-1zM54 14h1v1h-1zM66 14h1v1h-1zM11 15h2v1h-2zM15 15h1v1h-1zM19 15h3v1h-3zM37 15h1v1h-1zM62 15h1v1h-1zM68 15h1v1h-1zM42 16h1v1h-1zM66 16h2v1h-2zM12 17h1v1h-1zM54 17h1v1h-1zM66 17h1v1h-1zM68 17h1v1h-1zM2 18h1v1h-1zM19 18h3v1h-3zM41 18h1v1h-1zM68 18h1v1h-1zM0 19h1v1h-1zM3 19h1v1h-1zM9 19h1v1h-1zM19 19h1v1h-1zM32 19h1v1h-1zM1 20h1v1h-1zM4 20h1v1h-1zM9 20h1v1h-1zM12 20h1v1h-1zM27 20h1v1h-1zM3 21h2v1h-2zM9 21h2v1h-2zM27 21h1v1h-1zM33 21h2v1h-2zM2 22h6v1h-6zM10 22h3v1h-3zM20 22h1v1h-1zM62 22h1v1h-1zM67 22h1v1h-1zM3 23h3v1h-3zM34 23h2v1h-2zM33 24h2v1h-2zM6 25h2v1h-2zM69 25h1v1h-1zM9 26h1v1h-1zM41 26h1v1h-1zM68 26h2v1h-2zM7 27h2v1h-2zM62 27h1v1h-1zM68 27h2v1h-2zM5 28h3v1h-3zM16 28h1v1h-1zM37 29h2v1h-2zM2 30h1v1h-1zM48 30h1v1h-1zM53 30h1v1h-1zM66 30h2v1h-2zM0 31h1v1h-1zM28 31h1v1h-1zM48 31h1v1h-1zM52 31h1v1h-1zM25 32h4v1h-4zM42 32h1v1h-1zM51 32h1v1h-1zM59 32h1v1h-1zM25 33h2v1h-2zM40 33h1v1h-1zM51 33h2v1h-2zM59 33h2v1h-2zM64 33h1v1h-1zM4 34h1v1h-1zM38 34h2v1h-2zM51 34h1v1h-1zM60 34h1v1h-1zM5 35h1v1h-1zM7 35h2v1h-2zM51 35h1v1h-1zM60 35h1v1h-1zM64 35h1v1h-1zM27 36h2v1h-2zM41 36h1v1h-1zM47 36h1v1h-1zM60 36h1v1h-1zM64 36h1v1h-1zM66 36h1v1h-1zM16 37h1v1h-1zM29 37h1v1h-1zM33 37h2v1h-2zM42 37h1v1h-1zM47 37h1v1h-1zM49 37h1v1h-1zM62 37h1v1h-1zM67 37h2v1h-2zM27 38h1v1h-1zM29 38h4v1h-4zM34 38h1v1h-1zM37 38h1v1h-1zM49 38h2v1h-2zM60 38h3v1h-3zM69 38h1v1h-1zM15 39h1v1h-1zM28 39h4v1h-4zM35 39h2v1h-2zM38 39h1v1h-1zM49 39h1v1h-1zM62 39h1v1h-1zM66 39h1v1h-1zM15 40h1v1h-1zM35 40h2v1h-2zM39 40h1v1h-1zM50 40h1v1h-1zM62 40h2v1h-2zM67 40h1v1h-1zM0 41h1v1h-1zM22 41h1v1h-1zM61 41h4v1h-4zM1 42h1v1h-1zM26 42h1v1h-1zM54 42h1v1h-1zM56 42h1v1h-1zM64 42h1v1h-1zM1 43h2v1h-2zM27 43h2v1h-2zM47 43h4v1h-4zM54 43h1v1h-1zM56 43h1v1h-1zM0 44h2v1h-2zM25 44h2v1h-2zM49 44h2v1h-2zM53 44h1v1h-1zM2 45h3v1h-3zM14 45h1v1h-1zM22 45h1v1h-1zM24 45h3v1h-3zM49 45h3v1h-3zM53 45h2v1h-2zM0 46h3v1h-3zM13 46h2v1h-2zM24 46h3v1h-3zM28 46h2v1h-2zM47 46h1v1h-1zM53 46h2v1h-2zM59 46h1v1h-1zM0 47h5v1h-5zM14 47h2v1h-2zM18 47h1v1h-1zM25 47h1v1h-1zM28 47h1v1h-1zM41 47h1v1h-1zM43 47h3v1h-3zM47 47h2v1h-2zM11 48h1v1h-1zM15 48h1v1h-1zM27 48h1v1h-1zM35 48h1v1h-1zM42 48h5v1h-5zM55 48h1v1h-1zM5 49h1v1h-1zM12 49h1v1h-1zM14 49h3v1h-3zM40 49h1v1h-1zM51 49h1v1h-1zM55 49h1v1h-1zM5 50h1v1h-1zM13 50h1v1h-1zM16 50h1v1h-1zM18 50h1v1h-1zM33 50h3v1h-3zM40 50h1v1h-1zM69 50h1v1h-1zM13 51h3v1h-3zM17 51h2v1h-2zM29 51h1v1h-1zM41 51h2v1h-2zM69 51h1v1h-1z" fill="#7228b6"/>
</g>
<g transform="translate(325.9 527.9)" filter="url(#imblur)">
<rect width="70" height="52" fill="#f8f1f8"/>
<path d="M0 0h3v1h-3zM7 0h1v1h-1zM11 0h2v1h-2zM19 0h1v1h-1zM25 0h14v1h-14zM40 0h3v1h-3zM48 0h2v1h-2zM51 0h2v1h-2zM64 0h2v1h-2zM0 1h5v1h-5zM19 1h1v1h-1zM22 1h1v1h-1zM25 1h1v1h-1zM27 1h16v1h-16zM46 1h2v1h-2zM54 1h1v1h-1zM65 1h1v1h-1zM0 2h1v1h-1zM2 2h4v1h-4zM18 2h3v1h-3zM22 2h1v1h-1zM28 2h17v1h-17zM46 2h2v1h-2zM54 2h1v1h-1zM60 2h1v1h-1zM66 2h1v1h-1zM3 3h4v1h-4zM13 3h3v1h-3zM17 3h4v1h-4zM22 3h1v1h-1zM28 3h16v1h-16zM46 3h2v1h-2zM54 3h2v1h-2zM57 3h1v1h-1zM61 3h1v1h-1zM66 3h2v1h-2zM0 4h2v1h-2zM6 4h1v1h-1zM13 4h8v1h-8zM30 4h18v1h-18zM52 4h6v1h-6zM61 4h1v1h-1zM63 4h2v1h-2zM0 5h2v1h-2zM4 5h3v1h-3zM9 5h1v1h-1zM15 5h8v1h-8zM30 5h1v1h-1zM33 5h16v1h-16zM51 5h8v1h-8zM64 5h1v1h-1zM0 6h2v1h-2zM4 6h2v1h-2zM15 6h8v1h-8zM30 6h19v1h-19zM50 6h10v1h-10zM65 6h1v1h-1zM0 7h3v1h-3zM9 7h1v1h-1zM15 7h8v1h-8zM31 7h3v1h-3zM35 7h14v1h-14zM51 7h11v1h-11zM0 8h2v1h-2zM6 8h2v1h-2zM9 8h1v1h-1zM15 8h6v1h-6zM22 8h1v1h-1zM31 8h3v1h-3zM35 8h13v1h-13zM49 8h12v1h-12zM68 8h1v1h-1zM9 9h1v1h-1zM15 9h6v1h-6zM24 9h1v1h-1zM32 9h2v1h-2zM35 9h26v1h-26zM62 9h3v1h-3zM10 10h2v1h-2zM14 10h8v1h-8zM24 10h1v1h-1zM26 10h1v1h-1zM31 10h1v1h-1zM36 10h24v1h-24zM61 10h3v1h-3zM4 11h1v1h-1zM10 11h2v1h-2zM14 11h1v1h-1zM18 11h5v1h-5zM29 11h1v1h-1zM36 11h12v1h-12zM50 11h13v1h-13zM0 12h2v1h-2zM4 12h1v1h-1zM14 12h1v1h-1zM17 12h7v1h-7zM36 12h10v1h-10zM50 12h12v1h-12zM0 13h5v1h-5zM11 13h1v1h-1zM14 13h11v1h-11zM34 13h2v1h-2zM37 13h8v1h-8zM48 13h11v1h-11zM60 13h2v1h-2zM66 13h1v1h-1zM0 14h7v1h-7zM11 14h1v1h-1zM14 14h13v1h-13zM34 14h10v1h-10zM48 14h11v1h-11zM63 14h4v1h-4zM69 14h1v1h-1zM2 15h5v1h-5zM14 15h13v1h-13zM36 15h8v1h-8zM47 15h12v1h-12zM63 15h7v1h-7zM2 16h6v1h-6zM10 16h18v1h-18zM36 16h1v1h-1zM39 16h4v1h-4zM45 16h14v1h-14zM63 16h7v1h-7zM0 17h8v1h-8zM11 17h15v1h-15zM35 17h1v1h-1zM39 17h1v1h-1zM45 17h13v1h-13zM59 17h1v1h-1zM62 17h8v1h-8zM0 18h8v1h-8zM11 18h15v1h-15zM31 18h1v1h-1zM46 18h11v1h-11zM60 18h10v1h-10zM0 19h24v1h-24zM29 19h4v1h-4zM44 19h1v1h-1zM47 19h10v1h-10zM60 19h10v1h-10zM1 20h1v1h-1zM4 20h9v1h-9zM14 20h7v1h-7zM23 20h1v1h-1zM32 20h1v1h-1zM36 20h2v1h-2zM45 20h12v1h-12zM60 20h10v1h-10zM1 21h1v1h-1zM3 21h4v1h-4zM8 21h4v1h-4zM14 21h8v1h-8zM23 21h2v1h-2zM36 21h3v1h-3zM46 21h1v1h-1zM48 21h1v1h-1zM50 21h6v1h-6zM61 21h3v1h-3zM67 21h3v1h-3zM1 22h2v1h-2zM4 22h6v1h-6zM13 22h3v1h-3zM18 22h4v1h-4zM23 22h3v1h-3zM28 22h1v1h-1zM38 22h2v1h-2zM44 22h2v1h-2zM51 22h4v1h-4zM60 22h3v1h-3zM66 22h4v1h-4zM1 23h2v1h-2zM5 23h2v1h-2zM8 23h2v1h-2zM13 23h3v1h-3zM21 23h6v1h-6zM28 23h2v1h-2zM37 23h2v1h-2zM47 23h2v1h-2zM51 23h3v1h-3zM66 23h4v1h-4zM11 24h5v1h-5zM21 24h10v1h-10zM37 24h1v1h-1zM42 24h1v1h-1zM51 24h2v1h-2zM55 24h1v1h-1zM66 24h4v1h-4zM1 25h1v1h-1zM9 25h1v1h-1zM11 25h1v1h-1zM14 25h1v1h-1zM22 25h10v1h-10zM37 25h4v1h-4zM51 25h3v1h-3zM65 25h4v1h-4zM2 26h2v1h-2zM8 26h2v1h-2zM14 26h1v1h-1zM19 26h1v1h-1zM22 26h9v1h-9zM32 26h1v1h-1zM37 26h3v1h-3zM42 26h1v1h-1zM48 26h1v1h-1zM50 26h4v1h-4zM8 27h1v1h-1zM14 27h2v1h-2zM20 27h1v1h-1zM22 27h7v1h-7zM32 27h2v1h-2zM37 27h1v1h-1zM45 27h10v1h-10zM57 27h2v1h-2zM0 28h1v1h-1zM13 28h2v1h-2zM20 28h1v1h-1zM22 28h7v1h-7zM32 28h3v1h-3zM44 28h7v1h-7zM52 28h6v1h-6zM65 28h1v1h-1zM69 28h1v1h-1zM0 29h1v1h-1zM3 29h1v1h-1zM13 29h3v1h-3zM19 29h2v1h-2zM22 29h7v1h-7zM32 29h3v1h-3zM36 29h2v1h-2zM44 29h1v1h-1zM46 29h2v1h-2zM51 29h2v1h-2zM56 29h2v1h-2zM65 29h1v1h-1zM0 30h4v1h-4zM14 30h2v1h-2zM22 30h7v1h-7zM32 30h7v1h-7zM44 30h3v1h-3zM51 30h2v1h-2zM56 30h2v1h-2zM65 30h1v1h-1zM0 31h3v1h-3zM27 31h2v1h-2zM31 31h8v1h-8zM45 31h1v1h-1zM48 31h2v1h-2zM52 31h1v1h-1zM54 31h1v1h-1zM57 31h1v1h-1zM2 32h3v1h-3zM27 32h2v1h-2zM31 32h8v1h-8zM45 32h1v1h-1zM48 32h3v1h-3zM58 32h1v1h-1zM69 32h1v1h-1zM21 33h3v1h-3zM26 33h3v1h-3zM31 33h8v1h-8zM41 33h1v1h-1zM44 33h2v1h-2zM50 33h1v1h-1zM55 33h5v1h-5zM65 33h1v1h-1zM69 33h1v1h-1zM13 34h1v1h-1zM21 34h8v1h-8zM30 34h12v1h-12zM44 34h2v1h-2zM48 34h4v1h-4zM54 34h16v1h-16zM1 35h1v1h-1zM17 35h13v1h-13zM31 35h9v1h-9zM44 35h2v1h-2zM50 35h3v1h-3zM54 35h16v1h-16zM1 36h1v1h-1zM13 36h1v1h-1zM17 36h23v1h-23zM50 36h15v1h-15zM67 36h3v1h-3zM11 37h1v1h-1zM21 37h6v1h-6zM30 37h11v1h-11zM47 37h18v1h-18zM68 37h2v1h-2zM1 38h4v1h-4zM7 38h2v1h-2zM12 38h1v1h-1zM20 38h7v1h-7zM32 38h8v1h-8zM47 38h19v1h-19zM69 38h1v1h-1zM0 39h5v1h-5zM7 39h2v1h-2zM19 39h9v1h-9zM33 39h5v1h-5zM39 39h1v1h-1zM47 39h20v1h-20zM0 40h5v1h-5zM7 40h2v1h-2zM19 40h10v1h-10zM30 40h2v1h-2zM34 40h6v1h-6zM44 40h26v1h-26zM0 41h5v1h-5zM8 41h3v1h-3zM12 41h2v1h-2zM18 41h11v1h-11zM30 41h1v1h-1zM33 41h6v1h-6zM44 41h23v1h-23zM0 42h5v1h-5zM8 42h5v1h-5zM15 42h1v1h-1zM17 42h12v1h-12zM30 42h2v1h-2zM33 42h9v1h-9zM45 42h22v1h-22zM0 43h4v1h-4zM7 43h3v1h-3zM11 43h1v1h-1zM14 43h2v1h-2zM18 43h1v1h-1zM20 43h9v1h-9zM30 43h1v1h-1zM34 43h8v1h-8zM45 43h1v1h-1zM48 43h19v1h-19zM0 44h4v1h-4zM7 44h9v1h-9zM17 44h12v1h-12zM34 44h7v1h-7zM45 44h1v1h-1zM48 44h19v1h-19zM0 45h2v1h-2zM8 45h4v1h-4zM13 45h10v1h-10zM24 45h6v1h-6zM34 45h6v1h-6zM42 45h4v1h-4zM48 45h7v1h-7zM57 45h12v1h-12zM5 46h7v1h-7zM13 46h9v1h-9zM25 46h8v1h-8zM36 46h3v1h-3zM44 46h1v1h-1zM54 46h2v1h-2zM58 46h9v1h-9zM6 47h1v1h-1zM9 47h11v1h-11zM24 47h8v1h-8zM35 47h4v1h-4zM43 47h2v1h-2zM55 47h1v1h-1zM59 47h10v1h-10zM0 48h1v1h-1zM10 48h10v1h-10zM24 48h7v1h-7zM35 48h2v1h-2zM43 48h1v1h-1zM56 48h9v1h-9zM66 48h2v1h-2zM0 49h3v1h-3zM6 49h2v1h-2zM9 49h1v1h-1zM11 49h8v1h-8zM24 49h7v1h-7zM53 49h1v1h-1zM56 49h2v1h-2zM62 49h1v1h-1zM66 49h1v1h-1zM0 50h9v1h-9zM14 50h6v1h-6zM23 50h8v1h-8zM39 50h2v1h-2zM53 50h5v1h-5zM69 50h1v1h-1zM0 51h5v1h-5zM8 51h2v1h-2zM25 51h2v1h-2zM40 51h2v1h-2zM48 51h1v1h-1zM51 51h2v1h-2zM55 51h1v1h-1zM68 51h2v1h-2z" fill="#dccaf0"/>
<path d="M0 0h3v1h-3zM11 0h2v1h-2zM19 0h1v1h-1zM26 0h13v1h-13zM41 0h2v1h-2zM49 0h1v1h-1zM64 0h2v1h-2zM0 1h3v1h-3zM19 1h1v1h-1zM28 1h11v1h-11zM40 1h2v1h-2zM46 1h2v1h-2zM54 1h1v1h-1zM65 1h1v1h-1zM0 2h1v1h-1zM3 2h3v1h-3zM19 2h1v1h-1zM22 2h1v1h-1zM28 2h15v1h-15zM46 2h2v1h-2zM3 3h2v1h-2zM14 3h2v1h-2zM18 3h2v1h-2zM28 3h15v1h-15zM46 3h1v1h-1zM54 3h2v1h-2zM57 3h1v1h-1zM67 3h1v1h-1zM14 4h7v1h-7zM30 4h18v1h-18zM53 4h5v1h-5zM63 4h2v1h-2zM0 5h2v1h-2zM6 5h1v1h-1zM15 5h7v1h-7zM33 5h15v1h-15zM52 5h7v1h-7zM64 5h1v1h-1zM0 6h2v1h-2zM4 6h2v1h-2zM15 6h8v1h-8zM32 6h17v1h-17zM51 6h9v1h-9zM0 7h2v1h-2zM15 7h8v1h-8zM31 7h3v1h-3zM35 7h14v1h-14zM51 7h11v1h-11zM0 8h1v1h-1zM6 8h1v1h-1zM9 8h1v1h-1zM15 8h6v1h-6zM32 8h2v1h-2zM35 8h13v1h-13zM50 8h11v1h-11zM15 9h6v1h-6zM32 9h2v1h-2zM35 9h25v1h-25zM62 9h3v1h-3zM10 10h1v1h-1zM14 10h1v1h-1zM17 10h5v1h-5zM36 10h13v1h-13zM50 10h10v1h-10zM61 10h3v1h-3zM4 11h1v1h-1zM10 11h2v1h-2zM14 11h1v1h-1zM18 11h5v1h-5zM29 11h1v1h-1zM36 11h12v1h-12zM50 11h13v1h-13zM4 12h1v1h-1zM14 12h1v1h-1zM17 12h6v1h-6zM37 12h9v1h-9zM50 12h12v1h-12zM0 13h5v1h-5zM14 13h1v1h-1zM16 13h9v1h-9zM35 13h1v1h-1zM38 13h6v1h-6zM48 13h10v1h-10zM2 14h2v1h-2zM5 14h2v1h-2zM14 14h13v1h-13zM35 14h9v1h-9zM48 14h10v1h-10zM64 14h3v1h-3zM2 15h1v1h-1zM5 15h2v1h-2zM14 15h13v1h-13zM36 15h7v1h-7zM48 15h11v1h-11zM64 15h6v1h-6zM2 16h5v1h-5zM11 16h16v1h-16zM39 16h2v1h-2zM46 16h13v1h-13zM64 16h6v1h-6zM0 17h8v1h-8zM11 17h15v1h-15zM35 17h1v1h-1zM46 17h12v1h-12zM62 17h8v1h-8zM0 18h7v1h-7zM11 18h1v1h-1zM14 18h11v1h-11zM46 18h11v1h-11zM60 18h10v1h-10zM1 19h1v1h-1zM3 19h4v1h-4zM8 19h1v1h-1zM10 19h3v1h-3zM14 19h9v1h-9zM31 19h2v1h-2zM47 19h10v1h-10zM61 19h9v1h-9zM4 20h8v1h-8zM14 20h7v1h-7zM23 20h1v1h-1zM32 20h1v1h-1zM36 20h2v1h-2zM46 20h9v1h-9zM56 20h1v1h-1zM61 20h9v1h-9zM3 21h3v1h-3zM8 21h2v1h-2zM11 21h1v1h-1zM14 21h8v1h-8zM36 21h1v1h-1zM38 21h1v1h-1zM50 21h5v1h-5zM61 21h3v1h-3zM67 21h3v1h-3zM1 22h1v1h-1zM5 22h2v1h-2zM8 22h2v1h-2zM13 22h3v1h-3zM19 22h3v1h-3zM23 22h3v1h-3zM28 22h1v1h-1zM38 22h1v1h-1zM44 22h2v1h-2zM51 22h4v1h-4zM61 22h2v1h-2zM66 22h4v1h-4zM8 23h1v1h-1zM13 23h3v1h-3zM21 23h1v1h-1zM23 23h4v1h-4zM28 23h1v1h-1zM51 23h2v1h-2zM66 23h4v1h-4zM11 24h1v1h-1zM14 24h2v1h-2zM22 24h7v1h-7zM52 24h1v1h-1zM66 24h4v1h-4zM14 25h1v1h-1zM22 25h9v1h-9zM37 25h4v1h-4zM51 25h3v1h-3zM66 25h3v1h-3zM2 26h1v1h-1zM8 26h2v1h-2zM14 26h1v1h-1zM22 26h9v1h-9zM37 26h2v1h-2zM51 26h3v1h-3zM14 27h2v1h-2zM20 27h1v1h-1zM22 27h7v1h-7zM32 27h2v1h-2zM45 27h10v1h-10zM0 28h1v1h-1zM14 28h1v1h-1zM20 28h1v1h-1zM22 28h7v1h-7zM32 28h2v1h-2zM46 28h4v1h-4zM52 28h3v1h-3zM65 28h1v1h-1zM69 28h1v1h-1zM0 29h1v1h-1zM13 29h2v1h-2zM22 29h7v1h-7zM32 29h3v1h-3zM36 29h2v1h-2zM46 29h2v1h-2zM56 29h2v1h-2zM65 29h1v1h-1zM0 30h1v1h-1zM3 30h1v1h-1zM15 30h1v1h-1zM22 30h1v1h-1zM24 30h1v1h-1zM26 30h3v1h-3zM33 30h5v1h-5zM51 30h2v1h-2zM56 30h2v1h-2zM1 31h2v1h-2zM27 31h2v1h-2zM31 31h8v1h-8zM48 31h2v1h-2zM57 31h1v1h-1zM27 32h2v1h-2zM32 32h7v1h-7zM69 32h1v1h-1zM21 33h3v1h-3zM26 33h3v1h-3zM31 33h8v1h-8zM41 33h1v1h-1zM44 33h2v1h-2zM55 33h4v1h-4zM69 33h1v1h-1zM21 34h8v1h-8zM31 34h8v1h-8zM41 34h1v1h-1zM44 34h2v1h-2zM49 34h2v1h-2zM54 34h8v1h-8zM65 34h2v1h-2zM69 34h1v1h-1zM1 35h1v1h-1zM18 35h12v1h-12zM32 35h8v1h-8zM50 35h2v1h-2zM54 35h10v1h-10zM66 35h4v1h-4zM17 36h1v1h-1zM19 36h21v1h-21zM50 36h15v1h-15zM67 36h3v1h-3zM21 37h6v1h-6zM30 37h10v1h-10zM47 37h18v1h-18zM69 37h1v1h-1zM2 38h2v1h-2zM8 38h1v1h-1zM21 38h6v1h-6zM33 38h7v1h-7zM47 38h19v1h-19zM69 38h1v1h-1zM0 39h4v1h-4zM7 39h2v1h-2zM20 39h8v1h-8zM34 39h4v1h-4zM48 39h19v1h-19zM0 40h4v1h-4zM7 40h2v1h-2zM19 40h10v1h-10zM30 40h2v1h-2zM34 40h6v1h-6zM44 40h25v1h-25zM0 41h5v1h-5zM8 41h2v1h-2zM12 41h1v1h-1zM19 41h10v1h-10zM34 41h5v1h-5zM44 41h23v1h-23zM0 42h5v1h-5zM8 42h2v1h-2zM11 42h2v1h-2zM15 42h1v1h-1zM18 42h1v1h-1zM20 42h8v1h-8zM30 42h1v1h-1zM34 42h7v1h-7zM45 42h22v1h-22zM0 43h4v1h-4zM7 43h3v1h-3zM14 43h2v1h-2zM18 43h1v1h-1zM21 43h2v1h-2zM24 43h4v1h-4zM30 43h1v1h-1zM34 43h7v1h-7zM48 43h19v1h-19zM0 44h1v1h-1zM2 44h1v1h-1zM7 44h4v1h-4zM12 44h1v1h-1zM14 44h2v1h-2zM18 44h2v1h-2zM21 44h2v1h-2zM25 44h4v1h-4zM34 44h6v1h-6zM45 44h1v1h-1zM48 44h19v1h-19zM0 45h1v1h-1zM8 45h4v1h-4zM14 45h9v1h-9zM24 45h6v1h-6zM34 45h6v1h-6zM43 45h2v1h-2zM48 45h7v1h-7zM57 45h12v1h-12zM5 46h3v1h-3zM9 46h3v1h-3zM13 46h8v1h-8zM25 46h6v1h-6zM36 46h2v1h-2zM54 46h1v1h-1zM58 46h9v1h-9zM10 47h10v1h-10zM24 47h7v1h-7zM36 47h2v1h-2zM44 47h1v1h-1zM59 47h9v1h-9zM10 48h10v1h-10zM24 48h7v1h-7zM35 48h1v1h-1zM57 48h1v1h-1zM60 48h4v1h-4zM66 48h2v1h-2zM0 49h3v1h-3zM7 49h1v1h-1zM11 49h6v1h-6zM24 49h7v1h-7zM56 49h2v1h-2zM0 50h5v1h-5zM6 50h3v1h-3zM14 50h3v1h-3zM24 50h6v1h-6zM40 50h1v1h-1zM56 50h2v1h-2zM69 50h1v1h-1zM0 51h5v1h-5zM8 51h1v1h-1zM25 51h2v1h-2zM41 51h1v1h-1zM51 51h1v1h-1zM55 51h1v1h-1zM68 51h2v1h-2z" fill="#a865dc"/>
<path d="M0 0h3v1h-3zM11 0h2v1h-2zM27 0h11v1h-11zM64 0h2v1h-2zM0 1h3v1h-3zM19 1h1v1h-1zM28 1h10v1h-10zM40 1h1v1h-1zM0 2h1v1h-1zM3 2h3v1h-3zM19 2h1v1h-1zM22 2h1v1h-1zM28 2h15v1h-15zM46 2h1v1h-1zM4 3h1v1h-1zM14 3h1v1h-1zM18 3h2v1h-2zM28 3h15v1h-15zM54 3h2v1h-2zM14 4h1v1h-1zM17 4h4v1h-4zM32 4h13v1h-13zM46 4h2v1h-2zM53 4h5v1h-5zM0 5h2v1h-2zM6 5h1v1h-1zM16 5h6v1h-6zM33 5h15v1h-15zM52 5h6v1h-6zM0 6h2v1h-2zM16 6h7v1h-7zM33 6h16v1h-16zM51 6h9v1h-9zM0 7h1v1h-1zM15 7h8v1h-8zM31 7h2v1h-2zM35 7h13v1h-13zM51 7h10v1h-10zM15 8h5v1h-5zM32 8h1v1h-1zM35 8h13v1h-13zM51 8h9v1h-9zM16 9h5v1h-5zM32 9h1v1h-1zM35 9h12v1h-12zM50 9h10v1h-10zM62 9h3v1h-3zM18 10h4v1h-4zM36 10h11v1h-11zM50 10h10v1h-10zM62 10h2v1h-2zM10 11h1v1h-1zM18 11h4v1h-4zM37 11h11v1h-11zM50 11h10v1h-10zM17 12h6v1h-6zM37 12h9v1h-9zM50 12h11v1h-11zM1 13h3v1h-3zM17 13h6v1h-6zM35 13h1v1h-1zM38 13h6v1h-6zM49 13h9v1h-9zM2 14h1v1h-1zM6 14h1v1h-1zM15 14h10v1h-10zM35 14h9v1h-9zM49 14h9v1h-9zM65 14h2v1h-2zM5 15h2v1h-2zM14 15h13v1h-13zM36 15h5v1h-5zM48 15h9v1h-9zM64 15h6v1h-6zM2 16h5v1h-5zM11 16h15v1h-15zM39 16h1v1h-1zM47 16h12v1h-12zM64 16h6v1h-6zM2 17h6v1h-6zM11 17h15v1h-15zM35 17h1v1h-1zM46 17h11v1h-11zM63 17h7v1h-7zM0 18h7v1h-7zM14 18h10v1h-10zM46 18h1v1h-1zM48 18h9v1h-9zM62 18h8v1h-8zM1 19h1v1h-1zM4 19h3v1h-3zM11 19h1v1h-1zM14 19h8v1h-8zM32 19h1v1h-1zM48 19h9v1h-9zM61 19h9v1h-9zM4 20h2v1h-2zM8 20h4v1h-4zM14 20h6v1h-6zM32 20h1v1h-1zM36 20h1v1h-1zM47 20h8v1h-8zM62 20h3v1h-3zM66 20h4v1h-4zM5 21h1v1h-1zM9 21h1v1h-1zM14 21h8v1h-8zM50 21h5v1h-5zM61 21h3v1h-3zM67 21h3v1h-3zM5 22h1v1h-1zM8 22h2v1h-2zM13 22h3v1h-3zM19 22h1v1h-1zM21 22h1v1h-1zM24 22h2v1h-2zM38 22h1v1h-1zM45 22h1v1h-1zM52 22h1v1h-1zM61 22h1v1h-1zM66 22h4v1h-4zM14 23h2v1h-2zM21 23h1v1h-1zM23 23h3v1h-3zM28 23h1v1h-1zM52 23h1v1h-1zM66 23h4v1h-4zM11 24h1v1h-1zM14 24h1v1h-1zM22 24h7v1h-7zM52 24h1v1h-1zM67 24h3v1h-3zM23 25h8v1h-8zM37 25h1v1h-1zM39 25h2v1h-2zM52 25h1v1h-1zM66 25h3v1h-3zM23 26h6v1h-6zM52 26h2v1h-2zM14 27h1v1h-1zM23 27h6v1h-6zM46 27h9v1h-9zM0 28h1v1h-1zM24 28h5v1h-5zM47 28h2v1h-2zM0 29h1v1h-1zM22 29h1v1h-1zM24 29h5v1h-5zM33 29h1v1h-1zM57 29h1v1h-1zM65 29h1v1h-1zM0 30h1v1h-1zM3 30h1v1h-1zM34 30h4v1h-4zM57 30h1v1h-1zM1 31h1v1h-1zM32 31h1v1h-1zM34 31h4v1h-4zM27 32h2v1h-2zM32 32h7v1h-7zM31 33h8v1h-8zM55 33h1v1h-1zM58 33h1v1h-1zM69 33h1v1h-1zM21 34h3v1h-3zM31 34h8v1h-8zM54 34h8v1h-8zM65 34h2v1h-2zM69 34h1v1h-1zM21 35h8v1h-8zM32 35h7v1h-7zM51 35h1v1h-1zM54 35h10v1h-10zM66 35h4v1h-4zM19 36h8v1h-8zM29 36h10v1h-10zM50 36h3v1h-3zM54 36h11v1h-11zM68 36h2v1h-2zM21 37h6v1h-6zM30 37h1v1h-1zM32 37h8v1h-8zM50 37h15v1h-15zM69 37h1v1h-1zM21 38h6v1h-6zM33 38h7v1h-7zM47 38h19v1h-19zM69 38h1v1h-1zM0 39h4v1h-4zM7 39h1v1h-1zM20 39h8v1h-8zM34 39h4v1h-4zM48 39h19v1h-19zM0 40h4v1h-4zM7 40h1v1h-1zM19 40h10v1h-10zM34 40h5v1h-5zM47 40h22v1h-22zM0 41h4v1h-4zM8 41h1v1h-1zM12 41h1v1h-1zM20 41h1v1h-1zM22 41h6v1h-6zM34 41h5v1h-5zM45 41h22v1h-22zM1 42h3v1h-3zM9 42h1v1h-1zM15 42h1v1h-1zM18 42h1v1h-1zM20 42h3v1h-3zM24 42h4v1h-4zM34 42h5v1h-5zM45 42h21v1h-21zM2 43h2v1h-2zM8 43h2v1h-2zM15 43h1v1h-1zM21 43h2v1h-2zM26 43h1v1h-1zM34 43h7v1h-7zM48 43h18v1h-18zM0 44h1v1h-1zM2 44h1v1h-1zM8 44h2v1h-2zM12 44h1v1h-1zM14 44h2v1h-2zM18 44h2v1h-2zM25 44h4v1h-4zM34 44h6v1h-6zM48 44h19v1h-19zM9 45h3v1h-3zM14 45h9v1h-9zM25 45h4v1h-4zM34 45h6v1h-6zM43 45h2v1h-2zM48 45h6v1h-6zM57 45h10v1h-10zM9 46h3v1h-3zM14 46h7v1h-7zM25 46h6v1h-6zM36 46h2v1h-2zM59 46h7v1h-7zM10 47h10v1h-10zM24 47h7v1h-7zM37 47h1v1h-1zM60 47h7v1h-7zM11 48h2v1h-2zM14 48h3v1h-3zM18 48h1v1h-1zM24 48h6v1h-6zM57 48h1v1h-1zM61 48h3v1h-3zM66 48h1v1h-1zM0 49h2v1h-2zM11 49h2v1h-2zM15 49h1v1h-1zM24 49h6v1h-6zM0 50h4v1h-4zM6 50h2v1h-2zM15 50h1v1h-1zM24 50h4v1h-4zM0 51h4v1h-4zM8 51h1v1h-1zM25 51h1v1h-1zM55 51h1v1h-1zM68 51h2v1h-2z" fill="#8a36d0"/>
<path d="M38 5h1v1h-1zM38 6h4v1h-4zM38 7h2v1h-2zM54 7h4v1h-4zM38 8h5v1h-5zM54 8h4v1h-4zM38 9h6v1h-6zM52 9h6v1h-6zM40 10h1v1h-1zM43 10h1v1h-1zM52 10h7v1h-7zM52 11h6v1h-6zM20 12h1v1h-1zM53 12h2v1h-2zM20 13h1v1h-1zM18 14h4v1h-4zM52 14h3v1h-3zM18 15h4v1h-4zM50 15h3v1h-3zM16 16h6v1h-6zM49 16h4v1h-4zM16 17h6v1h-6zM49 17h4v1h-4zM69 17h1v1h-1zM16 18h2v1h-2zM19 18h2v1h-2zM50 18h3v1h-3zM68 18h2v1h-2zM16 19h2v1h-2zM68 19h2v1h-2zM17 20h1v1h-1zM68 20h2v1h-2zM68 21h2v1h-2zM68 22h2v1h-2zM69 23h1v1h-1zM33 33h4v1h-4zM33 34h5v1h-5zM33 35h5v1h-5zM58 35h2v1h-2zM34 36h3v1h-3zM56 36h5v1h-5zM23 37h1v1h-1zM56 37h6v1h-6zM22 38h2v1h-2zM56 38h7v1h-7zM52 39h1v1h-1zM55 39h9v1h-9zM50 40h1v1h-1zM54 40h10v1h-10zM49 41h6v1h-6zM56 41h9v1h-9zM49 42h6v1h-6zM57 42h8v1h-8zM50 43h1v1h-1zM52 43h1v1h-1zM58 43h7v1h-7zM59 44h6v1h-6zM62 45h3v1h-3zM62 46h2v1h-2zM0 51h1v1h-1z" fill="#7228b6"/>
</g>
<g transform="translate(99.9 588.7)" filter="url(#imblur)">
<rect width="70" height="52" fill="#f8f1f8"/>
<path d="M0 0h2v1h-2zM4 0h2v1h-2zM7 0h1v1h-1zM11 0h7v1h-7zM19 0h11v1h-11zM37 0h5v1h-5zM46 0h1v1h-1zM48 0h2v1h-2zM51 0h3v1h-3zM55 0h1v1h-1zM62 0h2v1h-2zM66 0h3v1h-3zM0 1h1v1h-1zM5 1h5v1h-5zM11 1h1v1h-1zM13 1h6v1h-6zM22 1h7v1h-7zM37 1h6v1h-6zM44 1h8v1h-8zM56 1h1v1h-1zM66 1h4v1h-4zM0 2h3v1h-3zM5 2h7v1h-7zM13 2h8v1h-8zM22 2h10v1h-10zM36 2h7v1h-7zM44 2h9v1h-9zM66 2h4v1h-4zM0 3h3v1h-3zM5 3h5v1h-5zM11 3h4v1h-4zM16 3h3v1h-3zM20 3h1v1h-1zM23 3h2v1h-2zM30 3h3v1h-3zM38 3h3v1h-3zM42 3h5v1h-5zM48 3h6v1h-6zM56 3h2v1h-2zM61 3h3v1h-3zM66 3h4v1h-4zM0 4h10v1h-10zM11 4h3v1h-3zM20 4h5v1h-5zM29 4h3v1h-3zM39 4h2v1h-2zM42 4h5v1h-5zM48 4h5v1h-5zM56 4h1v1h-1zM62 4h8v1h-8zM0 5h13v1h-13zM20 5h4v1h-4zM29 5h4v1h-4zM37 5h4v1h-4zM42 5h3v1h-3zM46 5h1v1h-1zM51 5h3v1h-3zM62 5h8v1h-8zM0 6h11v1h-11zM12 6h1v1h-1zM19 6h4v1h-4zM29 6h3v1h-3zM35 6h1v1h-1zM38 6h1v1h-1zM40 6h1v1h-1zM43 6h1v1h-1zM54 6h2v1h-2zM57 6h1v1h-1zM62 6h8v1h-8zM0 7h5v1h-5zM8 7h3v1h-3zM12 7h2v1h-2zM18 7h5v1h-5zM35 7h1v1h-1zM42 7h2v1h-2zM46 7h3v1h-3zM53 7h2v1h-2zM57 7h1v1h-1zM63 7h5v1h-5zM69 7h1v1h-1zM0 8h1v1h-1zM3 8h7v1h-7zM12 8h2v1h-2zM18 8h4v1h-4zM32 8h1v1h-1zM34 8h3v1h-3zM42 8h1v1h-1zM44 8h6v1h-6zM51 8h8v1h-8zM60 8h2v1h-2zM63 8h1v1h-1zM65 8h5v1h-5zM3 9h5v1h-5zM14 9h2v1h-2zM18 9h5v1h-5zM28 9h2v1h-2zM32 9h1v1h-1zM34 9h6v1h-6zM45 9h5v1h-5zM51 9h12v1h-12zM64 9h6v1h-6zM2 10h5v1h-5zM14 10h11v1h-11zM27 10h14v1h-14zM52 10h7v1h-7zM65 10h1v1h-1zM67 10h3v1h-3zM0 11h7v1h-7zM14 11h6v1h-6zM27 11h14v1h-14zM51 11h9v1h-9zM64 11h1v1h-1zM67 11h3v1h-3zM0 12h6v1h-6zM14 12h4v1h-4zM22 12h1v1h-1zM26 12h1v1h-1zM28 12h3v1h-3zM33 12h8v1h-8zM49 12h1v1h-1zM52 12h9v1h-9zM62 12h3v1h-3zM67 12h3v1h-3zM0 13h1v1h-1zM2 13h4v1h-4zM15 13h2v1h-2zM22 13h3v1h-3zM26 13h1v1h-1zM29 13h3v1h-3zM33 13h8v1h-8zM48 13h11v1h-11zM60 13h7v1h-7zM68 13h1v1h-1zM0 14h1v1h-1zM5 14h1v1h-1zM12 14h1v1h-1zM15 14h1v1h-1zM22 14h3v1h-3zM26 14h1v1h-1zM28 14h5v1h-5zM35 14h3v1h-3zM47 14h3v1h-3zM52 14h7v1h-7zM60 14h5v1h-5zM68 14h1v1h-1zM5 15h2v1h-2zM9 15h2v1h-2zM13 15h1v1h-1zM22 15h3v1h-3zM28 15h5v1h-5zM37 15h2v1h-2zM41 15h3v1h-3zM47 15h3v1h-3zM51 15h7v1h-7zM68 15h1v1h-1zM0 16h1v1h-1zM2 16h5v1h-5zM9 16h2v1h-2zM17 16h3v1h-3zM21 16h4v1h-4zM29 16h3v1h-3zM38 16h3v1h-3zM46 16h6v1h-6zM55 16h3v1h-3zM64 16h1v1h-1zM0 17h1v1h-1zM3 17h8v1h-8zM15 17h10v1h-10zM26 17h1v1h-1zM30 17h1v1h-1zM33 17h8v1h-8zM43 17h1v1h-1zM46 17h5v1h-5zM56 17h7v1h-7zM64 17h2v1h-2zM69 17h1v1h-1zM3 18h1v1h-1zM5 18h3v1h-3zM9 18h2v1h-2zM13 18h12v1h-12zM27 18h1v1h-1zM30 18h1v1h-1zM34 18h6v1h-6zM41 18h10v1h-10zM53 18h2v1h-2zM57 18h11v1h-11zM69 18h1v1h-1zM9 19h2v1h-2zM15 19h6v1h-6zM22 19h3v1h-3zM29 19h1v1h-1zM33 19h1v1h-1zM36 19h9v1h-9zM46 19h4v1h-4zM52 19h4v1h-4zM57 19h7v1h-7zM67 19h3v1h-3zM8 20h6v1h-6zM15 20h5v1h-5zM28 20h2v1h-2zM31 20h3v1h-3zM37 20h2v1h-2zM40 20h5v1h-5zM47 20h4v1h-4zM52 20h4v1h-4zM58 20h6v1h-6zM68 20h2v1h-2zM4 21h1v1h-1zM8 21h4v1h-4zM13 21h3v1h-3zM24 21h1v1h-1zM28 21h2v1h-2zM31 21h2v1h-2zM43 21h2v1h-2zM48 21h2v1h-2zM52 21h3v1h-3zM56 21h1v1h-1zM60 21h5v1h-5zM0 22h1v1h-1zM4 22h2v1h-2zM8 22h4v1h-4zM13 22h6v1h-6zM23 22h3v1h-3zM30 22h3v1h-3zM38 22h2v1h-2zM52 22h2v1h-2zM63 22h3v1h-3zM0 23h1v1h-1zM5 23h1v1h-1zM9 23h2v1h-2zM13 23h1v1h-1zM16 23h3v1h-3zM22 23h3v1h-3zM30 23h3v1h-3zM39 23h1v1h-1zM48 23h1v1h-1zM51 23h2v1h-2zM57 23h1v1h-1zM63 23h7v1h-7zM0 24h1v1h-1zM4 24h4v1h-4zM9 24h4v1h-4zM15 24h5v1h-5zM27 24h1v1h-1zM30 24h4v1h-4zM39 24h1v1h-1zM44 24h2v1h-2zM48 24h5v1h-5zM55 24h3v1h-3zM64 24h6v1h-6zM0 25h1v1h-1zM4 25h16v1h-16zM21 25h3v1h-3zM27 25h1v1h-1zM31 25h3v1h-3zM39 25h3v1h-3zM46 25h1v1h-1zM49 25h5v1h-5zM63 25h1v1h-1zM65 25h5v1h-5zM0 26h2v1h-2zM4 26h4v1h-4zM9 26h15v1h-15zM30 26h2v1h-2zM39 26h4v1h-4zM46 26h1v1h-1zM48 26h8v1h-8zM62 26h8v1h-8zM0 27h3v1h-3zM5 27h1v1h-1zM9 27h4v1h-4zM15 27h7v1h-7zM26 27h1v1h-1zM31 27h1v1h-1zM33 27h3v1h-3zM37 27h5v1h-5zM45 27h13v1h-13zM64 27h6v1h-6zM0 28h4v1h-4zM9 28h2v1h-2zM15 28h7v1h-7zM25 28h3v1h-3zM32 28h9v1h-9zM44 28h15v1h-15zM67 28h3v1h-3zM0 29h5v1h-5zM8 29h1v1h-1zM13 29h8v1h-8zM32 29h9v1h-9zM44 29h15v1h-15zM69 29h1v1h-1zM0 30h5v1h-5zM14 30h7v1h-7zM22 30h2v1h-2zM36 30h7v1h-7zM45 30h6v1h-6zM52 30h6v1h-6zM67 30h3v1h-3zM1 31h4v1h-4zM7 31h1v1h-1zM15 31h5v1h-5zM21 31h2v1h-2zM33 31h1v1h-1zM36 31h7v1h-7zM44 31h4v1h-4zM50 31h8v1h-8zM66 31h4v1h-4zM0 32h1v1h-1zM2 32h2v1h-2zM16 32h8v1h-8zM30 32h1v1h-1zM36 32h12v1h-12zM49 32h2v1h-2zM52 32h7v1h-7zM64 32h6v1h-6zM0 33h3v1h-3zM6 33h6v1h-6zM15 33h6v1h-6zM27 33h5v1h-5zM35 33h12v1h-12zM49 33h1v1h-1zM51 33h9v1h-9zM65 33h5v1h-5zM1 34h6v1h-6zM8 34h1v1h-1zM10 34h3v1h-3zM14 34h9v1h-9zM28 34h5v1h-5zM35 34h6v1h-6zM43 34h4v1h-4zM51 34h9v1h-9zM66 34h4v1h-4zM4 35h1v1h-1zM8 35h1v1h-1zM11 35h1v1h-1zM14 35h9v1h-9zM27 35h6v1h-6zM35 35h6v1h-6zM43 35h4v1h-4zM52 35h7v1h-7zM66 35h3v1h-3zM0 36h6v1h-6zM16 36h9v1h-9zM28 36h12v1h-12zM43 36h3v1h-3zM52 36h7v1h-7zM65 36h3v1h-3zM0 37h5v1h-5zM11 37h1v1h-1zM15 37h8v1h-8zM25 37h1v1h-1zM28 37h14v1h-14zM44 37h1v1h-1zM52 37h5v1h-5zM64 37h4v1h-4zM1 38h4v1h-4zM10 38h4v1h-4zM15 38h7v1h-7zM25 38h1v1h-1zM27 38h4v1h-4zM33 38h5v1h-5zM39 38h2v1h-2zM46 38h5v1h-5zM52 38h5v1h-5zM64 38h4v1h-4zM2 39h1v1h-1zM7 39h1v1h-1zM10 39h8v1h-8zM19 39h3v1h-3zM23 39h3v1h-3zM33 39h1v1h-1zM35 39h3v1h-3zM47 39h1v1h-1zM50 39h3v1h-3zM54 39h2v1h-2zM59 39h1v1h-1zM63 39h5v1h-5zM7 40h8v1h-8zM16 40h1v1h-1zM24 40h1v1h-1zM35 40h4v1h-4zM50 40h3v1h-3zM62 40h7v1h-7zM7 41h10v1h-10zM29 41h4v1h-4zM34 41h5v1h-5zM40 41h2v1h-2zM50 41h4v1h-4zM58 41h2v1h-2zM63 41h6v1h-6zM6 42h5v1h-5zM12 42h7v1h-7zM29 42h4v1h-4zM37 42h1v1h-1zM46 42h1v1h-1zM48 42h2v1h-2zM51 42h3v1h-3zM59 42h2v1h-2zM63 42h1v1h-1zM67 42h3v1h-3zM4 43h18v1h-18zM29 43h5v1h-5zM37 43h2v1h-2zM43 43h1v1h-1zM46 43h4v1h-4zM51 43h12v1h-12zM67 43h3v1h-3zM0 44h1v1h-1zM4 44h17v1h-17zM23 44h3v1h-3zM28 44h6v1h-6zM35 44h1v1h-1zM37 44h3v1h-3zM47 44h3v1h-3zM51 44h2v1h-2zM57 44h7v1h-7zM68 44h2v1h-2zM1 45h1v1h-1zM3 45h13v1h-13zM18 45h3v1h-3zM23 45h11v1h-11zM35 45h1v1h-1zM37 45h4v1h-4zM44 45h1v1h-1zM47 45h4v1h-4zM57 45h7v1h-7zM68 45h2v1h-2zM1 46h1v1h-1zM4 46h7v1h-7zM14 46h2v1h-2zM18 46h4v1h-4zM24 46h9v1h-9zM41 46h11v1h-11zM58 46h7v1h-7zM69 46h1v1h-1zM0 47h2v1h-2zM5 47h1v1h-1zM7 47h1v1h-1zM15 47h1v1h-1zM18 47h15v1h-15zM35 47h4v1h-4zM41 47h7v1h-7zM50 47h2v1h-2zM59 47h6v1h-6zM0 48h2v1h-2zM5 48h2v1h-2zM10 48h6v1h-6zM17 48h6v1h-6zM26 48h4v1h-4zM31 48h2v1h-2zM35 48h2v1h-2zM38 48h1v1h-1zM43 48h5v1h-5zM49 48h3v1h-3zM56 48h3v1h-3zM62 48h3v1h-3zM0 49h1v1h-1zM5 49h2v1h-2zM9 49h7v1h-7zM19 49h1v1h-1zM21 49h2v1h-2zM28 49h5v1h-5zM38 49h2v1h-2zM43 49h8v1h-8zM52 49h1v1h-1zM54 49h1v1h-1zM62 49h3v1h-3zM0 50h1v1h-1zM2 50h5v1h-5zM9 50h1v1h-1zM12 50h5v1h-5zM19 50h1v1h-1zM21 50h2v1h-2zM29 50h2v1h-2zM32 50h1v1h-1zM38 50h4v1h-4zM43 50h8v1h-8zM52 50h3v1h-3zM61 50h2v1h-2zM67 50h3v1h-3zM2 51h6v1h-6zM9 51h2v1h-2zM12 51h4v1h-4zM19 51h4v1h-4zM29 51h1v1h-1zM37 51h9v1h-9zM47 51h7v1h-7zM58 51h1v1h-1zM61 51h2v1h-2zM65 51h5v1h-5z" fill="#dccaf0"/>
<path d="M0 0h1v1h-1zM4 0h1v1h-1zM11 0h1v1h-1zM15 0h3v1h-3zM21 0h8v1h-8zM37 0h2v1h-2zM40 0h1v1h-1zM49 0h1v1h-1zM52 0h1v1h-1zM66 0h3v1h-3zM6 1h3v1h-3zM14 1h4v1h-4zM22 1h7v1h-7zM37 1h5v1h-5zM44 1h7v1h-7zM66 1h4v1h-4zM5 2h5v1h-5zM14 2h5v1h-5zM22 2h3v1h-3zM38 2h4v1h-4zM45 2h1v1h-1zM48 2h4v1h-4zM66 2h3v1h-3zM0 3h2v1h-2zM5 3h5v1h-5zM12 3h1v1h-1zM23 3h2v1h-2zM31 3h1v1h-1zM40 3h1v1h-1zM43 3h1v1h-1zM48 3h5v1h-5zM56 3h2v1h-2zM66 3h4v1h-4zM0 4h2v1h-2zM3 4h7v1h-7zM11 4h2v1h-2zM21 4h4v1h-4zM30 4h2v1h-2zM43 4h1v1h-1zM51 4h2v1h-2zM63 4h2v1h-2zM66 4h4v1h-4zM0 5h2v1h-2zM3 5h1v1h-1zM5 5h5v1h-5zM20 5h4v1h-4zM29 5h3v1h-3zM38 5h1v1h-1zM43 5h1v1h-1zM51 5h2v1h-2zM62 5h8v1h-8zM1 6h3v1h-3zM6 6h4v1h-4zM20 6h3v1h-3zM54 6h1v1h-1zM63 6h7v1h-7zM1 7h3v1h-3zM8 7h3v1h-3zM13 7h1v1h-1zM19 7h3v1h-3zM53 7h2v1h-2zM57 7h1v1h-1zM65 7h2v1h-2zM5 8h2v1h-2zM18 8h4v1h-4zM35 8h1v1h-1zM45 8h4v1h-4zM52 8h3v1h-3zM57 8h2v1h-2zM65 8h2v1h-2zM69 8h1v1h-1zM4 9h3v1h-3zM18 9h4v1h-4zM34 9h4v1h-4zM39 9h1v1h-1zM47 9h2v1h-2zM52 9h7v1h-7zM65 9h5v1h-5zM3 10h4v1h-4zM15 10h6v1h-6zM27 10h3v1h-3zM31 10h1v1h-1zM34 10h7v1h-7zM52 10h6v1h-6zM67 10h3v1h-3zM0 11h6v1h-6zM14 11h5v1h-5zM27 11h3v1h-3zM33 11h8v1h-8zM52 11h7v1h-7zM67 11h3v1h-3zM3 12h2v1h-2zM15 12h3v1h-3zM28 12h3v1h-3zM33 12h8v1h-8zM53 12h5v1h-5zM63 12h2v1h-2zM68 12h2v1h-2zM3 13h1v1h-1zM23 13h1v1h-1zM26 13h1v1h-1zM29 13h1v1h-1zM33 13h7v1h-7zM49 13h1v1h-1zM52 13h6v1h-6zM62 13h3v1h-3zM23 14h2v1h-2zM29 14h1v1h-1zM31 14h2v1h-2zM48 14h2v1h-2zM53 14h5v1h-5zM61 14h2v1h-2zM68 14h1v1h-1zM9 15h1v1h-1zM22 15h2v1h-2zM29 15h4v1h-4zM37 15h1v1h-1zM42 15h1v1h-1zM48 15h1v1h-1zM55 15h3v1h-3zM3 16h3v1h-3zM9 16h1v1h-1zM17 16h2v1h-2zM21 16h4v1h-4zM29 16h2v1h-2zM39 16h1v1h-1zM47 16h2v1h-2zM51 16h1v1h-1zM55 16h3v1h-3zM3 17h1v1h-1zM6 17h2v1h-2zM15 17h10v1h-10zM34 17h1v1h-1zM36 17h1v1h-1zM39 17h1v1h-1zM43 17h1v1h-1zM46 17h4v1h-4zM56 17h4v1h-4zM64 17h1v1h-1zM6 18h2v1h-2zM9 18h1v1h-1zM14 18h11v1h-11zM36 18h4v1h-4zM42 18h2v1h-2zM46 18h4v1h-4zM58 18h5v1h-5zM10 19h1v1h-1zM15 19h5v1h-5zM22 19h2v1h-2zM37 19h8v1h-8zM46 19h4v1h-4zM53 19h2v1h-2zM58 19h5v1h-5zM9 20h3v1h-3zM17 20h2v1h-2zM28 20h1v1h-1zM40 20h5v1h-5zM47 20h3v1h-3zM52 20h3v1h-3zM59 20h4v1h-4zM8 21h3v1h-3zM13 21h1v1h-1zM32 21h1v1h-1zM49 21h1v1h-1zM52 21h2v1h-2zM60 21h3v1h-3zM9 22h2v1h-2zM13 22h2v1h-2zM16 22h2v1h-2zM23 22h2v1h-2zM31 22h1v1h-1zM63 22h2v1h-2zM17 23h1v1h-1zM23 23h1v1h-1zM30 23h3v1h-3zM63 23h6v1h-6zM5 24h3v1h-3zM16 24h3v1h-3zM30 24h4v1h-4zM39 24h1v1h-1zM51 24h2v1h-2zM65 24h5v1h-5zM4 25h5v1h-5zM10 25h3v1h-3zM14 25h6v1h-6zM31 25h2v1h-2zM39 25h2v1h-2zM50 25h3v1h-3zM65 25h5v1h-5zM5 26h3v1h-3zM10 26h4v1h-4zM15 26h7v1h-7zM39 26h3v1h-3zM49 26h5v1h-5zM63 26h1v1h-1zM65 26h5v1h-5zM0 27h2v1h-2zM10 27h2v1h-2zM16 27h6v1h-6zM33 27h3v1h-3zM38 27h3v1h-3zM48 27h10v1h-10zM65 27h5v1h-5zM0 28h4v1h-4zM16 28h5v1h-5zM26 28h1v1h-1zM32 28h8v1h-8zM44 28h15v1h-15zM69 28h1v1h-1zM0 29h5v1h-5zM15 29h5v1h-5zM35 29h6v1h-6zM45 29h14v1h-14zM0 30h5v1h-5zM14 30h2v1h-2zM17 30h4v1h-4zM36 30h5v1h-5zM45 30h5v1h-5zM54 30h4v1h-4zM67 30h2v1h-2zM2 31h2v1h-2zM16 31h4v1h-4zM22 31h1v1h-1zM37 31h1v1h-1zM40 31h3v1h-3zM45 31h3v1h-3zM53 31h5v1h-5zM66 31h3v1h-3zM16 32h4v1h-4zM22 32h1v1h-1zM37 32h11v1h-11zM52 32h6v1h-6zM65 32h5v1h-5zM6 33h1v1h-1zM10 33h2v1h-2zM16 33h5v1h-5zM28 33h3v1h-3zM36 33h11v1h-11zM52 33h7v1h-7zM66 33h4v1h-4zM2 34h2v1h-2zM10 34h2v1h-2zM14 34h5v1h-5zM21 34h2v1h-2zM28 34h5v1h-5zM36 34h5v1h-5zM43 34h3v1h-3zM51 34h9v1h-9zM66 34h3v1h-3zM15 35h6v1h-6zM22 35h1v1h-1zM28 35h5v1h-5zM35 35h5v1h-5zM43 35h3v1h-3zM52 35h7v1h-7zM66 35h2v1h-2zM4 36h1v1h-1zM18 36h4v1h-4zM28 36h1v1h-1zM30 36h3v1h-3zM35 36h4v1h-4zM43 36h2v1h-2zM52 36h6v1h-6zM66 36h2v1h-2zM1 37h3v1h-3zM16 37h1v1h-1zM18 37h4v1h-4zM29 37h7v1h-7zM40 37h1v1h-1zM52 37h4v1h-4zM65 37h3v1h-3zM1 38h3v1h-3zM11 38h2v1h-2zM16 38h1v1h-1zM18 38h4v1h-4zM29 38h2v1h-2zM36 38h2v1h-2zM39 38h2v1h-2zM54 38h3v1h-3zM64 38h4v1h-4zM7 39h1v1h-1zM11 39h6v1h-6zM20 39h2v1h-2zM24 39h1v1h-1zM36 39h2v1h-2zM51 39h1v1h-1zM54 39h1v1h-1zM63 39h5v1h-5zM7 40h7v1h-7zM16 40h1v1h-1zM24 40h1v1h-1zM36 40h2v1h-2zM51 40h1v1h-1zM63 40h5v1h-5zM7 41h8v1h-8zM37 41h1v1h-1zM52 41h1v1h-1zM63 41h5v1h-5zM7 42h3v1h-3zM12 42h4v1h-4zM29 42h1v1h-1zM31 42h2v1h-2zM37 42h1v1h-1zM48 42h1v1h-1zM51 42h2v1h-2zM67 42h2v1h-2zM5 43h6v1h-6zM12 43h4v1h-4zM18 43h2v1h-2zM29 43h4v1h-4zM47 43h3v1h-3zM51 43h2v1h-2zM58 43h4v1h-4zM68 43h2v1h-2zM5 44h11v1h-11zM18 44h3v1h-3zM23 44h2v1h-2zM28 44h6v1h-6zM38 44h2v1h-2zM47 44h3v1h-3zM57 44h7v1h-7zM68 44h2v1h-2zM4 45h8v1h-8zM13 45h3v1h-3zM19 45h2v1h-2zM24 45h9v1h-9zM48 45h1v1h-1zM58 45h6v1h-6zM69 45h1v1h-1zM1 46h1v1h-1zM4 46h2v1h-2zM7 46h1v1h-1zM10 46h1v1h-1zM19 46h3v1h-3zM25 46h8v1h-8zM42 46h4v1h-4zM50 46h1v1h-1zM59 46h5v1h-5zM69 46h1v1h-1zM1 47h1v1h-1zM5 47h1v1h-1zM19 47h1v1h-1zM25 47h5v1h-5zM42 47h5v1h-5zM60 47h1v1h-1zM62 47h2v1h-2zM10 48h1v1h-1zM12 48h2v1h-2zM15 48h1v1h-1zM19 48h1v1h-1zM26 48h4v1h-4zM36 48h1v1h-1zM43 48h5v1h-5zM9 49h1v1h-1zM11 49h5v1h-5zM45 49h3v1h-3zM3 50h1v1h-1zM12 50h4v1h-4zM38 50h2v1h-2zM44 50h6v1h-6zM54 50h1v1h-1zM61 50h1v1h-1zM3 51h4v1h-4zM12 51h3v1h-3zM20 51h1v1h-1zM22 51h1v1h-1zM29 51h1v1h-1zM38 51h2v1h-2zM43 51h3v1h-3zM48 51h6v1h-6zM61 51h2v1h-2zM67 51h3v1h-3z" fill="#a865dc"/>
<path d="M11 0h1v1h-1zM15 0h3v1h-3zM22 0h7v1h-7zM37 0h2v1h-2zM40 0h1v1h-1zM66 0h3v1h-3zM7 1h1v1h-1zM14 1h4v1h-4zM22 1h6v1h-6zM37 1h2v1h-2zM40 1h2v1h-2zM45 1h1v1h-1zM49 1h1v1h-1zM66 1h3v1h-3zM6 2h3v1h-3zM14 2h1v1h-1zM16 2h2v1h-2zM23 2h2v1h-2zM40 2h2v1h-2zM48 2h3v1h-3zM66 2h3v1h-3zM1 3h1v1h-1zM5 3h4v1h-4zM23 3h1v1h-1zM43 3h1v1h-1zM49 3h2v1h-2zM66 3h4v1h-4zM3 4h1v1h-1zM5 4h5v1h-5zM21 4h3v1h-3zM30 4h1v1h-1zM43 4h1v1h-1zM51 4h2v1h-2zM63 4h1v1h-1zM66 4h4v1h-4zM0 5h1v1h-1zM5 5h5v1h-5zM21 5h2v1h-2zM30 5h2v1h-2zM52 5h1v1h-1zM63 5h7v1h-7zM1 6h2v1h-2zM7 6h2v1h-2zM21 6h1v1h-1zM54 6h1v1h-1zM63 6h6v1h-6zM2 7h2v1h-2zM9 7h1v1h-1zM19 7h3v1h-3zM53 7h2v1h-2zM65 7h2v1h-2zM5 8h1v1h-1zM19 8h3v1h-3zM35 8h1v1h-1zM47 8h2v1h-2zM53 8h2v1h-2zM4 9h3v1h-3zM19 9h3v1h-3zM35 9h1v1h-1zM52 9h3v1h-3zM66 9h1v1h-1zM68 9h2v1h-2zM3 10h4v1h-4zM16 10h2v1h-2zM19 10h1v1h-1zM27 10h3v1h-3zM34 10h6v1h-6zM52 10h5v1h-5zM68 10h2v1h-2zM0 11h1v1h-1zM3 11h3v1h-3zM15 11h4v1h-4zM28 11h2v1h-2zM33 11h7v1h-7zM53 11h5v1h-5zM67 11h3v1h-3zM3 12h1v1h-1zM15 12h3v1h-3zM29 12h1v1h-1zM33 12h7v1h-7zM53 12h4v1h-4zM29 13h1v1h-1zM34 13h5v1h-5zM53 13h3v1h-3zM64 13h1v1h-1zM23 14h1v1h-1zM53 14h5v1h-5zM22 15h2v1h-2zM29 15h2v1h-2zM55 15h3v1h-3zM18 16h1v1h-1zM21 16h3v1h-3zM30 16h1v1h-1zM39 16h1v1h-1zM48 16h1v1h-1zM55 16h3v1h-3zM6 17h1v1h-1zM17 17h7v1h-7zM39 17h1v1h-1zM46 17h4v1h-4zM56 17h2v1h-2zM15 18h5v1h-5zM22 18h3v1h-3zM37 18h2v1h-2zM43 18h1v1h-1zM46 18h4v1h-4zM58 18h5v1h-5zM16 19h4v1h-4zM37 19h2v1h-2zM41 19h4v1h-4zM46 19h4v1h-4zM58 19h5v1h-5zM9 20h2v1h-2zM18 20h1v1h-1zM41 20h4v1h-4zM47 20h3v1h-3zM59 20h4v1h-4zM9 21h2v1h-2zM52 21h2v1h-2zM9 22h2v1h-2zM16 22h1v1h-1zM64 22h1v1h-1zM31 23h1v1h-1zM64 23h1v1h-1zM67 23h1v1h-1zM5 24h2v1h-2zM17 24h1v1h-1zM31 24h2v1h-2zM66 24h4v1h-4zM4 25h4v1h-4zM11 25h2v1h-2zM15 25h4v1h-4zM31 25h1v1h-1zM39 25h2v1h-2zM51 25h2v1h-2zM65 25h5v1h-5zM5 26h2v1h-2zM11 26h2v1h-2zM16 26h5v1h-5zM39 26h3v1h-3zM51 26h2v1h-2zM66 26h4v1h-4zM1 27h1v1h-1zM11 27h1v1h-1zM16 27h5v1h-5zM39 27h2v1h-2zM48 27h9v1h-9zM66 27h4v1h-4zM0 28h3v1h-3zM16 28h4v1h-4zM34 28h6v1h-6zM45 28h13v1h-13zM69 28h1v1h-1zM2 29h2v1h-2zM17 29h3v1h-3zM35 29h6v1h-6zM45 29h6v1h-6zM52 29h6v1h-6zM2 30h2v1h-2zM17 30h3v1h-3zM37 30h3v1h-3zM46 30h2v1h-2zM54 30h4v1h-4zM3 31h1v1h-1zM17 31h2v1h-2zM40 31h2v1h-2zM46 31h1v1h-1zM54 31h4v1h-4zM66 31h3v1h-3zM16 32h4v1h-4zM37 32h6v1h-6zM45 32h2v1h-2zM53 32h5v1h-5zM66 32h4v1h-4zM16 33h4v1h-4zM29 33h1v1h-1zM36 33h7v1h-7zM44 33h1v1h-1zM52 33h7v1h-7zM66 33h4v1h-4zM15 34h4v1h-4zM28 34h4v1h-4zM36 34h5v1h-5zM44 34h2v1h-2zM52 34h7v1h-7zM66 34h3v1h-3zM15 35h4v1h-4zM28 35h1v1h-1zM30 35h3v1h-3zM36 35h4v1h-4zM43 35h3v1h-3zM52 35h7v1h-7zM66 35h2v1h-2zM20 36h1v1h-1zM28 36h1v1h-1zM30 36h3v1h-3zM37 36h2v1h-2zM44 36h1v1h-1zM53 36h4v1h-4zM2 37h2v1h-2zM19 37h3v1h-3zM30 37h3v1h-3zM34 37h2v1h-2zM40 37h1v1h-1zM53 37h3v1h-3zM65 37h2v1h-2zM1 38h3v1h-3zM11 38h2v1h-2zM16 38h1v1h-1zM19 38h3v1h-3zM54 38h2v1h-2zM64 38h3v1h-3zM11 39h4v1h-4zM16 39h1v1h-1zM20 39h1v1h-1zM37 39h1v1h-1zM63 39h5v1h-5zM9 40h5v1h-5zM37 40h1v1h-1zM63 40h5v1h-5zM8 41h2v1h-2zM11 41h4v1h-4zM37 41h1v1h-1zM7 42h3v1h-3zM12 42h3v1h-3zM32 42h1v1h-1zM48 42h1v1h-1zM52 42h1v1h-1zM6 43h3v1h-3zM10 43h1v1h-1zM12 43h4v1h-4zM29 43h4v1h-4zM47 43h2v1h-2zM59 43h3v1h-3zM68 43h2v1h-2zM5 44h3v1h-3zM10 44h6v1h-6zM18 44h2v1h-2zM28 44h5v1h-5zM47 44h2v1h-2zM58 44h5v1h-5zM68 44h2v1h-2zM5 45h3v1h-3zM10 45h2v1h-2zM13 45h3v1h-3zM19 45h1v1h-1zM26 45h7v1h-7zM59 45h5v1h-5zM69 45h1v1h-1zM5 46h1v1h-1zM19 46h1v1h-1zM25 46h5v1h-5zM43 46h2v1h-2zM59 46h5v1h-5zM19 47h1v1h-1zM25 47h5v1h-5zM42 47h5v1h-5zM27 48h2v1h-2zM44 48h4v1h-4zM12 49h4v1h-4zM45 49h2v1h-2zM12 50h3v1h-3zM45 50h2v1h-2zM48 50h2v1h-2zM61 50h1v1h-1zM5 51h2v1h-2zM13 51h1v1h-1zM44 51h1v1h-1zM48 51h2v1h-2zM52 51h1v1h-1zM61 51h2v1h-2zM67 51h1v1h-1z" fill="#8a36d0"/>
<path d="M26 0h1v1h-1zM67 1h2v1h-2zM67 2h1v1h-1zM6 3h3v1h-3zM6 4h3v1h-3zM67 4h2v1h-2zM6 5h3v1h-3zM19 8h2v1h-2zM69 9h1v1h-1zM35 10h3v1h-3zM68 10h2v1h-2zM34 11h5v1h-5zM68 11h2v1h-2zM34 12h3v1h-3zM56 15h1v1h-1zM47 17h1v1h-1zM46 18h3v1h-3zM47 19h2v1h-2zM61 19h1v1h-1zM67 24h2v1h-2zM5 25h2v1h-2zM66 25h4v1h-4zM67 26h3v1h-3zM68 27h2v1h-2zM53 28h4v1h-4zM56 29h2v1h-2zM18 32h1v1h-1zM67 32h1v1h-1zM38 33h2v1h-2zM66 33h3v1h-3zM16 34h1v1h-1zM37 34h3v1h-3zM67 34h1v1h-1zM37 35h2v1h-2zM53 35h4v1h-4zM53 36h3v1h-3zM53 37h2v1h-2zM20 38h1v1h-1zM65 38h1v1h-1zM12 39h1v1h-1zM65 39h2v1h-2zM12 40h1v1h-1zM12 41h1v1h-1zM13 43h1v1h-1zM13 44h2v1h-2zM30 44h2v1h-2zM59 44h3v1h-3zM28 45h3v1h-3zM60 45h2v1h-2zM27 46h2v1h-2zM26 47h3v1h-3zM13 50h1v1h-1z" fill="#7228b6"/>
</g>
<g transform="translate(176 588.7)" filter="url(#imblur)">
<rect width="70" height="52" fill="#f8f1f8"/>
<path d="M2 0h1v1h-1zM12 0h2v1h-2zM19 0h4v1h-4zM25 0h6v1h-6zM34 0h5v1h-5zM44 0h1v1h-1zM49 0h3v1h-3zM57 0h3v1h-3zM62 0h5v1h-5zM0 1h3v1h-3zM12 1h1v1h-1zM20 1h2v1h-2zM25 1h4v1h-4zM37 1h3v1h-3zM49 1h3v1h-3zM57 1h2v1h-2zM61 1h6v1h-6zM0 2h2v1h-2zM4 2h1v1h-1zM6 2h1v1h-1zM9 2h4v1h-4zM16 2h1v1h-1zM19 2h1v1h-1zM21 2h1v1h-1zM25 2h3v1h-3zM37 2h3v1h-3zM50 2h1v1h-1zM61 2h6v1h-6zM0 3h1v1h-1zM9 3h2v1h-2zM17 3h1v1h-1zM26 3h2v1h-2zM36 3h4v1h-4zM62 3h4v1h-4zM16 4h4v1h-4zM24 4h2v1h-2zM27 4h3v1h-3zM37 4h1v1h-1zM47 4h1v1h-1zM50 4h1v1h-1zM62 4h4v1h-4zM4 5h1v1h-1zM16 5h2v1h-2zM24 5h1v1h-1zM42 5h1v1h-1zM47 5h2v1h-2zM50 5h1v1h-1zM59 5h1v1h-1zM63 5h2v1h-2zM4 6h2v1h-2zM16 6h1v1h-1zM45 6h1v1h-1zM48 6h4v1h-4zM58 6h1v1h-1zM1 7h3v1h-3zM8 7h1v1h-1zM30 7h2v1h-2zM40 7h1v1h-1zM48 7h4v1h-4zM2 8h2v1h-2zM15 8h1v1h-1zM20 8h1v1h-1zM29 8h3v1h-3zM40 8h1v1h-1zM48 8h4v1h-4zM59 8h1v1h-1zM64 8h3v1h-3zM2 9h2v1h-2zM9 9h2v1h-2zM14 9h2v1h-2zM20 9h3v1h-3zM28 9h4v1h-4zM40 9h1v1h-1zM49 9h2v1h-2zM56 9h1v1h-1zM62 9h6v1h-6zM0 10h1v1h-1zM5 10h2v1h-2zM10 10h1v1h-1zM18 10h5v1h-5zM28 10h4v1h-4zM36 10h2v1h-2zM40 10h2v1h-2zM55 10h3v1h-3zM64 10h3v1h-3zM3 11h1v1h-1zM5 11h3v1h-3zM15 11h1v1h-1zM17 11h6v1h-6zM28 11h3v1h-3zM36 11h2v1h-2zM41 11h1v1h-1zM55 11h3v1h-3zM64 11h5v1h-5zM5 12h3v1h-3zM10 12h1v1h-1zM14 12h6v1h-6zM22 12h1v1h-1zM28 12h2v1h-2zM32 12h2v1h-2zM40 12h2v1h-2zM55 12h4v1h-4zM62 12h5v1h-5zM0 13h1v1h-1zM6 13h1v1h-1zM9 13h2v1h-2zM16 13h4v1h-4zM23 13h1v1h-1zM33 13h1v1h-1zM40 13h2v1h-2zM52 13h2v1h-2zM55 13h4v1h-4zM64 13h3v1h-3zM0 14h2v1h-2zM7 14h3v1h-3zM16 14h4v1h-4zM41 14h1v1h-1zM51 14h3v1h-3zM56 14h3v1h-3zM0 15h2v1h-2zM7 15h3v1h-3zM15 15h5v1h-5zM38 15h1v1h-1zM50 15h2v1h-2zM57 15h1v1h-1zM0 16h2v1h-2zM4 16h1v1h-1zM7 16h3v1h-3zM16 16h3v1h-3zM23 16h2v1h-2zM50 16h1v1h-1zM62 16h1v1h-1zM0 17h1v1h-1zM4 17h2v1h-2zM7 17h3v1h-3zM17 17h2v1h-2zM27 17h2v1h-2zM31 17h2v1h-2zM40 17h1v1h-1zM42 17h1v1h-1zM49 17h2v1h-2zM58 17h1v1h-1zM62 17h2v1h-2zM3 18h9v1h-9zM16 18h1v1h-1zM18 18h2v1h-2zM28 18h1v1h-1zM32 18h1v1h-1zM40 18h4v1h-4zM48 18h4v1h-4zM58 18h1v1h-1zM68 18h1v1h-1zM3 19h3v1h-3zM8 19h2v1h-2zM16 19h5v1h-5zM24 19h3v1h-3zM28 19h1v1h-1zM41 19h3v1h-3zM47 19h6v1h-6zM67 19h2v1h-2zM0 20h5v1h-5zM17 20h2v1h-2zM25 20h2v1h-2zM45 20h6v1h-6zM52 20h1v1h-1zM56 20h1v1h-1zM69 20h1v1h-1zM0 21h9v1h-9zM17 21h2v1h-2zM25 21h2v1h-2zM31 21h2v1h-2zM45 21h1v1h-1zM49 21h5v1h-5zM69 21h1v1h-1zM2 22h3v1h-3zM7 22h3v1h-3zM16 22h1v1h-1zM21 22h1v1h-1zM25 22h1v1h-1zM32 22h1v1h-1zM50 22h1v1h-1zM69 22h1v1h-1zM7 23h3v1h-3zM15 23h2v1h-2zM21 23h1v1h-1zM32 23h5v1h-5zM40 23h2v1h-2zM50 23h2v1h-2zM7 24h3v1h-3zM15 24h2v1h-2zM19 24h3v1h-3zM35 24h2v1h-2zM49 24h3v1h-3zM56 24h3v1h-3zM4 25h3v1h-3zM9 25h1v1h-1zM21 25h2v1h-2zM29 25h1v1h-1zM36 25h1v1h-1zM48 25h6v1h-6zM56 25h4v1h-4zM4 26h1v1h-1zM6 26h2v1h-2zM27 26h3v1h-3zM38 26h1v1h-1zM47 26h8v1h-8zM56 26h1v1h-1zM58 26h1v1h-1zM2 27h1v1h-1zM6 27h2v1h-2zM12 27h1v1h-1zM24 27h7v1h-7zM42 27h3v1h-3zM48 27h4v1h-4zM53 27h3v1h-3zM63 27h1v1h-1zM66 27h1v1h-1zM27 28h5v1h-5zM36 28h1v1h-1zM51 28h1v1h-1zM54 28h2v1h-2zM63 28h1v1h-1zM66 28h1v1h-1zM12 29h2v1h-2zM15 29h1v1h-1zM28 29h1v1h-1zM35 29h3v1h-3zM51 29h1v1h-1zM55 29h1v1h-1zM62 29h1v1h-1zM13 30h3v1h-3zM19 30h2v1h-2zM27 30h2v1h-2zM34 30h2v1h-2zM51 30h1v1h-1zM62 30h1v1h-1zM24 31h2v1h-2zM27 31h1v1h-1zM12 32h1v1h-1zM24 32h1v1h-1zM31 32h1v1h-1zM33 32h1v1h-1zM53 32h1v1h-1zM69 32h1v1h-1zM13 33h2v1h-2zM18 33h3v1h-3zM24 33h1v1h-1zM28 33h1v1h-1zM31 33h4v1h-4zM53 33h2v1h-2zM62 33h2v1h-2zM69 33h1v1h-1zM14 34h2v1h-2zM19 34h3v1h-3zM27 34h3v1h-3zM31 34h1v1h-1zM34 34h1v1h-1zM42 34h1v1h-1zM51 34h1v1h-1zM54 34h1v1h-1zM61 34h3v1h-3zM68 34h2v1h-2zM7 35h1v1h-1zM14 35h3v1h-3zM19 35h2v1h-2zM27 35h4v1h-4zM33 35h1v1h-1zM51 35h1v1h-1zM53 35h1v1h-1zM57 35h2v1h-2zM60 35h2v1h-2zM63 35h1v1h-1zM68 35h2v1h-2zM1 36h2v1h-2zM7 36h1v1h-1zM14 36h6v1h-6zM51 36h1v1h-1zM55 36h6v1h-6zM69 36h1v1h-1zM5 37h3v1h-3zM21 37h3v1h-3zM25 37h3v1h-3zM45 37h1v1h-1zM55 37h5v1h-5zM5 38h3v1h-3zM19 38h10v1h-10zM43 38h1v1h-1zM45 38h1v1h-1zM49 38h2v1h-2zM55 38h3v1h-3zM0 39h3v1h-3zM14 39h1v1h-1zM17 39h2v1h-2zM21 39h3v1h-3zM25 39h4v1h-4zM32 39h1v1h-1zM35 39h1v1h-1zM46 39h6v1h-6zM0 40h2v1h-2zM14 40h3v1h-3zM26 40h1v1h-1zM28 40h1v1h-1zM31 40h3v1h-3zM47 40h5v1h-5zM65 40h2v1h-2zM1 41h2v1h-2zM21 41h1v1h-1zM28 41h1v1h-1zM31 41h1v1h-1zM51 41h2v1h-2zM63 41h5v1h-5zM1 42h2v1h-2zM7 42h2v1h-2zM10 42h1v1h-1zM21 42h2v1h-2zM25 42h2v1h-2zM52 42h7v1h-7zM63 42h5v1h-5zM69 42h1v1h-1zM1 43h1v1h-1zM7 43h4v1h-4zM21 43h2v1h-2zM26 43h3v1h-3zM47 43h1v1h-1zM54 43h4v1h-4zM60 43h2v1h-2zM69 43h1v1h-1zM1 44h1v1h-1zM3 44h5v1h-5zM22 44h1v1h-1zM27 44h1v1h-1zM31 44h1v1h-1zM34 44h3v1h-3zM39 44h1v1h-1zM57 44h1v1h-1zM61 44h2v1h-2zM69 44h1v1h-1zM7 45h1v1h-1zM27 45h1v1h-1zM33 45h3v1h-3zM37 45h1v1h-1zM42 45h1v1h-1zM66 45h3v1h-3zM0 46h1v1h-1zM32 46h3v1h-3zM37 46h1v1h-1zM42 46h1v1h-1zM64 46h2v1h-2zM0 47h1v1h-1zM9 47h1v1h-1zM12 47h1v1h-1zM16 47h2v1h-2zM21 47h1v1h-1zM32 47h6v1h-6zM44 47h1v1h-1zM49 47h1v1h-1zM51 47h1v1h-1zM54 47h1v1h-1zM64 47h2v1h-2zM0 48h1v1h-1zM8 48h2v1h-2zM32 48h1v1h-1zM35 48h3v1h-3zM41 48h1v1h-1zM49 48h1v1h-1zM53 48h2v1h-2zM0 49h1v1h-1zM8 49h3v1h-3zM12 49h1v1h-1zM18 49h1v1h-1zM22 49h1v1h-1zM30 49h1v1h-1zM35 49h7v1h-7zM69 49h1v1h-1zM0 50h1v1h-1zM4 50h1v1h-1zM7 50h3v1h-3zM22 50h1v1h-1zM35 50h2v1h-2zM38 50h4v1h-4zM59 50h1v1h-1zM69 50h1v1h-1zM0 51h1v1h-1zM3 51h1v1h-1zM6 51h3v1h-3zM27 51h1v1h-1zM31 51h4v1h-4zM36 51h2v1h-2zM39 51h3v1h-3zM59 51h1v1h-1zM69 51h1v1h-1z" fill="#dccaf0"/>
<path d="M21 0h2v1h-2zM28 0h1v1h-1zM37 0h2v1h-2zM49 0h3v1h-3zM58 0h2v1h-2zM62 0h5v1h-5zM25 1h2v1h-2zM37 1h3v1h-3zM50 1h1v1h-1zM62 1h5v1h-5zM0 2h1v1h-1zM26 2h1v1h-1zM38 2h2v1h-2zM62 2h5v1h-5zM27 3h1v1h-1zM37 3h2v1h-2zM62 3h4v1h-4zM24 4h1v1h-1zM63 4h3v1h-3zM4 5h1v1h-1zM64 5h1v1h-1zM49 6h2v1h-2zM30 7h1v1h-1zM49 7h3v1h-3zM2 8h2v1h-2zM40 8h1v1h-1zM49 8h3v1h-3zM64 8h3v1h-3zM15 9h1v1h-1zM20 9h3v1h-3zM28 9h3v1h-3zM50 9h1v1h-1zM56 9h1v1h-1zM64 9h3v1h-3zM6 10h1v1h-1zM19 10h4v1h-4zM28 10h3v1h-3zM37 10h1v1h-1zM41 10h1v1h-1zM56 10h1v1h-1zM64 10h3v1h-3zM5 11h3v1h-3zM18 11h5v1h-5zM28 11h3v1h-3zM56 11h2v1h-2zM64 11h3v1h-3zM6 12h2v1h-2zM15 12h3v1h-3zM19 12h1v1h-1zM56 12h3v1h-3zM64 12h3v1h-3zM16 13h4v1h-4zM40 13h2v1h-2zM56 13h3v1h-3zM64 13h2v1h-2zM0 14h2v1h-2zM8 14h1v1h-1zM16 14h3v1h-3zM51 14h2v1h-2zM56 14h3v1h-3zM0 15h2v1h-2zM7 15h3v1h-3zM16 15h3v1h-3zM51 15h1v1h-1zM57 15h1v1h-1zM0 16h2v1h-2zM8 16h1v1h-1zM16 16h3v1h-3zM5 17h1v1h-1zM7 17h3v1h-3zM17 17h1v1h-1zM27 17h2v1h-2zM5 18h1v1h-1zM7 18h4v1h-4zM19 18h1v1h-1zM32 18h1v1h-1zM41 18h2v1h-2zM48 18h3v1h-3zM3 19h1v1h-1zM8 19h2v1h-2zM16 19h1v1h-1zM18 19h1v1h-1zM26 19h1v1h-1zM42 19h1v1h-1zM48 19h3v1h-3zM0 20h5v1h-5zM17 20h1v1h-1zM48 20h3v1h-3zM0 21h1v1h-1zM2 21h3v1h-3zM69 21h1v1h-1zM2 22h3v1h-3zM7 22h3v1h-3zM32 22h1v1h-1zM7 23h3v1h-3zM32 23h2v1h-2zM35 23h2v1h-2zM8 24h1v1h-1zM21 24h1v1h-1zM35 24h2v1h-2zM57 24h1v1h-1zM29 25h1v1h-1zM48 25h3v1h-3zM56 25h3v1h-3zM27 26h3v1h-3zM48 26h4v1h-4zM27 27h3v1h-3zM48 27h3v1h-3zM54 27h2v1h-2zM27 28h3v1h-3zM28 29h1v1h-1zM13 30h1v1h-1zM19 33h1v1h-1zM34 33h1v1h-1zM69 33h1v1h-1zM14 34h2v1h-2zM19 34h2v1h-2zM28 34h1v1h-1zM69 34h1v1h-1zM7 35h1v1h-1zM14 35h3v1h-3zM19 35h1v1h-1zM28 35h1v1h-1zM51 35h1v1h-1zM69 35h1v1h-1zM15 36h2v1h-2zM55 36h4v1h-4zM22 37h2v1h-2zM26 37h1v1h-1zM55 37h3v1h-3zM21 38h3v1h-3zM25 38h3v1h-3zM55 38h2v1h-2zM0 39h1v1h-1zM17 39h2v1h-2zM25 39h3v1h-3zM0 40h2v1h-2zM32 40h1v1h-1zM65 40h2v1h-2zM65 41h3v1h-3zM21 42h1v1h-1zM56 42h3v1h-3zM65 42h2v1h-2zM56 43h2v1h-2zM6 44h2v1h-2zM35 44h1v1h-1zM34 45h2v1h-2zM32 46h2v1h-2zM65 46h1v1h-1zM33 47h2v1h-2zM64 47h1v1h-1zM35 48h3v1h-3zM35 49h2v1h-2zM0 50h1v1h-1zM39 50h2v1h-2zM69 50h1v1h-1zM0 51h1v1h-1zM7 51h1v1h-1zM32 51h1v1h-1zM40 51h1v1h-1z" fill="#a865dc"/>
<path d="M21 0h2v1h-2zM28 0h1v1h-1zM37 0h2v1h-2zM50 0h1v1h-1zM58 0h1v1h-1zM63 0h4v1h-4zM25 1h2v1h-2zM38 1h1v1h-1zM50 1h1v1h-1zM62 1h5v1h-5zM38 2h1v1h-1zM62 2h5v1h-5zM62 3h4v1h-4zM63 4h2v1h-2zM49 6h2v1h-2zM49 7h3v1h-3zM2 8h1v1h-1zM49 8h3v1h-3zM65 8h1v1h-1zM20 9h2v1h-2zM29 9h1v1h-1zM64 9h3v1h-3zM6 10h1v1h-1zM20 10h3v1h-3zM28 10h3v1h-3zM64 10h3v1h-3zM5 11h3v1h-3zM18 11h1v1h-1zM20 11h3v1h-3zM29 11h2v1h-2zM64 11h3v1h-3zM6 12h1v1h-1zM15 12h1v1h-1zM56 12h3v1h-3zM64 12h3v1h-3zM17 13h2v1h-2zM40 13h2v1h-2zM56 13h3v1h-3zM65 13h1v1h-1zM0 14h1v1h-1zM16 14h3v1h-3zM51 14h2v1h-2zM56 14h3v1h-3zM0 15h2v1h-2zM8 15h2v1h-2zM16 15h3v1h-3zM0 16h1v1h-1zM8 16h1v1h-1zM16 16h3v1h-3zM8 17h1v1h-1zM7 18h3v1h-3zM42 18h1v1h-1zM49 18h2v1h-2zM8 19h2v1h-2zM48 19h3v1h-3zM2 20h2v1h-2zM48 20h2v1h-2zM2 21h3v1h-3zM3 22h2v1h-2zM7 22h2v1h-2zM7 23h3v1h-3zM8 24h1v1h-1zM49 25h1v1h-1zM28 26h2v1h-2zM48 26h4v1h-4zM27 27h3v1h-3zM49 27h2v1h-2zM27 28h3v1h-3zM14 34h2v1h-2zM19 34h1v1h-1zM14 35h3v1h-3zM19 35h1v1h-1zM15 36h1v1h-1zM56 36h1v1h-1zM23 37h1v1h-1zM26 37h1v1h-1zM55 37h3v1h-3zM22 38h2v1h-2zM25 38h3v1h-3zM56 38h1v1h-1zM26 39h2v1h-2zM65 41h3v1h-3zM65 42h2v1h-2zM0 50h1v1h-1zM39 50h2v1h-2zM69 50h1v1h-1zM0 51h1v1h-1zM40 51h1v1h-1z" fill="#8a36d0"/>
<path d="M65 0h1v1h-1zM62 1h5v1h-5zM62 2h4v1h-4zM62 3h3v1h-3zM50 7h1v1h-1zM65 9h1v1h-1zM20 10h2v1h-2zM29 10h2v1h-2zM65 10h1v1h-1zM6 11h1v1h-1zM21 11h1v1h-1zM65 11h1v1h-1zM57 12h1v1h-1zM65 12h1v1h-1zM56 13h3v1h-3zM16 14h3v1h-3zM57 14h1v1h-1zM0 15h1v1h-1zM16 15h3v1h-3zM0 16h1v1h-1zM17 16h2v1h-2zM8 18h1v1h-1zM49 18h1v1h-1zM49 19h1v1h-1zM3 21h1v1h-1zM8 23h1v1h-1zM48 26h3v1h-3zM28 27h1v1h-1zM28 28h1v1h-1zM15 35h1v1h-1zM56 37h1v1h-1zM26 38h1v1h-1zM26 39h1v1h-1zM66 41h1v1h-1z" fill="#7228b6"/>
</g>
<g transform="translate(250.9 588.7)" filter="url(#imblur)">
<rect width="70" height="52" fill="#f8f1f8"/>
<path d="M0 0h52v1h-52zM57 0h13v1h-13zM0 1h36v1h-36zM37 1h16v1h-16zM54 1h16v1h-16zM0 2h3v1h-3zM4 2h43v1h-43zM50 2h3v1h-3zM54 2h11v1h-11zM66 2h4v1h-4zM0 3h2v1h-2zM3 3h37v1h-37zM41 3h11v1h-11zM54 3h13v1h-13zM68 3h2v1h-2zM0 4h4v1h-4zM5 4h14v1h-14zM20 4h9v1h-9zM30 4h9v1h-9zM41 4h29v1h-29zM0 5h5v1h-5zM7 5h2v1h-2zM10 5h7v1h-7zM18 5h4v1h-4zM24 5h38v1h-38zM63 5h7v1h-7zM0 6h6v1h-6zM7 6h21v1h-21zM30 6h10v1h-10zM41 6h17v1h-17zM59 6h1v1h-1zM61 6h9v1h-9zM0 7h28v1h-28zM30 7h8v1h-8zM39 7h16v1h-16zM56 7h1v1h-1zM58 7h9v1h-9zM69 7h1v1h-1zM0 8h24v1h-24zM25 8h31v1h-31zM57 8h11v1h-11zM69 8h1v1h-1zM0 9h30v1h-30zM31 9h1v1h-1zM33 9h7v1h-7zM41 9h4v1h-4zM46 9h6v1h-6zM53 9h14v1h-14zM68 9h2v1h-2zM0 10h32v1h-32zM33 10h1v1h-1zM35 10h35v1h-35zM0 11h32v1h-32zM34 11h36v1h-36zM0 12h24v1h-24zM25 12h8v1h-8zM34 12h36v1h-36zM0 13h8v1h-8zM9 13h24v1h-24zM34 13h36v1h-36zM0 14h5v1h-5zM6 14h2v1h-2zM9 14h47v1h-47zM58 14h7v1h-7zM67 14h3v1h-3zM0 15h1v1h-1zM2 15h1v1h-1zM6 15h30v1h-30zM37 15h3v1h-3zM41 15h16v1h-16zM59 15h6v1h-6zM66 15h1v1h-1zM68 15h2v1h-2zM0 16h1v1h-1zM2 16h9v1h-9zM12 16h20v1h-20zM33 16h7v1h-7zM41 16h8v1h-8zM50 16h6v1h-6zM57 16h2v1h-2zM61 16h3v1h-3zM66 16h1v1h-1zM68 16h2v1h-2zM0 17h1v1h-1zM3 17h9v1h-9zM13 17h19v1h-19zM33 17h10v1h-10zM44 17h12v1h-12zM57 17h10v1h-10zM68 17h2v1h-2zM0 18h1v1h-1zM2 18h7v1h-7zM10 18h5v1h-5zM16 18h26v1h-26zM43 18h27v1h-27zM0 19h9v1h-9zM10 19h5v1h-5zM16 19h15v1h-15zM32 19h24v1h-24zM57 19h7v1h-7zM67 19h3v1h-3zM0 20h11v1h-11zM12 20h48v1h-48zM61 20h5v1h-5zM67 20h3v1h-3zM0 21h11v1h-11zM12 21h20v1h-20zM33 21h19v1h-19zM53 21h2v1h-2zM56 21h8v1h-8zM65 21h5v1h-5zM0 22h33v1h-33zM34 22h17v1h-17zM53 22h2v1h-2zM57 22h12v1h-12zM0 23h21v1h-21zM22 23h23v1h-23zM46 23h3v1h-3zM51 23h6v1h-6zM58 23h12v1h-12zM0 24h13v1h-13zM14 24h10v1h-10zM26 24h40v1h-40zM68 24h2v1h-2zM0 25h21v1h-21zM23 25h45v1h-45zM69 25h1v1h-1zM0 26h13v1h-13zM14 26h9v1h-9zM24 26h2v1h-2zM27 26h23v1h-23zM51 26h10v1h-10zM62 26h4v1h-4zM67 26h3v1h-3zM0 27h13v1h-13zM14 27h9v1h-9zM24 27h2v1h-2zM27 27h21v1h-21zM49 27h1v1h-1zM51 27h8v1h-8zM61 27h5v1h-5zM67 27h3v1h-3zM0 28h14v1h-14zM15 28h7v1h-7zM24 28h2v1h-2zM27 28h2v1h-2zM31 28h9v1h-9zM41 28h18v1h-18zM60 28h8v1h-8zM0 29h4v1h-4zM5 29h17v1h-17zM23 29h17v1h-17zM41 29h16v1h-16zM60 29h10v1h-10zM0 30h6v1h-6zM7 30h34v1h-34zM43 30h16v1h-16zM60 30h6v1h-6zM68 30h2v1h-2zM0 31h6v1h-6zM7 31h22v1h-22zM30 31h10v1h-10zM42 31h28v1h-28zM0 32h45v1h-45zM46 32h9v1h-9zM56 32h14v1h-14zM0 33h22v1h-22zM23 33h18v1h-18zM42 33h4v1h-4zM47 33h3v1h-3zM51 33h19v1h-19zM0 34h20v1h-20zM21 34h20v1h-20zM44 34h5v1h-5zM50 34h20v1h-20zM0 35h6v1h-6zM7 35h24v1h-24zM32 35h9v1h-9zM42 35h8v1h-8zM51 35h5v1h-5zM57 35h7v1h-7zM65 35h5v1h-5zM0 36h5v1h-5zM7 36h6v1h-6zM14 36h5v1h-5zM22 36h9v1h-9zM32 36h1v1h-1zM35 36h5v1h-5zM42 36h19v1h-19zM67 36h3v1h-3zM0 37h5v1h-5zM6 37h7v1h-7zM14 37h5v1h-5zM20 37h11v1h-11zM35 37h15v1h-15zM51 37h19v1h-19zM0 38h12v1h-12zM14 38h3v1h-3zM19 38h2v1h-2zM22 38h9v1h-9zM34 38h12v1h-12zM48 38h22v1h-22zM0 39h12v1h-12zM13 39h4v1h-4zM19 39h1v1h-1zM22 39h4v1h-4zM28 39h15v1h-15zM47 39h9v1h-9zM57 39h12v1h-12zM0 40h15v1h-15zM16 40h1v1h-1zM19 40h1v1h-1zM21 40h38v1h-38zM61 40h8v1h-8zM0 41h10v1h-10zM11 41h8v1h-8zM20 41h22v1h-22zM44 41h26v1h-26zM0 42h43v1h-43zM45 42h25v1h-25zM0 43h6v1h-6zM7 43h4v1h-4zM12 43h34v1h-34zM47 43h15v1h-15zM63 43h7v1h-7zM0 44h11v1h-11zM12 44h2v1h-2zM15 44h8v1h-8zM24 44h7v1h-7zM32 44h4v1h-4zM37 44h4v1h-4zM44 44h3v1h-3zM48 44h21v1h-21zM0 45h4v1h-4zM5 45h9v1h-9zM15 45h15v1h-15zM31 45h2v1h-2zM34 45h1v1h-1zM36 45h15v1h-15zM52 45h14v1h-14zM68 45h1v1h-1zM0 46h4v1h-4zM5 46h9v1h-9zM16 46h4v1h-4zM21 46h6v1h-6zM29 46h3v1h-3zM34 46h36v1h-36zM0 47h3v1h-3zM5 47h3v1h-3zM9 47h8v1h-8zM18 47h2v1h-2zM21 47h17v1h-17zM41 47h3v1h-3zM46 47h2v1h-2zM49 47h15v1h-15zM67 47h3v1h-3zM0 48h3v1h-3zM5 48h1v1h-1zM7 48h22v1h-22zM31 48h7v1h-7zM39 48h3v1h-3zM43 48h1v1h-1zM45 48h23v1h-23zM0 49h4v1h-4zM9 49h7v1h-7zM18 49h10v1h-10zM31 49h1v1h-1zM34 49h25v1h-25zM60 49h3v1h-3zM64 49h2v1h-2zM68 49h2v1h-2zM0 50h5v1h-5zM6 50h2v1h-2zM10 50h7v1h-7zM18 50h1v1h-1zM21 50h7v1h-7zM34 50h8v1h-8zM43 50h1v1h-1zM45 50h12v1h-12zM58 50h2v1h-2zM63 50h6v1h-6zM0 51h4v1h-4zM6 51h2v1h-2zM10 51h7v1h-7zM20 51h8v1h-8zM29 51h2v1h-2zM36 51h1v1h-1zM39 51h5v1h-5zM45 51h5v1h-5zM51 51h3v1h-3zM56 51h1v1h-1zM58 51h1v1h-1zM63 51h7v1h-7z" fill="#dccaf0"/>
<path d="M0 0h1v1h-1zM2 0h11v1h-11zM15 0h5v1h-5zM21 0h8v1h-8zM30 0h8v1h-8zM39 0h4v1h-4zM44 0h8v1h-8zM57 0h4v1h-4zM62 0h8v1h-8zM0 1h6v1h-6zM7 1h12v1h-12zM20 1h4v1h-4zM25 1h2v1h-2zM29 1h7v1h-7zM38 1h4v1h-4zM43 1h5v1h-5zM49 1h3v1h-3zM56 1h9v1h-9zM66 1h4v1h-4zM0 2h2v1h-2zM4 2h14v1h-14zM20 2h15v1h-15zM37 2h2v1h-2zM40 2h2v1h-2zM43 2h1v1h-1zM45 2h2v1h-2zM51 2h2v1h-2zM54 2h8v1h-8zM63 2h2v1h-2zM67 2h3v1h-3zM0 3h2v1h-2zM3 3h1v1h-1zM5 3h14v1h-14zM20 3h5v1h-5zM26 3h1v1h-1zM28 3h11v1h-11zM41 3h7v1h-7zM49 3h1v1h-1zM55 3h4v1h-4zM61 3h4v1h-4zM66 3h1v1h-1zM69 3h1v1h-1zM1 4h3v1h-3zM5 4h5v1h-5zM11 4h8v1h-8zM20 4h9v1h-9zM30 4h8v1h-8zM42 4h11v1h-11zM54 4h6v1h-6zM61 4h6v1h-6zM68 4h2v1h-2zM1 5h2v1h-2zM4 5h1v1h-1zM7 5h2v1h-2zM10 5h6v1h-6zM18 5h4v1h-4zM24 5h3v1h-3zM30 5h8v1h-8zM39 5h2v1h-2zM42 5h1v1h-1zM47 5h13v1h-13zM61 5h1v1h-1zM64 5h6v1h-6zM0 6h3v1h-3zM4 6h2v1h-2zM7 6h10v1h-10zM18 6h6v1h-6zM26 6h2v1h-2zM30 6h8v1h-8zM39 6h1v1h-1zM43 6h14v1h-14zM59 6h1v1h-1zM61 6h6v1h-6zM68 6h2v1h-2zM0 7h3v1h-3zM4 7h14v1h-14zM19 7h6v1h-6zM26 7h1v1h-1zM30 7h1v1h-1zM33 7h5v1h-5zM41 7h13v1h-13zM59 7h8v1h-8zM69 7h1v1h-1zM0 8h17v1h-17zM18 8h6v1h-6zM25 8h5v1h-5zM34 8h4v1h-4zM39 8h1v1h-1zM41 8h11v1h-11zM53 8h2v1h-2zM57 8h10v1h-10zM69 8h1v1h-1zM0 9h17v1h-17zM18 9h6v1h-6zM25 9h5v1h-5zM31 9h1v1h-1zM35 9h5v1h-5zM42 9h3v1h-3zM46 9h6v1h-6zM53 9h2v1h-2zM56 9h11v1h-11zM69 9h1v1h-1zM0 10h12v1h-12zM13 10h1v1h-1zM16 10h16v1h-16zM33 10h1v1h-1zM36 10h19v1h-19zM56 10h14v1h-14zM0 11h32v1h-32zM35 11h35v1h-35zM0 12h21v1h-21zM22 12h2v1h-2zM25 12h8v1h-8zM34 12h31v1h-31zM66 12h4v1h-4zM0 13h4v1h-4zM5 13h3v1h-3zM10 13h22v1h-22zM34 13h31v1h-31zM67 13h3v1h-3zM1 14h3v1h-3zM7 14h1v1h-1zM9 14h22v1h-22zM32 14h8v1h-8zM41 14h15v1h-15zM58 14h7v1h-7zM67 14h2v1h-2zM0 15h1v1h-1zM2 15h1v1h-1zM6 15h2v1h-2zM9 15h27v1h-27zM38 15h2v1h-2zM43 15h12v1h-12zM59 15h1v1h-1zM61 15h4v1h-4zM69 15h1v1h-1zM3 16h1v1h-1zM6 16h4v1h-4zM12 16h20v1h-20zM33 16h4v1h-4zM38 16h2v1h-2zM41 16h2v1h-2zM44 16h5v1h-5zM50 16h6v1h-6zM57 16h2v1h-2zM61 16h2v1h-2zM66 16h1v1h-1zM69 16h1v1h-1zM0 17h1v1h-1zM4 17h5v1h-5zM10 17h2v1h-2zM15 17h17v1h-17zM33 17h6v1h-6zM40 17h3v1h-3zM44 17h5v1h-5zM50 17h3v1h-3zM54 17h2v1h-2zM58 17h5v1h-5zM64 17h2v1h-2zM68 17h2v1h-2zM0 18h1v1h-1zM3 18h5v1h-5zM10 18h2v1h-2zM13 18h2v1h-2zM16 18h16v1h-16zM33 18h1v1h-1zM35 18h2v1h-2zM38 18h2v1h-2zM41 18h1v1h-1zM44 18h19v1h-19zM64 18h6v1h-6zM0 19h1v1h-1zM2 19h6v1h-6zM10 19h5v1h-5zM16 19h10v1h-10zM27 19h4v1h-4zM35 19h5v1h-5zM41 19h15v1h-15zM57 19h7v1h-7zM67 19h3v1h-3zM0 20h11v1h-11zM14 20h4v1h-4zM19 20h11v1h-11zM31 20h1v1h-1zM33 20h1v1h-1zM35 20h18v1h-18zM54 20h1v1h-1zM56 20h4v1h-4zM61 20h3v1h-3zM67 20h3v1h-3zM0 21h9v1h-9zM10 21h1v1h-1zM12 21h7v1h-7zM20 21h2v1h-2zM23 21h1v1h-1zM25 21h7v1h-7zM33 21h1v1h-1zM35 21h17v1h-17zM54 21h1v1h-1zM56 21h3v1h-3zM60 21h4v1h-4zM67 21h2v1h-2zM0 22h9v1h-9zM11 22h2v1h-2zM14 22h1v1h-1zM16 22h5v1h-5zM23 22h10v1h-10zM34 22h11v1h-11zM46 22h4v1h-4zM53 22h2v1h-2zM57 22h1v1h-1zM60 22h9v1h-9zM0 23h21v1h-21zM25 23h7v1h-7zM33 23h7v1h-7zM41 23h4v1h-4zM47 23h2v1h-2zM53 23h3v1h-3zM58 23h2v1h-2zM61 23h9v1h-9zM0 24h2v1h-2zM3 24h10v1h-10zM14 24h10v1h-10zM27 24h7v1h-7zM36 24h6v1h-6zM43 24h2v1h-2zM47 24h10v1h-10zM58 24h2v1h-2zM61 24h5v1h-5zM68 24h2v1h-2zM0 25h21v1h-21zM23 25h1v1h-1zM27 25h4v1h-4zM32 25h25v1h-25zM58 25h8v1h-8zM67 25h1v1h-1zM0 26h13v1h-13zM14 26h8v1h-8zM27 26h18v1h-18zM46 26h4v1h-4zM51 26h5v1h-5zM58 26h1v1h-1zM63 26h3v1h-3zM67 26h3v1h-3zM0 27h1v1h-1zM2 27h11v1h-11zM14 27h5v1h-5zM20 27h3v1h-3zM25 27h1v1h-1zM28 27h20v1h-20zM49 27h1v1h-1zM51 27h3v1h-3zM55 27h4v1h-4zM61 27h1v1h-1zM63 27h2v1h-2zM67 27h3v1h-3zM0 28h10v1h-10zM11 28h3v1h-3zM15 28h4v1h-4zM20 28h2v1h-2zM25 28h1v1h-1zM27 28h2v1h-2zM31 28h9v1h-9zM41 28h13v1h-13zM55 28h3v1h-3zM61 28h1v1h-1zM63 28h5v1h-5zM0 29h4v1h-4zM6 29h8v1h-8zM15 29h7v1h-7zM23 29h17v1h-17zM42 29h15v1h-15zM60 29h6v1h-6zM0 30h6v1h-6zM7 30h14v1h-14zM22 30h6v1h-6zM29 30h9v1h-9zM39 30h1v1h-1zM43 30h16v1h-16zM60 30h6v1h-6zM68 30h1v1h-1zM0 31h6v1h-6zM7 31h17v1h-17zM25 31h1v1h-1zM31 31h9v1h-9zM43 31h12v1h-12zM56 31h14v1h-14zM0 32h30v1h-30zM31 32h14v1h-14zM47 32h8v1h-8zM56 32h14v1h-14zM0 33h10v1h-10zM11 33h11v1h-11zM23 33h3v1h-3zM27 33h2v1h-2zM30 33h2v1h-2zM33 33h8v1h-8zM42 33h1v1h-1zM44 33h1v1h-1zM48 33h2v1h-2zM51 33h19v1h-19zM0 34h4v1h-4zM5 34h5v1h-5zM11 34h9v1h-9zM21 34h1v1h-1zM23 34h6v1h-6zM30 34h3v1h-3zM34 34h7v1h-7zM44 34h1v1h-1zM47 34h2v1h-2zM51 34h5v1h-5zM57 34h13v1h-13zM0 35h6v1h-6zM8 35h10v1h-10zM19 35h1v1h-1zM21 35h10v1h-10zM32 35h9v1h-9zM44 35h6v1h-6zM53 35h2v1h-2zM57 35h4v1h-4zM66 35h4v1h-4zM0 36h5v1h-5zM7 36h1v1h-1zM9 36h3v1h-3zM14 36h5v1h-5zM22 36h8v1h-8zM32 36h1v1h-1zM36 36h4v1h-4zM42 36h13v1h-13zM58 36h2v1h-2zM67 36h3v1h-3zM0 37h5v1h-5zM7 37h5v1h-5zM14 37h3v1h-3zM18 37h1v1h-1zM21 37h4v1h-4zM26 37h3v1h-3zM35 37h5v1h-5zM41 37h7v1h-7zM49 37h1v1h-1zM51 37h2v1h-2zM54 37h8v1h-8zM63 37h1v1h-1zM66 37h3v1h-3zM0 38h12v1h-12zM15 38h2v1h-2zM20 38h1v1h-1zM22 38h9v1h-9zM35 38h11v1h-11zM48 38h9v1h-9zM58 38h4v1h-4zM63 38h6v1h-6zM0 39h4v1h-4zM5 39h7v1h-7zM14 39h1v1h-1zM16 39h1v1h-1zM19 39h1v1h-1zM22 39h4v1h-4zM28 39h3v1h-3zM32 39h1v1h-1zM34 39h9v1h-9zM47 39h9v1h-9zM57 39h3v1h-3zM61 39h8v1h-8zM0 40h15v1h-15zM16 40h1v1h-1zM22 40h1v1h-1zM24 40h7v1h-7zM32 40h25v1h-25zM61 40h6v1h-6zM68 40h1v1h-1zM0 41h10v1h-10zM11 41h8v1h-8zM21 41h1v1h-1zM24 41h18v1h-18zM44 41h10v1h-10zM55 41h10v1h-10zM66 41h4v1h-4zM0 42h11v1h-11zM12 42h1v1h-1zM14 42h1v1h-1zM16 42h26v1h-26zM45 42h20v1h-20zM66 42h4v1h-4zM0 43h5v1h-5zM8 43h3v1h-3zM12 43h1v1h-1zM15 43h26v1h-26zM43 43h3v1h-3zM47 43h15v1h-15zM64 43h6v1h-6zM0 44h11v1h-11zM12 44h2v1h-2zM15 44h7v1h-7zM24 44h1v1h-1zM26 44h4v1h-4zM34 44h2v1h-2zM37 44h3v1h-3zM44 44h2v1h-2zM48 44h3v1h-3zM52 44h17v1h-17zM0 45h4v1h-4zM5 45h9v1h-9zM15 45h12v1h-12zM28 45h2v1h-2zM38 45h3v1h-3zM43 45h8v1h-8zM53 45h13v1h-13zM0 46h3v1h-3zM5 46h2v1h-2zM9 46h5v1h-5zM17 46h3v1h-3zM21 46h6v1h-6zM31 46h1v1h-1zM34 46h3v1h-3zM38 46h3v1h-3zM42 46h1v1h-1zM44 46h26v1h-26zM1 47h1v1h-1zM5 47h2v1h-2zM10 47h4v1h-4zM18 47h1v1h-1zM21 47h5v1h-5zM27 47h5v1h-5zM34 47h4v1h-4zM41 47h2v1h-2zM46 47h2v1h-2zM49 47h15v1h-15zM67 47h3v1h-3zM0 48h3v1h-3zM8 48h1v1h-1zM10 48h10v1h-10zM21 48h3v1h-3zM25 48h3v1h-3zM31 48h1v1h-1zM34 48h4v1h-4zM39 48h3v1h-3zM43 48h1v1h-1zM46 48h20v1h-20zM67 48h1v1h-1zM0 49h3v1h-3zM9 49h1v1h-1zM12 49h4v1h-4zM20 49h6v1h-6zM34 49h5v1h-5zM45 49h14v1h-14zM60 49h2v1h-2zM64 49h2v1h-2zM69 49h1v1h-1zM0 50h5v1h-5zM7 50h1v1h-1zM10 50h6v1h-6zM21 50h7v1h-7zM35 50h7v1h-7zM43 50h1v1h-1zM45 50h4v1h-4zM52 50h5v1h-5zM58 50h1v1h-1zM64 50h2v1h-2zM0 51h2v1h-2zM3 51h1v1h-1zM6 51h2v1h-2zM11 51h6v1h-6zM21 51h6v1h-6zM30 51h1v1h-1zM40 51h4v1h-4zM45 51h5v1h-5zM51 51h3v1h-3zM56 51h1v1h-1zM64 51h6v1h-6z" fill="#a865dc"/>
<path d="M0 0h1v1h-1zM2 0h2v1h-2zM5 0h8v1h-8zM15 0h2v1h-2zM18 0h2v1h-2zM21 0h5v1h-5zM27 0h2v1h-2zM30 0h1v1h-1zM32 0h2v1h-2zM35 0h3v1h-3zM39 0h4v1h-4zM45 0h6v1h-6zM57 0h4v1h-4zM63 0h7v1h-7zM0 1h1v1h-1zM3 1h3v1h-3zM7 1h10v1h-10zM18 1h1v1h-1zM21 1h3v1h-3zM25 1h1v1h-1zM29 1h7v1h-7zM39 1h2v1h-2zM44 1h3v1h-3zM49 1h1v1h-1zM57 1h5v1h-5zM63 1h2v1h-2zM66 1h4v1h-4zM0 2h2v1h-2zM4 2h2v1h-2zM7 2h11v1h-11zM20 2h7v1h-7zM29 2h6v1h-6zM38 2h1v1h-1zM40 2h1v1h-1zM43 2h1v1h-1zM45 2h2v1h-2zM52 2h1v1h-1zM54 2h1v1h-1zM56 2h3v1h-3zM60 2h2v1h-2zM64 2h1v1h-1zM68 2h2v1h-2zM0 3h2v1h-2zM3 3h1v1h-1zM5 3h5v1h-5zM11 3h7v1h-7zM21 3h4v1h-4zM29 3h8v1h-8zM38 3h1v1h-1zM42 3h5v1h-5zM49 3h1v1h-1zM55 3h3v1h-3zM61 3h4v1h-4zM66 3h1v1h-1zM69 3h1v1h-1zM1 4h1v1h-1zM6 4h2v1h-2zM11 4h5v1h-5zM20 4h2v1h-2zM23 4h2v1h-2zM28 4h1v1h-1zM30 4h6v1h-6zM42 4h6v1h-6zM51 4h2v1h-2zM55 4h5v1h-5zM61 4h1v1h-1zM63 4h1v1h-1zM66 4h1v1h-1zM69 4h1v1h-1zM1 5h2v1h-2zM4 5h1v1h-1zM7 5h2v1h-2zM11 5h5v1h-5zM18 5h1v1h-1zM20 5h2v1h-2zM25 5h1v1h-1zM30 5h8v1h-8zM42 5h1v1h-1zM47 5h13v1h-13zM64 5h5v1h-5zM0 6h2v1h-2zM4 6h1v1h-1zM8 6h9v1h-9zM19 6h4v1h-4zM26 6h2v1h-2zM30 6h1v1h-1zM32 6h6v1h-6zM39 6h1v1h-1zM43 6h2v1h-2zM46 6h1v1h-1zM48 6h9v1h-9zM59 6h1v1h-1zM61 6h4v1h-4zM68 6h2v1h-2zM0 7h3v1h-3zM4 7h14v1h-14zM20 7h5v1h-5zM30 7h1v1h-1zM34 7h4v1h-4zM41 7h3v1h-3zM46 7h8v1h-8zM59 7h1v1h-1zM61 7h4v1h-4zM69 7h1v1h-1zM0 8h17v1h-17zM19 8h5v1h-5zM27 8h2v1h-2zM34 8h2v1h-2zM41 8h3v1h-3zM46 8h6v1h-6zM54 8h1v1h-1zM57 8h8v1h-8zM66 8h1v1h-1zM69 8h1v1h-1zM0 9h14v1h-14zM16 9h1v1h-1zM19 9h5v1h-5zM35 9h5v1h-5zM42 9h2v1h-2zM46 9h5v1h-5zM57 9h3v1h-3zM61 9h6v1h-6zM69 9h1v1h-1zM0 10h12v1h-12zM13 10h1v1h-1zM16 10h11v1h-11zM29 10h3v1h-3zM33 10h1v1h-1zM36 10h2v1h-2zM39 10h13v1h-13zM53 10h2v1h-2zM56 10h14v1h-14zM0 11h8v1h-8zM9 11h5v1h-5zM15 11h6v1h-6zM22 11h10v1h-10zM35 11h7v1h-7zM43 11h6v1h-6zM52 11h4v1h-4zM57 11h1v1h-1zM59 11h3v1h-3zM64 11h1v1h-1zM66 11h4v1h-4zM0 12h8v1h-8zM10 12h1v1h-1zM13 12h7v1h-7zM22 12h2v1h-2zM26 12h6v1h-6zM34 12h3v1h-3zM38 12h2v1h-2zM41 12h10v1h-10zM53 12h3v1h-3zM57 12h6v1h-6zM64 12h1v1h-1zM66 12h4v1h-4zM0 13h2v1h-2zM3 13h1v1h-1zM10 13h11v1h-11zM22 13h4v1h-4zM27 13h5v1h-5zM36 13h4v1h-4zM41 13h14v1h-14zM57 13h7v1h-7zM68 13h2v1h-2zM7 14h1v1h-1zM10 14h9v1h-9zM20 14h1v1h-1zM23 14h3v1h-3zM27 14h4v1h-4zM36 14h3v1h-3zM41 14h2v1h-2zM44 14h11v1h-11zM59 14h1v1h-1zM61 14h4v1h-4zM67 14h1v1h-1zM0 15h1v1h-1zM6 15h2v1h-2zM10 15h9v1h-9zM21 15h11v1h-11zM33 15h3v1h-3zM38 15h2v1h-2zM44 15h11v1h-11zM59 15h1v1h-1zM61 15h4v1h-4zM6 16h4v1h-4zM12 16h6v1h-6zM19 16h1v1h-1zM21 16h11v1h-11zM33 16h3v1h-3zM42 16h1v1h-1zM45 16h1v1h-1zM47 16h2v1h-2zM50 16h6v1h-6zM57 16h1v1h-1zM61 16h2v1h-2zM66 16h1v1h-1zM0 17h1v1h-1zM4 17h5v1h-5zM11 17h1v1h-1zM15 17h7v1h-7zM23 17h6v1h-6zM30 17h2v1h-2zM33 17h4v1h-4zM38 17h1v1h-1zM40 17h2v1h-2zM47 17h1v1h-1zM50 17h2v1h-2zM54 17h2v1h-2zM58 17h4v1h-4zM64 17h2v1h-2zM68 17h2v1h-2zM0 18h1v1h-1zM4 18h4v1h-4zM11 18h1v1h-1zM13 18h1v1h-1zM17 18h10v1h-10zM29 18h3v1h-3zM35 18h2v1h-2zM38 18h1v1h-1zM41 18h1v1h-1zM44 18h9v1h-9zM54 18h2v1h-2zM57 18h6v1h-6zM66 18h1v1h-1zM68 18h2v1h-2zM0 19h1v1h-1zM2 19h1v1h-1zM4 19h4v1h-4zM10 19h4v1h-4zM17 19h9v1h-9zM28 19h2v1h-2zM35 19h3v1h-3zM39 19h1v1h-1zM42 19h13v1h-13zM57 19h5v1h-5zM63 19h1v1h-1zM67 19h3v1h-3zM0 20h1v1h-1zM3 20h8v1h-8zM14 20h1v1h-1zM16 20h2v1h-2zM20 20h3v1h-3zM25 20h5v1h-5zM35 20h16v1h-16zM54 20h1v1h-1zM56 20h3v1h-3zM62 20h2v1h-2zM67 20h3v1h-3zM0 21h6v1h-6zM7 21h2v1h-2zM13 21h3v1h-3zM17 21h1v1h-1zM20 21h2v1h-2zM23 21h1v1h-1zM26 21h6v1h-6zM35 21h17v1h-17zM54 21h1v1h-1zM56 21h2v1h-2zM61 21h3v1h-3zM67 21h2v1h-2zM0 22h8v1h-8zM12 22h1v1h-1zM16 22h5v1h-5zM23 22h4v1h-4zM28 22h5v1h-5zM37 22h3v1h-3zM41 22h4v1h-4zM46 22h4v1h-4zM54 22h1v1h-1zM57 22h1v1h-1zM60 22h3v1h-3zM64 22h5v1h-5zM0 23h2v1h-2zM3 23h7v1h-7zM11 23h2v1h-2zM16 23h5v1h-5zM26 23h2v1h-2zM29 23h3v1h-3zM33 23h3v1h-3zM37 23h3v1h-3zM43 23h1v1h-1zM47 23h2v1h-2zM53 23h3v1h-3zM61 23h1v1h-1zM63 23h6v1h-6zM0 24h2v1h-2zM3 24h1v1h-1zM5 24h8v1h-8zM14 24h8v1h-8zM23 24h1v1h-1zM27 24h1v1h-1zM29 24h5v1h-5zM36 24h4v1h-4zM41 24h1v1h-1zM43 24h1v1h-1zM47 24h1v1h-1zM53 24h3v1h-3zM58 24h1v1h-1zM61 24h1v1h-1zM63 24h3v1h-3zM68 24h2v1h-2zM0 25h13v1h-13zM14 25h1v1h-1zM16 25h4v1h-4zM23 25h1v1h-1zM27 25h4v1h-4zM32 25h3v1h-3zM36 25h4v1h-4zM41 25h10v1h-10zM52 25h5v1h-5zM58 25h8v1h-8zM0 26h13v1h-13zM14 26h1v1h-1zM16 26h4v1h-4zM21 26h1v1h-1zM29 26h15v1h-15zM46 26h2v1h-2zM49 26h1v1h-1zM52 26h4v1h-4zM58 26h1v1h-1zM63 26h3v1h-3zM67 26h3v1h-3zM0 27h1v1h-1zM2 27h4v1h-4zM7 27h5v1h-5zM15 27h4v1h-4zM20 27h2v1h-2zM25 27h1v1h-1zM30 27h15v1h-15zM46 27h2v1h-2zM51 27h1v1h-1zM53 27h1v1h-1zM55 27h1v1h-1zM57 27h1v1h-1zM67 27h3v1h-3zM0 28h9v1h-9zM11 28h2v1h-2zM15 28h3v1h-3zM20 28h1v1h-1zM31 28h3v1h-3zM35 28h5v1h-5zM42 28h7v1h-7zM50 28h2v1h-2zM56 28h2v1h-2zM61 28h1v1h-1zM67 28h1v1h-1zM0 29h4v1h-4zM7 29h2v1h-2zM10 29h4v1h-4zM15 29h6v1h-6zM24 29h3v1h-3zM29 29h1v1h-1zM31 29h8v1h-8zM42 29h1v1h-1zM44 29h9v1h-9zM55 29h2v1h-2zM60 29h1v1h-1zM62 29h4v1h-4zM0 30h5v1h-5zM7 30h7v1h-7zM16 30h4v1h-4zM22 30h6v1h-6zM31 30h2v1h-2zM35 30h3v1h-3zM39 30h1v1h-1zM43 30h1v1h-1zM45 30h1v1h-1zM47 30h3v1h-3zM53 30h5v1h-5zM63 30h3v1h-3zM0 31h6v1h-6zM7 31h1v1h-1zM9 31h3v1h-3zM14 31h10v1h-10zM25 31h1v1h-1zM31 31h3v1h-3zM35 31h3v1h-3zM39 31h1v1h-1zM43 31h2v1h-2zM46 31h5v1h-5zM52 31h2v1h-2zM56 31h11v1h-11zM68 31h2v1h-2zM0 32h6v1h-6zM7 32h19v1h-19zM27 32h3v1h-3zM31 32h7v1h-7zM39 32h2v1h-2zM43 32h1v1h-1zM47 32h2v1h-2zM50 32h2v1h-2zM53 32h2v1h-2zM57 32h6v1h-6zM64 32h6v1h-6zM0 33h4v1h-4zM5 33h5v1h-5zM12 33h8v1h-8zM21 33h1v1h-1zM24 33h2v1h-2zM28 33h1v1h-1zM30 33h2v1h-2zM34 33h4v1h-4zM39 33h1v1h-1zM48 33h1v1h-1zM51 33h4v1h-4zM56 33h4v1h-4zM61 33h2v1h-2zM65 33h4v1h-4zM0 34h4v1h-4zM5 34h4v1h-4zM11 34h6v1h-6zM21 34h1v1h-1zM23 34h6v1h-6zM30 34h3v1h-3zM34 34h7v1h-7zM47 34h2v1h-2zM52 34h3v1h-3zM57 34h7v1h-7zM66 34h4v1h-4zM0 35h6v1h-6zM9 35h2v1h-2zM12 35h6v1h-6zM21 35h10v1h-10zM32 35h2v1h-2zM35 35h5v1h-5zM44 35h5v1h-5zM53 35h2v1h-2zM57 35h4v1h-4zM67 35h3v1h-3zM0 36h5v1h-5zM7 36h1v1h-1zM10 36h2v1h-2zM14 36h4v1h-4zM22 36h7v1h-7zM32 36h1v1h-1zM37 36h3v1h-3zM42 36h1v1h-1zM44 36h7v1h-7zM53 36h1v1h-1zM59 36h1v1h-1zM68 36h2v1h-2zM0 37h5v1h-5zM8 37h4v1h-4zM15 37h1v1h-1zM18 37h1v1h-1zM22 37h2v1h-2zM26 37h3v1h-3zM35 37h5v1h-5zM42 37h2v1h-2zM46 37h2v1h-2zM49 37h1v1h-1zM51 37h2v1h-2zM54 37h1v1h-1zM56 37h1v1h-1zM58 37h4v1h-4zM66 37h3v1h-3zM0 38h4v1h-4zM6 38h3v1h-3zM16 38h1v1h-1zM22 38h9v1h-9zM35 38h2v1h-2zM39 38h7v1h-7zM49 38h1v1h-1zM52 38h1v1h-1zM58 38h4v1h-4zM65 38h3v1h-3zM0 39h4v1h-4zM5 39h7v1h-7zM14 39h1v1h-1zM19 39h1v1h-1zM23 39h3v1h-3zM28 39h3v1h-3zM35 39h8v1h-8zM48 39h8v1h-8zM57 39h2v1h-2zM62 39h3v1h-3zM67 39h2v1h-2zM0 40h15v1h-15zM22 40h1v1h-1zM24 40h5v1h-5zM30 40h1v1h-1zM32 40h1v1h-1zM34 40h9v1h-9zM44 40h2v1h-2zM47 40h1v1h-1zM49 40h5v1h-5zM55 40h1v1h-1zM62 40h3v1h-3zM66 40h1v1h-1zM0 41h10v1h-10zM11 41h4v1h-4zM16 41h3v1h-3zM25 41h17v1h-17zM44 41h2v1h-2zM47 41h1v1h-1zM49 41h5v1h-5zM55 41h8v1h-8zM64 41h1v1h-1zM66 41h1v1h-1zM68 41h2v1h-2zM0 42h7v1h-7zM8 42h3v1h-3zM16 42h3v1h-3zM20 42h16v1h-16zM37 42h5v1h-5zM47 42h3v1h-3zM51 42h12v1h-12zM64 42h1v1h-1zM67 42h3v1h-3zM0 43h5v1h-5zM8 43h2v1h-2zM15 43h10v1h-10zM26 43h6v1h-6zM33 43h5v1h-5zM39 43h2v1h-2zM43 43h2v1h-2zM47 43h2v1h-2zM51 43h7v1h-7zM60 43h2v1h-2zM64 43h1v1h-1zM67 43h1v1h-1zM69 43h1v1h-1zM0 44h4v1h-4zM5 44h6v1h-6zM12 44h2v1h-2zM16 44h2v1h-2zM19 44h3v1h-3zM26 44h4v1h-4zM34 44h2v1h-2zM37 44h3v1h-3zM44 44h1v1h-1zM48 44h3v1h-3zM52 44h13v1h-13zM0 45h4v1h-4zM5 45h3v1h-3zM9 45h5v1h-5zM16 45h10v1h-10zM28 45h1v1h-1zM38 45h3v1h-3zM43 45h3v1h-3zM47 45h4v1h-4zM53 45h13v1h-13zM1 46h2v1h-2zM5 46h2v1h-2zM9 46h5v1h-5zM17 46h3v1h-3zM21 46h5v1h-5zM31 46h1v1h-1zM35 46h2v1h-2zM38 46h1v1h-1zM40 46h1v1h-1zM44 46h2v1h-2zM47 46h1v1h-1zM50 46h4v1h-4zM55 46h10v1h-10zM68 46h2v1h-2zM1 47h1v1h-1zM6 47h1v1h-1zM10 47h2v1h-2zM21 47h5v1h-5zM27 47h5v1h-5zM34 47h3v1h-3zM41 47h2v1h-2zM46 47h1v1h-1zM49 47h15v1h-15zM68 47h2v1h-2zM0 48h2v1h-2zM8 48h1v1h-1zM10 48h7v1h-7zM18 48h1v1h-1zM21 48h1v1h-1zM23 48h1v1h-1zM25 48h1v1h-1zM27 48h1v1h-1zM31 48h1v1h-1zM34 48h4v1h-4zM39 48h1v1h-1zM46 48h2v1h-2zM49 48h6v1h-6zM56 48h2v1h-2zM59 48h7v1h-7zM0 49h3v1h-3zM12 49h4v1h-4zM20 49h2v1h-2zM23 49h2v1h-2zM35 49h3v1h-3zM46 49h4v1h-4zM51 49h1v1h-1zM53 49h6v1h-6zM64 49h1v1h-1zM0 50h4v1h-4zM7 50h1v1h-1zM11 50h5v1h-5zM21 50h4v1h-4zM26 50h1v1h-1zM36 50h4v1h-4zM48 50h1v1h-1zM55 50h1v1h-1zM58 50h1v1h-1zM64 50h1v1h-1zM0 51h1v1h-1zM3 51h1v1h-1zM6 51h2v1h-2zM11 51h6v1h-6zM21 51h5v1h-5zM42 51h1v1h-1zM45 51h3v1h-3zM52 51h2v1h-2zM56 51h1v1h-1zM64 51h4v1h-4zM69 51h1v1h-1z" fill="#8a36d0"/>
<path d="M3 0h1v1h-1zM7 0h1v1h-1zM10 0h2v1h-2zM36 0h1v1h-1zM45 0h2v1h-2zM50 0h1v1h-1zM58 0h2v1h-2zM66 0h3v1h-3zM7 1h1v1h-1zM11 1h3v1h-3zM15 1h1v1h-1zM30 1h1v1h-1zM46 1h1v1h-1zM66 1h2v1h-2zM0 2h1v1h-1zM5 2h1v1h-1zM8 2h2v1h-2zM11 2h2v1h-2zM21 2h2v1h-2zM29 2h1v1h-1zM31 2h3v1h-3zM69 2h1v1h-1zM23 3h1v1h-1zM31 3h1v1h-1zM43 3h1v1h-1zM62 3h1v1h-1zM69 3h1v1h-1zM11 4h1v1h-1zM14 4h1v1h-1zM23 4h2v1h-2zM55 4h3v1h-3zM69 4h1v1h-1zM13 5h2v1h-2zM32 5h1v1h-1zM55 5h1v1h-1zM14 6h1v1h-1zM48 6h1v1h-1zM50 6h1v1h-1zM56 6h1v1h-1zM69 6h1v1h-1zM15 7h2v1h-2zM46 7h1v1h-1zM48 7h1v1h-1zM62 7h1v1h-1zM4 8h1v1h-1zM46 8h1v1h-1zM58 8h2v1h-2zM0 9h1v1h-1zM4 9h2v1h-2zM19 9h4v1h-4zM57 9h2v1h-2zM0 10h1v1h-1zM4 10h3v1h-3zM10 10h1v1h-1zM18 10h3v1h-3zM39 10h1v1h-1zM43 10h1v1h-1zM53 10h1v1h-1zM58 10h1v1h-1zM1 11h1v1h-1zM5 11h3v1h-3zM10 11h1v1h-1zM17 11h3v1h-3zM23 11h1v1h-1zM29 11h1v1h-1zM38 11h2v1h-2zM53 11h1v1h-1zM1 12h1v1h-1zM6 12h1v1h-1zM16 12h2v1h-2zM27 12h1v1h-1zM29 12h3v1h-3zM38 12h2v1h-2zM44 12h1v1h-1zM53 12h2v1h-2zM60 12h1v1h-1zM68 12h2v1h-2zM1 13h1v1h-1zM10 13h1v1h-1zM13 13h2v1h-2zM17 13h1v1h-1zM29 13h1v1h-1zM48 13h3v1h-3zM54 13h1v1h-1zM58 13h1v1h-1zM61 13h2v1h-2zM10 14h3v1h-3zM14 14h2v1h-2zM25 14h1v1h-1zM28 14h1v1h-1zM46 14h2v1h-2zM12 15h3v1h-3zM24 15h2v1h-2zM28 15h3v1h-3zM34 15h1v1h-1zM45 15h4v1h-4zM51 15h3v1h-3zM7 16h1v1h-1zM16 16h2v1h-2zM23 16h2v1h-2zM26 16h1v1h-1zM51 16h1v1h-1zM21 17h1v1h-1zM23 17h1v1h-1zM25 17h2v1h-2zM41 17h1v1h-1zM6 18h1v1h-1zM23 18h1v1h-1zM48 18h1v1h-1zM54 18h1v1h-1zM10 19h1v1h-1zM17 19h1v1h-1zM19 19h1v1h-1zM22 19h2v1h-2zM48 19h1v1h-1zM67 19h2v1h-2zM27 20h2v1h-2zM36 20h5v1h-5zM42 20h1v1h-1zM45 20h4v1h-4zM50 20h1v1h-1zM0 21h1v1h-1zM2 21h4v1h-4zM27 21h3v1h-3zM37 21h1v1h-1zM43 21h3v1h-3zM49 21h1v1h-1zM0 22h2v1h-2zM6 22h1v1h-1zM17 22h1v1h-1zM28 22h1v1h-1zM31 22h1v1h-1zM37 22h1v1h-1zM39 22h1v1h-1zM43 22h1v1h-1zM68 22h1v1h-1zM17 23h1v1h-1zM37 23h1v1h-1zM68 23h1v1h-1zM5 24h1v1h-1zM7 24h2v1h-2zM20 24h1v1h-1zM37 24h1v1h-1zM0 25h2v1h-2zM3 25h1v1h-1zM5 25h1v1h-1zM7 25h2v1h-2zM10 25h2v1h-2zM16 25h1v1h-1zM18 25h2v1h-2zM65 25h1v1h-1zM2 26h2v1h-2zM6 26h2v1h-2zM9 26h1v1h-1zM14 26h1v1h-1zM29 26h1v1h-1zM32 26h3v1h-3zM40 26h1v1h-1zM54 26h1v1h-1zM4 27h2v1h-2zM17 27h1v1h-1zM33 27h1v1h-1zM38 27h1v1h-1zM2 28h1v1h-1zM5 28h1v1h-1zM7 28h1v1h-1zM16 28h2v1h-2zM36 28h1v1h-1zM38 28h1v1h-1zM45 28h1v1h-1zM47 28h1v1h-1zM0 29h1v1h-1zM3 29h1v1h-1zM7 29h1v1h-1zM10 29h1v1h-1zM12 29h1v1h-1zM16 29h2v1h-2zM36 29h1v1h-1zM44 29h1v1h-1zM0 30h2v1h-2zM3 30h1v1h-1zM10 30h1v1h-1zM25 30h1v1h-1zM36 30h1v1h-1zM48 30h2v1h-2zM65 30h1v1h-1zM2 31h1v1h-1zM15 31h1v1h-1zM32 31h1v1h-1zM48 31h2v1h-2zM64 31h2v1h-2zM0 32h4v1h-4zM8 32h3v1h-3zM14 32h1v1h-1zM18 32h1v1h-1zM25 32h1v1h-1zM28 32h1v1h-1zM35 32h1v1h-1zM66 32h1v1h-1zM0 33h4v1h-4zM36 33h1v1h-1zM67 33h1v1h-1zM0 34h3v1h-3zM32 34h1v1h-1zM38 34h1v1h-1zM58 34h1v1h-1zM0 35h3v1h-3zM23 35h4v1h-4zM28 35h1v1h-1zM38 35h2v1h-2zM47 35h1v1h-1zM68 35h1v1h-1zM0 36h3v1h-3zM14 36h1v1h-1zM26 36h1v1h-1zM37 36h2v1h-2zM46 36h2v1h-2zM68 36h1v1h-1zM2 37h1v1h-1zM22 37h1v1h-1zM26 37h2v1h-2zM39 37h1v1h-1zM0 38h1v1h-1zM2 38h1v1h-1zM27 38h2v1h-2zM41 38h2v1h-2zM49 38h1v1h-1zM58 38h1v1h-1zM0 39h2v1h-2zM6 39h1v1h-1zM36 39h1v1h-1zM54 39h1v1h-1zM58 39h1v1h-1zM64 39h1v1h-1zM5 40h2v1h-2zM35 40h4v1h-4zM40 40h1v1h-1zM51 40h1v1h-1zM17 41h1v1h-1zM28 41h1v1h-1zM35 41h1v1h-1zM37 41h1v1h-1zM39 41h2v1h-2zM64 41h1v1h-1zM0 42h4v1h-4zM9 42h1v1h-1zM21 42h1v1h-1zM24 42h1v1h-1zM31 42h1v1h-1zM38 42h2v1h-2zM48 42h1v1h-1zM53 42h1v1h-1zM60 42h1v1h-1zM2 43h2v1h-2zM9 43h1v1h-1zM20 43h1v1h-1zM27 43h1v1h-1zM52 43h1v1h-1zM56 43h1v1h-1zM2 44h1v1h-1zM12 44h2v1h-2zM20 44h1v1h-1zM27 44h1v1h-1zM53 44h2v1h-2zM57 44h1v1h-1zM10 45h3v1h-3zM24 45h1v1h-1zM44 45h2v1h-2zM53 45h1v1h-1zM60 45h4v1h-4zM1 46h1v1h-1zM11 46h2v1h-2zM22 46h1v1h-1zM24 46h1v1h-1zM56 46h2v1h-2zM61 46h1v1h-1zM69 46h1v1h-1zM23 47h1v1h-1zM50 47h2v1h-2zM69 47h1v1h-1zM46 48h1v1h-1zM50 48h1v1h-1zM1 49h1v1h-1zM14 49h1v1h-1zM64 49h1v1h-1zM0 50h1v1h-1zM14 50h2v1h-2zM23 50h2v1h-2zM0 51h1v1h-1zM12 51h2v1h-2zM22 51h3v1h-3zM52 51h1v1h-1z" fill="#7228b6"/>
</g>
<g transform="translate(325.9 588.7)" filter="url(#imblur)">
<rect width="70" height="52" fill="#f8f1f8"/>
<path d="M0 0h6v1h-6zM7 0h16v1h-16zM27 0h7v1h-7zM35 0h18v1h-18zM54 0h5v1h-5zM61 0h9v1h-9zM0 1h6v1h-6zM7 1h14v1h-14zM28 1h31v1h-31zM61 1h9v1h-9zM0 2h4v1h-4zM7 2h2v1h-2zM10 2h11v1h-11zM29 2h30v1h-30zM62 2h8v1h-8zM0 3h5v1h-5zM6 3h1v1h-1zM11 3h9v1h-9zM22 3h1v1h-1zM24 3h2v1h-2zM29 3h21v1h-21zM51 3h8v1h-8zM61 3h3v1h-3zM66 3h4v1h-4zM0 4h2v1h-2zM4 4h4v1h-4zM11 4h10v1h-10zM22 4h9v1h-9zM34 4h17v1h-17zM52 4h8v1h-8zM61 4h9v1h-9zM0 5h1v1h-1zM3 5h18v1h-18zM23 5h8v1h-8zM34 5h18v1h-18zM53 5h7v1h-7zM61 5h9v1h-9zM3 6h4v1h-4zM9 6h5v1h-5zM16 6h4v1h-4zM22 6h3v1h-3zM30 6h8v1h-8zM40 6h10v1h-10zM54 6h6v1h-6zM61 6h9v1h-9zM3 7h4v1h-4zM9 7h6v1h-6zM16 7h4v1h-4zM22 7h6v1h-6zM30 7h8v1h-8zM40 7h10v1h-10zM54 7h16v1h-16zM2 8h1v1h-1zM5 8h11v1h-11zM17 8h4v1h-4zM25 8h4v1h-4zM30 8h8v1h-8zM40 8h26v1h-26zM2 9h21v1h-21zM25 9h6v1h-6zM33 9h5v1h-5zM39 9h10v1h-10zM50 9h20v1h-20zM2 10h30v1h-30zM34 10h24v1h-24zM59 10h8v1h-8zM69 10h1v1h-1zM2 11h26v1h-26zM29 11h3v1h-3zM34 11h7v1h-7zM42 11h17v1h-17zM60 11h6v1h-6zM0 12h9v1h-9zM10 12h23v1h-23zM34 12h7v1h-7zM42 12h6v1h-6zM49 12h16v1h-16zM68 12h2v1h-2zM0 13h11v1h-11zM13 13h24v1h-24zM38 13h13v1h-13zM52 13h18v1h-18zM0 14h10v1h-10zM12 14h9v1h-9zM22 14h15v1h-15zM38 14h9v1h-9zM48 14h16v1h-16zM65 14h5v1h-5zM0 15h21v1h-21zM23 15h47v1h-47zM0 16h14v1h-14zM15 16h25v1h-25zM41 16h13v1h-13zM55 16h8v1h-8zM65 16h5v1h-5zM0 17h7v1h-7zM10 17h4v1h-4zM15 17h25v1h-25zM41 17h23v1h-23zM65 17h5v1h-5zM0 18h8v1h-8zM10 18h43v1h-43zM54 18h14v1h-14zM69 18h1v1h-1zM0 19h8v1h-8zM9 19h33v1h-33zM43 19h4v1h-4zM49 19h4v1h-4zM54 19h16v1h-16zM0 20h42v1h-42zM43 20h4v1h-4zM48 20h6v1h-6zM57 20h10v1h-10zM68 20h2v1h-2zM0 21h26v1h-26zM27 21h5v1h-5zM33 21h20v1h-20zM56 21h2v1h-2zM61 21h6v1h-6zM0 22h12v1h-12zM13 22h8v1h-8zM22 22h10v1h-10zM34 22h10v1h-10zM45 22h7v1h-7zM57 22h1v1h-1zM59 22h10v1h-10zM0 23h5v1h-5zM7 23h5v1h-5zM13 23h8v1h-8zM23 23h16v1h-16zM40 23h6v1h-6zM47 23h4v1h-4zM52 23h3v1h-3zM57 23h1v1h-1zM59 23h11v1h-11zM0 24h3v1h-3zM4 24h1v1h-1zM7 24h14v1h-14zM23 24h12v1h-12zM37 24h19v1h-19zM57 24h13v1h-13zM0 25h35v1h-35zM37 25h3v1h-3zM42 25h10v1h-10zM53 25h2v1h-2zM57 25h13v1h-13zM1 26h8v1h-8zM10 26h6v1h-6zM18 26h7v1h-7zM26 26h9v1h-9zM36 26h4v1h-4zM42 26h3v1h-3zM48 26h4v1h-4zM56 26h14v1h-14zM1 27h24v1h-24zM26 27h8v1h-8zM37 27h8v1h-8zM48 27h4v1h-4zM55 27h15v1h-15zM0 28h4v1h-4zM5 28h2v1h-2zM8 28h5v1h-5zM15 28h10v1h-10zM30 28h22v1h-22zM54 28h6v1h-6zM61 28h9v1h-9zM0 29h4v1h-4zM5 29h9v1h-9zM15 29h10v1h-10zM29 29h16v1h-16zM47 29h5v1h-5zM53 29h2v1h-2zM57 29h3v1h-3zM61 29h9v1h-9zM0 30h4v1h-4zM5 30h8v1h-8zM15 30h28v1h-28zM47 30h23v1h-23zM0 31h14v1h-14zM15 31h55v1h-55zM0 32h9v1h-9zM10 32h5v1h-5zM18 32h2v1h-2zM21 32h25v1h-25zM49 32h21v1h-21zM0 33h9v1h-9zM10 33h4v1h-4zM19 33h5v1h-5zM25 33h1v1h-1zM27 33h19v1h-19zM49 33h16v1h-16zM66 33h3v1h-3zM0 34h13v1h-13zM14 34h3v1h-3zM20 34h4v1h-4zM25 34h1v1h-1zM27 34h19v1h-19zM49 34h6v1h-6zM57 34h8v1h-8zM66 34h4v1h-4zM2 35h11v1h-11zM15 35h2v1h-2zM20 35h1v1h-1zM22 35h4v1h-4zM27 35h3v1h-3zM32 35h8v1h-8zM41 35h6v1h-6zM48 35h7v1h-7zM57 35h13v1h-13zM1 36h2v1h-2zM4 36h10v1h-10zM16 36h2v1h-2zM20 36h1v1h-1zM23 36h11v1h-11zM36 36h2v1h-2zM42 36h28v1h-28zM0 37h4v1h-4zM8 37h7v1h-7zM16 37h5v1h-5zM22 37h13v1h-13zM42 37h28v1h-28zM1 38h5v1h-5zM8 38h3v1h-3zM12 38h3v1h-3zM16 38h20v1h-20zM38 38h2v1h-2zM42 38h28v1h-28zM1 39h14v1h-14zM17 39h19v1h-19zM38 39h23v1h-23zM62 39h8v1h-8zM0 40h5v1h-5zM8 40h5v1h-5zM15 40h1v1h-1zM18 40h14v1h-14zM37 40h5v1h-5zM45 40h10v1h-10zM57 40h13v1h-13zM0 41h4v1h-4zM9 41h3v1h-3zM14 41h2v1h-2zM19 41h14v1h-14zM38 41h5v1h-5zM44 41h2v1h-2zM47 41h5v1h-5zM53 41h1v1h-1zM56 41h1v1h-1zM58 41h12v1h-12zM0 42h1v1h-1zM3 42h2v1h-2zM9 42h8v1h-8zM18 42h4v1h-4zM23 42h9v1h-9zM36 42h2v1h-2zM39 42h6v1h-6zM47 42h7v1h-7zM56 42h1v1h-1zM58 42h12v1h-12zM0 43h1v1h-1zM4 43h7v1h-7zM12 43h10v1h-10zM24 43h7v1h-7zM33 43h9v1h-9zM44 43h1v1h-1zM47 43h23v1h-23zM0 44h5v1h-5zM6 44h18v1h-18zM26 44h4v1h-4zM32 44h10v1h-10zM45 44h8v1h-8zM54 44h14v1h-14zM69 44h1v1h-1zM0 45h5v1h-5zM6 45h5v1h-5zM12 45h13v1h-13zM26 45h4v1h-4zM32 45h2v1h-2zM36 45h16v1h-16zM54 45h3v1h-3zM58 45h9v1h-9zM68 45h2v1h-2zM0 46h5v1h-5zM6 46h8v1h-8zM15 46h19v1h-19zM36 46h7v1h-7zM45 46h8v1h-8zM54 46h2v1h-2zM58 46h1v1h-1zM60 46h7v1h-7zM68 46h2v1h-2zM0 47h5v1h-5zM7 47h25v1h-25zM37 47h6v1h-6zM45 47h11v1h-11zM58 47h2v1h-2zM62 47h5v1h-5zM68 47h2v1h-2zM0 48h5v1h-5zM7 48h26v1h-26zM35 48h26v1h-26zM62 48h5v1h-5zM68 48h2v1h-2zM0 49h6v1h-6zM7 49h14v1h-14zM23 49h4v1h-4zM28 49h4v1h-4zM35 49h28v1h-28zM65 49h5v1h-5zM0 50h22v1h-22zM26 50h1v1h-1zM28 50h6v1h-6zM37 50h26v1h-26zM64 50h6v1h-6zM0 51h6v1h-6zM7 51h1v1h-1zM9 51h7v1h-7zM18 51h4v1h-4zM26 51h1v1h-1zM28 51h6v1h-6zM38 51h6v1h-6zM47 51h10v1h-10zM58 51h12v1h-12z" fill="#dccaf0"/>
<path d="M0 0h6v1h-6zM8 0h2v1h-2zM11 0h2v1h-2zM15 0h4v1h-4zM20 0h1v1h-1zM30 0h3v1h-3zM36 0h13v1h-13zM51 0h2v1h-2zM54 0h4v1h-4zM62 0h1v1h-1zM64 0h5v1h-5zM0 1h4v1h-4zM8 1h1v1h-1zM11 1h3v1h-3zM15 1h4v1h-4zM30 1h3v1h-3zM35 1h14v1h-14zM50 1h9v1h-9zM64 1h2v1h-2zM67 1h2v1h-2zM0 2h4v1h-4zM11 2h2v1h-2zM15 2h4v1h-4zM30 2h4v1h-4zM35 2h7v1h-7zM43 2h6v1h-6zM51 2h7v1h-7zM67 2h3v1h-3zM0 3h3v1h-3zM12 3h3v1h-3zM16 3h3v1h-3zM31 3h1v1h-1zM35 3h7v1h-7zM44 3h5v1h-5zM52 3h6v1h-6zM67 3h3v1h-3zM0 4h1v1h-1zM6 4h1v1h-1zM12 4h6v1h-6zM24 4h1v1h-1zM28 4h2v1h-2zM35 4h7v1h-7zM44 4h6v1h-6zM53 4h6v1h-6zM62 4h1v1h-1zM64 4h6v1h-6zM6 5h2v1h-2zM11 5h2v1h-2zM15 5h2v1h-2zM24 5h1v1h-1zM28 5h2v1h-2zM35 5h1v1h-1zM38 5h4v1h-4zM43 5h6v1h-6zM54 5h5v1h-5zM62 5h8v1h-8zM10 6h1v1h-1zM35 6h1v1h-1zM40 6h6v1h-6zM48 6h1v1h-1zM55 6h1v1h-1zM64 6h5v1h-5zM17 7h3v1h-3zM32 7h2v1h-2zM35 7h1v1h-1zM41 7h5v1h-5zM47 7h2v1h-2zM55 7h1v1h-1zM61 7h2v1h-2zM66 7h2v1h-2zM6 8h1v1h-1zM9 8h6v1h-6zM26 8h2v1h-2zM33 8h3v1h-3zM40 8h1v1h-1zM43 8h6v1h-6zM50 8h1v1h-1zM54 8h3v1h-3zM60 8h3v1h-3zM3 9h13v1h-13zM17 9h2v1h-2zM20 9h2v1h-2zM26 9h3v1h-3zM35 9h2v1h-2zM40 9h1v1h-1zM43 9h5v1h-5zM53 9h4v1h-4zM60 9h6v1h-6zM3 10h7v1h-7zM12 10h4v1h-4zM17 10h5v1h-5zM23 10h4v1h-4zM35 10h3v1h-3zM39 10h2v1h-2zM43 10h5v1h-5zM53 10h4v1h-4zM61 10h5v1h-5zM3 11h1v1h-1zM6 11h4v1h-4zM12 11h4v1h-4zM17 11h10v1h-10zM35 11h5v1h-5zM43 11h5v1h-5zM50 11h1v1h-1zM53 11h3v1h-3zM61 11h4v1h-4zM0 12h1v1h-1zM2 12h1v1h-1zM5 12h3v1h-3zM16 12h13v1h-13zM35 12h2v1h-2zM38 12h3v1h-3zM42 12h5v1h-5zM50 12h1v1h-1zM52 12h5v1h-5zM58 12h3v1h-3zM62 12h3v1h-3zM0 13h1v1h-1zM8 13h1v1h-1zM14 13h7v1h-7zM22 13h5v1h-5zM28 13h1v1h-1zM31 13h3v1h-3zM35 13h2v1h-2zM39 13h2v1h-2zM42 13h4v1h-4zM53 13h8v1h-8zM67 13h2v1h-2zM0 14h3v1h-3zM6 14h4v1h-4zM13 14h8v1h-8zM23 14h3v1h-3zM28 14h7v1h-7zM39 14h1v1h-1zM43 14h2v1h-2zM49 14h2v1h-2zM53 14h9v1h-9zM66 14h3v1h-3zM0 15h4v1h-4zM6 15h5v1h-5zM13 15h7v1h-7zM26 15h11v1h-11zM38 15h1v1h-1zM41 15h1v1h-1zM44 15h9v1h-9zM54 15h8v1h-8zM66 15h4v1h-4zM0 16h5v1h-5zM6 16h1v1h-1zM12 16h1v1h-1zM15 16h5v1h-5zM23 16h1v1h-1zM26 16h3v1h-3zM30 16h9v1h-9zM44 16h9v1h-9zM57 16h5v1h-5zM66 16h4v1h-4zM3 17h3v1h-3zM11 17h2v1h-2zM16 17h2v1h-2zM21 17h3v1h-3zM26 17h2v1h-2zM29 17h11v1h-11zM44 17h9v1h-9zM55 17h7v1h-7zM66 17h2v1h-2zM0 18h1v1h-1zM3 18h4v1h-4zM11 18h7v1h-7zM23 18h1v1h-1zM29 18h11v1h-11zM44 18h5v1h-5zM50 18h3v1h-3zM55 18h3v1h-3zM0 19h4v1h-4zM6 19h1v1h-1zM11 19h7v1h-7zM20 19h1v1h-1zM24 19h1v1h-1zM29 19h12v1h-12zM45 19h2v1h-2zM50 19h2v1h-2zM54 19h2v1h-2zM59 19h1v1h-1zM62 19h1v1h-1zM0 20h4v1h-4zM6 20h12v1h-12zM19 20h3v1h-3zM24 20h1v1h-1zM29 20h2v1h-2zM33 20h8v1h-8zM45 20h2v1h-2zM49 20h4v1h-4zM62 20h4v1h-4zM69 20h1v1h-1zM1 21h1v1h-1zM3 21h2v1h-2zM7 21h5v1h-5zM13 21h4v1h-4zM19 21h2v1h-2zM23 21h1v1h-1zM28 21h3v1h-3zM33 21h2v1h-2zM37 21h1v1h-1zM46 21h6v1h-6zM62 21h3v1h-3zM1 22h1v1h-1zM3 22h2v1h-2zM7 22h5v1h-5zM14 22h4v1h-4zM28 22h4v1h-4zM36 22h2v1h-2zM42 22h1v1h-1zM47 22h4v1h-4zM62 22h3v1h-3zM8 23h3v1h-3zM14 23h3v1h-3zM18 23h2v1h-2zM25 23h2v1h-2zM28 23h7v1h-7zM42 23h1v1h-1zM53 23h1v1h-1zM63 23h1v1h-1zM67 23h2v1h-2zM7 24h2v1h-2zM18 24h3v1h-3zM24 24h2v1h-2zM27 24h8v1h-8zM38 24h1v1h-1zM42 24h1v1h-1zM53 24h2v1h-2zM64 24h1v1h-1zM67 24h3v1h-3zM1 25h1v1h-1zM4 25h2v1h-2zM12 25h2v1h-2zM19 25h2v1h-2zM24 25h1v1h-1zM32 25h3v1h-3zM37 25h2v1h-2zM49 25h3v1h-3zM57 25h2v1h-2zM60 25h1v1h-1zM68 25h2v1h-2zM4 26h3v1h-3zM18 26h6v1h-6zM31 26h3v1h-3zM37 26h2v1h-2zM50 26h2v1h-2zM57 26h5v1h-5zM64 26h6v1h-6zM18 27h6v1h-6zM31 27h3v1h-3zM39 27h1v1h-1zM56 27h4v1h-4zM61 27h9v1h-9zM0 28h2v1h-2zM15 28h2v1h-2zM18 28h6v1h-6zM31 28h1v1h-1zM39 28h2v1h-2zM43 28h1v1h-1zM50 28h1v1h-1zM56 28h4v1h-4zM62 28h4v1h-4zM67 28h3v1h-3zM0 29h1v1h-1zM3 29h1v1h-1zM6 29h1v1h-1zM16 29h8v1h-8zM30 29h3v1h-3zM36 29h5v1h-5zM57 29h2v1h-2zM62 29h3v1h-3zM67 29h3v1h-3zM1 30h3v1h-3zM5 30h2v1h-2zM16 30h8v1h-8zM26 30h1v1h-1zM28 30h5v1h-5zM38 30h4v1h-4zM48 30h2v1h-2zM51 30h1v1h-1zM54 30h1v1h-1zM61 30h4v1h-4zM67 30h2v1h-2zM1 31h2v1h-2zM5 31h3v1h-3zM9 31h4v1h-4zM17 31h4v1h-4zM22 31h2v1h-2zM26 31h7v1h-7zM37 31h6v1h-6zM51 31h1v1h-1zM59 31h3v1h-3zM63 31h1v1h-1zM65 31h4v1h-4zM0 32h2v1h-2zM4 32h4v1h-4zM11 32h3v1h-3zM18 32h2v1h-2zM28 32h13v1h-13zM42 32h3v1h-3zM50 32h6v1h-6zM57 32h5v1h-5zM66 32h1v1h-1zM0 33h1v1h-1zM4 33h4v1h-4zM10 33h4v1h-4zM21 33h2v1h-2zM29 33h11v1h-11zM41 33h4v1h-4zM52 33h3v1h-3zM57 33h7v1h-7zM66 33h2v1h-2zM2 34h1v1h-1zM10 34h2v1h-2zM22 34h1v1h-1zM29 34h11v1h-11zM42 34h3v1h-3zM52 34h3v1h-3zM58 34h7v1h-7zM66 34h3v1h-3zM4 35h2v1h-2zM10 35h3v1h-3zM22 35h4v1h-4zM36 35h3v1h-3zM43 35h1v1h-1zM45 35h1v1h-1zM50 35h1v1h-1zM53 35h1v1h-1zM58 35h6v1h-6zM66 35h3v1h-3zM9 36h4v1h-4zM45 36h1v1h-1zM48 36h1v1h-1zM50 36h3v1h-3zM58 36h5v1h-5zM64 36h4v1h-4zM1 37h2v1h-2zM9 37h4v1h-4zM16 37h1v1h-1zM19 37h2v1h-2zM28 37h6v1h-6zM42 37h2v1h-2zM48 37h3v1h-3zM58 37h5v1h-5zM66 37h4v1h-4zM3 38h1v1h-1zM9 38h1v1h-1zM17 38h4v1h-4zM24 38h9v1h-9zM34 38h1v1h-1zM42 38h2v1h-2zM47 38h4v1h-4zM53 38h3v1h-3zM58 38h3v1h-3zM63 38h7v1h-7zM5 39h2v1h-2zM8 39h3v1h-3zM18 39h4v1h-4zM25 39h5v1h-5zM38 39h2v1h-2zM42 39h2v1h-2zM46 39h5v1h-5zM53 39h2v1h-2zM57 39h4v1h-4zM63 39h7v1h-7zM0 40h2v1h-2zM9 40h2v1h-2zM20 40h2v1h-2zM24 40h7v1h-7zM38 40h3v1h-3zM46 40h4v1h-4zM58 40h10v1h-10zM69 40h1v1h-1zM0 41h3v1h-3zM9 41h2v1h-2zM20 41h2v1h-2zM24 41h7v1h-7zM39 41h3v1h-3zM59 41h9v1h-9zM69 41h1v1h-1zM0 42h1v1h-1zM10 42h1v1h-1zM14 42h2v1h-2zM19 42h3v1h-3zM24 42h8v1h-8zM40 42h2v1h-2zM53 42h1v1h-1zM58 42h5v1h-5zM65 42h2v1h-2zM69 42h1v1h-1zM0 43h1v1h-1zM14 43h2v1h-2zM18 43h4v1h-4zM24 43h6v1h-6zM35 43h3v1h-3zM48 43h3v1h-3zM58 43h5v1h-5zM65 43h3v1h-3zM8 44h2v1h-2zM16 44h4v1h-4zM21 44h2v1h-2zM26 44h4v1h-4zM33 44h1v1h-1zM36 44h3v1h-3zM40 44h2v1h-2zM49 44h3v1h-3zM59 44h5v1h-5zM65 44h2v1h-2zM0 45h4v1h-4zM7 45h3v1h-3zM16 45h3v1h-3zM21 45h2v1h-2zM24 45h1v1h-1zM27 45h3v1h-3zM32 45h1v1h-1zM36 45h6v1h-6zM64 45h1v1h-1zM69 45h1v1h-1zM0 46h4v1h-4zM7 46h3v1h-3zM16 46h3v1h-3zM22 46h1v1h-1zM24 46h8v1h-8zM36 46h6v1h-6zM45 46h3v1h-3zM64 46h1v1h-1zM69 46h1v1h-1zM0 47h4v1h-4zM7 47h6v1h-6zM17 47h2v1h-2zM24 47h3v1h-3zM30 47h2v1h-2zM38 47h5v1h-5zM45 47h6v1h-6zM54 47h1v1h-1zM64 47h1v1h-1zM69 47h1v1h-1zM0 48h4v1h-4zM8 48h2v1h-2zM11 48h7v1h-7zM23 48h4v1h-4zM31 48h1v1h-1zM37 48h5v1h-5zM45 48h6v1h-6zM54 48h1v1h-1zM59 48h1v1h-1zM69 48h1v1h-1zM0 49h5v1h-5zM8 49h2v1h-2zM11 49h7v1h-7zM25 49h1v1h-1zM29 49h1v1h-1zM31 49h1v1h-1zM37 49h6v1h-6zM45 49h17v1h-17zM68 49h2v1h-2zM0 50h2v1h-2zM9 50h8v1h-8zM19 50h2v1h-2zM29 50h1v1h-1zM31 50h1v1h-1zM38 50h5v1h-5zM45 50h1v1h-1zM48 50h9v1h-9zM59 50h3v1h-3zM67 50h3v1h-3zM0 51h4v1h-4zM14 51h2v1h-2zM18 51h4v1h-4zM29 51h1v1h-1zM31 51h3v1h-3zM39 51h4v1h-4zM48 51h8v1h-8zM58 51h6v1h-6zM65 51h2v1h-2zM68 51h2v1h-2z" fill="#a865dc"/>
<path d="M0 0h4v1h-4zM8 0h1v1h-1zM17 0h1v1h-1zM30 0h3v1h-3zM36 0h7v1h-7zM45 0h3v1h-3zM51 0h2v1h-2zM54 0h4v1h-4zM62 0h1v1h-1zM64 0h2v1h-2zM67 0h1v1h-1zM0 1h4v1h-4zM11 1h2v1h-2zM30 1h3v1h-3zM35 1h7v1h-7zM43 1h6v1h-6zM51 1h7v1h-7zM64 1h1v1h-1zM67 1h1v1h-1zM0 2h4v1h-4zM16 2h2v1h-2zM30 2h3v1h-3zM35 2h6v1h-6zM43 2h6v1h-6zM52 2h6v1h-6zM67 2h3v1h-3zM12 3h1v1h-1zM16 3h2v1h-2zM31 3h1v1h-1zM35 3h6v1h-6zM44 3h5v1h-5zM52 3h5v1h-5zM67 3h3v1h-3zM12 4h1v1h-1zM15 4h2v1h-2zM36 4h5v1h-5zM45 4h4v1h-4zM53 4h3v1h-3zM57 4h2v1h-2zM67 4h3v1h-3zM12 5h1v1h-1zM28 5h1v1h-1zM39 5h3v1h-3zM43 5h4v1h-4zM48 5h1v1h-1zM54 5h2v1h-2zM64 5h6v1h-6zM35 6h1v1h-1zM42 6h4v1h-4zM48 6h1v1h-1zM64 6h5v1h-5zM33 7h1v1h-1zM42 7h4v1h-4zM48 7h1v1h-1zM66 7h1v1h-1zM13 8h2v1h-2zM27 8h1v1h-1zM33 8h1v1h-1zM43 8h5v1h-5zM55 8h1v1h-1zM61 8h1v1h-1zM4 9h5v1h-5zM10 9h1v1h-1zM13 9h2v1h-2zM18 9h1v1h-1zM21 9h1v1h-1zM35 9h2v1h-2zM43 9h3v1h-3zM47 9h1v1h-1zM53 9h4v1h-4zM61 9h4v1h-4zM3 10h7v1h-7zM13 10h3v1h-3zM18 10h4v1h-4zM25 10h1v1h-1zM35 10h3v1h-3zM44 10h3v1h-3zM53 10h4v1h-4zM62 10h4v1h-4zM3 11h1v1h-1zM6 11h3v1h-3zM12 11h3v1h-3zM18 11h9v1h-9zM35 11h3v1h-3zM43 11h4v1h-4zM53 11h2v1h-2zM62 11h3v1h-3zM18 12h9v1h-9zM39 12h1v1h-1zM43 12h4v1h-4zM53 12h3v1h-3zM62 12h2v1h-2zM0 13h1v1h-1zM16 13h5v1h-5zM23 13h3v1h-3zM32 13h1v1h-1zM39 13h1v1h-1zM43 13h3v1h-3zM53 13h4v1h-4zM58 13h3v1h-3zM67 13h2v1h-2zM0 14h3v1h-3zM7 14h2v1h-2zM14 14h6v1h-6zM24 14h2v1h-2zM31 14h3v1h-3zM43 14h2v1h-2zM53 14h8v1h-8zM66 14h3v1h-3zM0 15h3v1h-3zM8 15h2v1h-2zM14 15h6v1h-6zM28 15h4v1h-4zM33 15h1v1h-1zM35 15h1v1h-1zM48 15h4v1h-4zM54 15h2v1h-2zM58 15h3v1h-3zM66 15h3v1h-3zM1 16h1v1h-1zM16 16h3v1h-3zM27 16h1v1h-1zM30 16h2v1h-2zM34 16h5v1h-5zM45 16h4v1h-4zM50 16h3v1h-3zM58 16h3v1h-3zM66 16h4v1h-4zM3 17h2v1h-2zM11 17h2v1h-2zM16 17h2v1h-2zM26 17h2v1h-2zM29 17h10v1h-10zM45 17h8v1h-8zM56 17h5v1h-5zM3 18h1v1h-1zM11 18h2v1h-2zM14 18h4v1h-4zM29 18h10v1h-10zM45 18h4v1h-4zM50 18h3v1h-3zM56 18h1v1h-1zM0 19h4v1h-4zM6 19h1v1h-1zM11 19h2v1h-2zM14 19h4v1h-4zM30 19h11v1h-11zM46 19h1v1h-1zM0 20h4v1h-4zM7 20h5v1h-5zM13 20h5v1h-5zM20 20h1v1h-1zM33 20h8v1h-8zM46 20h1v1h-1zM49 20h3v1h-3zM69 20h1v1h-1zM1 21h1v1h-1zM3 21h1v1h-1zM7 21h5v1h-5zM13 21h3v1h-3zM28 21h3v1h-3zM34 21h1v1h-1zM46 21h1v1h-1zM48 21h3v1h-3zM62 21h3v1h-3zM1 22h1v1h-1zM4 22h1v1h-1zM8 22h3v1h-3zM14 22h1v1h-1zM28 22h4v1h-4zM37 22h1v1h-1zM42 22h1v1h-1zM48 22h3v1h-3zM62 22h3v1h-3zM8 23h3v1h-3zM28 23h4v1h-4zM33 23h2v1h-2zM19 24h1v1h-1zM24 24h1v1h-1zM29 24h2v1h-2zM32 24h3v1h-3zM68 24h2v1h-2zM19 25h2v1h-2zM32 25h2v1h-2zM37 25h2v1h-2zM58 25h1v1h-1zM69 25h1v1h-1zM5 26h1v1h-1zM18 26h5v1h-5zM32 26h2v1h-2zM50 26h2v1h-2zM57 26h2v1h-2zM60 26h2v1h-2zM65 26h5v1h-5zM18 27h5v1h-5zM32 27h1v1h-1zM57 27h2v1h-2zM63 27h7v1h-7zM0 28h1v1h-1zM16 28h1v1h-1zM18 28h6v1h-6zM39 28h1v1h-1zM57 28h2v1h-2zM62 28h4v1h-4zM67 28h3v1h-3zM18 29h6v1h-6zM30 29h3v1h-3zM39 29h1v1h-1zM62 29h3v1h-3zM67 29h3v1h-3zM2 30h1v1h-1zM17 30h7v1h-7zM29 30h4v1h-4zM39 30h1v1h-1zM63 30h1v1h-1zM67 30h2v1h-2zM5 31h2v1h-2zM11 31h2v1h-2zM18 31h2v1h-2zM27 31h6v1h-6zM37 31h4v1h-4zM60 31h2v1h-2zM0 32h1v1h-1zM4 32h4v1h-4zM12 32h1v1h-1zM29 32h4v1h-4zM36 32h4v1h-4zM43 32h1v1h-1zM51 32h1v1h-1zM58 32h4v1h-4zM0 33h1v1h-1zM5 33h1v1h-1zM7 33h1v1h-1zM10 33h1v1h-1zM12 33h1v1h-1zM21 33h2v1h-2zM29 33h4v1h-4zM34 33h6v1h-6zM42 33h3v1h-3zM53 33h2v1h-2zM58 33h4v1h-4zM10 34h1v1h-1zM35 34h5v1h-5zM42 34h2v1h-2zM53 34h1v1h-1zM58 34h6v1h-6zM66 34h2v1h-2zM11 35h1v1h-1zM36 35h2v1h-2zM58 35h5v1h-5zM66 35h3v1h-3zM10 36h3v1h-3zM50 36h1v1h-1zM58 36h5v1h-5zM66 36h2v1h-2zM9 37h1v1h-1zM28 37h5v1h-5zM48 37h1v1h-1zM58 37h4v1h-4zM66 37h2v1h-2zM18 38h3v1h-3zM24 38h2v1h-2zM27 38h5v1h-5zM42 38h2v1h-2zM47 38h4v1h-4zM58 38h3v1h-3zM64 38h3v1h-3zM68 38h2v1h-2zM9 39h1v1h-1zM19 39h3v1h-3zM27 39h3v1h-3zM39 39h1v1h-1zM47 39h3v1h-3zM53 39h2v1h-2zM58 39h2v1h-2zM63 39h5v1h-5zM0 40h1v1h-1zM9 40h1v1h-1zM20 40h2v1h-2zM25 40h5v1h-5zM39 40h2v1h-2zM47 40h3v1h-3zM59 40h2v1h-2zM62 40h6v1h-6zM69 40h1v1h-1zM0 41h1v1h-1zM10 41h1v1h-1zM20 41h2v1h-2zM24 41h7v1h-7zM40 41h1v1h-1zM59 41h9v1h-9zM69 41h1v1h-1zM0 42h1v1h-1zM19 42h3v1h-3zM24 42h7v1h-7zM40 42h1v1h-1zM59 42h4v1h-4zM65 42h2v1h-2zM69 42h1v1h-1zM0 43h1v1h-1zM19 43h3v1h-3zM25 43h5v1h-5zM36 43h1v1h-1zM48 43h1v1h-1zM59 43h4v1h-4zM65 43h2v1h-2zM16 44h2v1h-2zM21 44h1v1h-1zM27 44h3v1h-3zM36 44h3v1h-3zM49 44h2v1h-2zM60 44h2v1h-2zM1 45h3v1h-3zM7 45h2v1h-2zM16 45h2v1h-2zM21 45h2v1h-2zM27 45h3v1h-3zM36 45h3v1h-3zM64 45h1v1h-1zM69 45h1v1h-1zM0 46h4v1h-4zM7 46h3v1h-3zM16 46h3v1h-3zM24 46h8v1h-8zM37 46h2v1h-2zM47 46h1v1h-1zM64 46h1v1h-1zM69 46h1v1h-1zM1 47h3v1h-3zM7 47h3v1h-3zM11 47h2v1h-2zM24 47h3v1h-3zM30 47h2v1h-2zM39 47h3v1h-3zM46 47h3v1h-3zM69 47h1v1h-1zM0 48h4v1h-4zM8 48h1v1h-1zM12 48h1v1h-1zM14 48h4v1h-4zM24 48h3v1h-3zM31 48h1v1h-1zM38 48h4v1h-4zM46 48h4v1h-4zM54 48h1v1h-1zM0 49h1v1h-1zM12 49h1v1h-1zM14 49h4v1h-4zM37 49h6v1h-6zM48 49h2v1h-2zM51 49h6v1h-6zM59 49h3v1h-3zM68 49h2v1h-2zM0 50h2v1h-2zM9 50h7v1h-7zM19 50h2v1h-2zM38 50h5v1h-5zM48 50h1v1h-1zM50 50h7v1h-7zM60 50h1v1h-1zM68 50h2v1h-2zM0 51h3v1h-3zM19 51h2v1h-2zM39 51h4v1h-4zM48 51h4v1h-4zM53 51h3v1h-3zM59 51h5v1h-5zM68 51h2v1h-2z" fill="#8a36d0"/>
<path d="M1 0h2v1h-2zM55 0h2v1h-2zM0 1h3v1h-3zM30 1h2v1h-2zM38 1h1v1h-1zM46 1h2v1h-2zM54 1h3v1h-3zM1 2h2v1h-2zM31 2h1v1h-1zM36 2h3v1h-3zM45 2h3v1h-3zM53 2h3v1h-3zM36 3h1v1h-1zM39 3h2v1h-2zM45 3h3v1h-3zM53 3h3v1h-3zM68 3h1v1h-1zM39 4h2v1h-2zM54 4h1v1h-1zM67 5h1v1h-1zM43 6h2v1h-2zM43 7h3v1h-3zM44 8h1v1h-1zM55 9h1v1h-1zM6 10h3v1h-3zM36 10h1v1h-1zM45 10h1v1h-1zM7 11h1v1h-1zM19 11h2v1h-2zM44 11h3v1h-3zM19 12h2v1h-2zM24 12h2v1h-2zM44 12h2v1h-2zM54 12h2v1h-2zM24 13h1v1h-1zM53 13h3v1h-3zM16 14h2v1h-2zM54 14h2v1h-2zM59 14h1v1h-1zM67 14h1v1h-1zM17 15h1v1h-1zM59 15h1v1h-1zM67 15h2v1h-2zM35 16h3v1h-3zM51 16h1v1h-1zM31 17h1v1h-1zM35 17h4v1h-4zM46 17h2v1h-2zM50 17h3v1h-3zM31 18h1v1h-1zM34 18h5v1h-5zM51 18h1v1h-1zM35 19h2v1h-2zM35 20h1v1h-1zM9 21h1v1h-1zM49 21h1v1h-1zM29 22h1v1h-1zM29 23h1v1h-1zM19 26h3v1h-3zM69 26h1v1h-1zM19 27h3v1h-3zM68 27h2v1h-2zM19 28h3v1h-3zM63 28h2v1h-2zM68 28h2v1h-2zM19 29h1v1h-1zM68 29h1v1h-1zM30 30h1v1h-1zM68 30h1v1h-1zM30 31h2v1h-2zM30 32h2v1h-2zM60 33h1v1h-1zM60 34h2v1h-2zM59 36h2v1h-2zM59 37h2v1h-2zM29 38h1v1h-1zM48 39h1v1h-1zM64 39h3v1h-3zM64 40h3v1h-3zM25 41h1v1h-1zM59 41h3v1h-3zM65 41h2v1h-2zM25 42h2v1h-2zM59 42h3v1h-3zM60 43h2v1h-2zM28 45h1v1h-1zM37 45h1v1h-1zM2 46h1v1h-1zM2 47h2v1h-2zM25 47h1v1h-1zM25 48h1v1h-1zM39 48h2v1h-2zM39 49h3v1h-3zM0 50h1v1h-1zM39 50h3v1h-3zM0 51h2v1h-2zM40 51h2v1h-2zM69 51h1v1h-1z" fill="#7228b6"/>
</g>
<rect x="155.3" y="573" width="8.8" height="2.2" fill="#000" stroke="none" stroke-width="1"/>
<rect x="155.3" y="634.9" width="8.8" height="2.2" fill="#000" stroke="none" stroke-width="1"/>
<text x="135.9" y="519.9" font-size="9.3" text-anchor="middle" fill="#000">scramble</text>
<text x="213.2" y="519.9" font-size="9.3" text-anchor="middle" fill="#000">shSTN1-1</text>
<text x="285" y="514.2" font-size="9.3" text-anchor="middle" fill="#000">scramble</text>
<text x="284.8" y="523.1" font-size="9.3" text-anchor="middle" fill="#000">+HOXB7</text>
<text x="363.2" y="514.2" font-size="9.3" text-anchor="middle" fill="#000">shSTN1-1</text>
<text x="361.9" y="523.1" font-size="9.3" text-anchor="middle" fill="#000">+HOXB7</text>
<text x="96.1" y="559.6" font-size="9.3" text-anchor="end" fill="#000">migration</text>
<text x="93.3" y="617.6" font-size="9.2" text-anchor="end" fill="#000">invasion</text>
<text x="247" y="657.5" font-size="9.2" text-anchor="middle" fill="#000">PANC-1</text>
<rect x="456.8" y="482.7" width="10" height="6" fill="#1d62ad" stroke="#111" stroke-width="0.8"/>
<text x="470.4" y="489" font-size="9.2" text-anchor="start" fill="#000">scramble</text>
<rect x="456.8" y="496" width="10" height="6" fill="#e05a2a" stroke="#111" stroke-width="0.8"/>
<text x="470.4" y="502.3" font-size="9.2" text-anchor="start" fill="#000">shSTN1-1</text>
<rect x="533.4" y="482.7" width="10" height="6" fill="#12875f" stroke="#111" stroke-width="0.8"/>
<text x="544.3" y="489" font-size="9.2" text-anchor="start" fill="#000">scramble+HOXB7</text>
<rect x="533.4" y="496" width="10" height="6" fill="#f2a433" stroke="#111" stroke-width="0.8"/>
<text x="544.3" y="502.3" font-size="9.2" text-anchor="start" fill="#000">shSTN1-1+HOXB7</text>
<line x1="477.3" y1="547.7" x2="477.3" y2="645.6" stroke="#000" stroke-width="1.2"/>
<line x1="476.8" y1="645.1" x2="619.6" y2="645.1" stroke="#000" stroke-width="1.3"/>
<line x1="472.4" y1="645.1" x2="477.3" y2="645.1" stroke="#000" stroke-width="1"/>
<text x="471.2" y="648.4" font-size="9" text-anchor="end" fill="#000">0</text>
<line x1="472.4" y1="620.88" x2="477.3" y2="620.88" stroke="#000" stroke-width="1"/>
<text x="471.2" y="624.17" font-size="9" text-anchor="end" fill="#000">500</text>
<line x1="472.4" y1="596.65" x2="477.3" y2="596.65" stroke="#000" stroke-width="1"/>
<text x="471.2" y="599.95" font-size="9" text-anchor="end" fill="#000">1000</text>
<line x1="472.4" y1="572.43" x2="477.3" y2="572.43" stroke="#000" stroke-width="1"/>
<text x="471.2" y="575.73" font-size="9" text-anchor="end" fill="#000">1500</text>
<line x1="472.4" y1="548.2" x2="477.3" y2="548.2" stroke="#000" stroke-width="1"/>
<text x="471.2" y="551.5" font-size="9" text-anchor="end" fill="#000">2000</text>
<text x="447.2" y="595.9" font-size="8.9" text-anchor="middle" fill="#000" transform="rotate(-90 447.2 595.9)">cell count</text>
<line x1="511.3" y1="645.1" x2="511.3" y2="649.2" stroke="#000" stroke-width="1"/>
<text x="513.6" y="657.3" font-size="9.3" text-anchor="middle" fill="#000">migration</text>
<line x1="586.4" y1="645.1" x2="586.4" y2="649.2" stroke="#000" stroke-width="1"/>
<text x="588.7" y="657.3" font-size="9.3" text-anchor="middle" fill="#000">invasion</text>
<rect x="482.65" y="632.5" width="9.5" height="12.6" fill="#1d62ad" stroke="#111" stroke-width="0.9"/>
<circle cx="485.8" cy="629.11" r="0.5" fill="#000"/>
<circle cx="487.4" cy="630.57" r="0.5" fill="#000"/>
<circle cx="489" cy="631.05" r="0.5" fill="#000"/>
<circle cx="486.6" cy="631.53" r="0.5" fill="#000"/>
<circle cx="488.2" cy="632.02" r="0.5" fill="#000"/>
<circle cx="485.8" cy="632.5" r="0.5" fill="#000"/>
<circle cx="487.4" cy="632.99" r="0.5" fill="#000"/>
<circle cx="489" cy="633.47" r="0.5" fill="#000"/>
<circle cx="486.6" cy="633.96" r="0.5" fill="#000"/>
<circle cx="488.2" cy="634.44" r="0.5" fill="#000"/>
<circle cx="485.8" cy="634.93" r="0.5" fill="#000"/>
<line x1="487.4" y1="631.29" x2="487.4" y2="633.71" stroke="#000" stroke-width="0.8"/>
<line x1="484.8" y1="631.29" x2="490" y2="631.29" stroke="#000" stroke-width="0.8"/>
<line x1="484.8" y1="633.71" x2="490" y2="633.71" stroke="#000" stroke-width="0.8"/>
<rect x="498.75" y="637.35" width="9.3" height="7.75" fill="#e05a2a" stroke="#111" stroke-width="0.9"/>
<circle cx="501.8" cy="635.41" r="0.5" fill="#000"/>
<circle cx="503.4" cy="635.89" r="0.5" fill="#000"/>
<circle cx="505" cy="636.14" r="0.5" fill="#000"/>
<circle cx="502.6" cy="636.38" r="0.5" fill="#000"/>
<circle cx="504.2" cy="636.62" r="0.5" fill="#000"/>
<circle cx="501.8" cy="636.86" r="0.5" fill="#000"/>
<circle cx="503.4" cy="637.11" r="0.5" fill="#000"/>
<line x1="503.4" y1="636.62" x2="503.4" y2="638.07" stroke="#000" stroke-width="0.8"/>
<line x1="500.8" y1="636.62" x2="506" y2="636.62" stroke="#000" stroke-width="0.8"/>
<line x1="500.8" y1="638.07" x2="506" y2="638.07" stroke="#000" stroke-width="0.8"/>
<rect x="514.75" y="582.6" width="9.4" height="62.5" fill="#12875f" stroke="#111" stroke-width="0.9"/>
<circle cx="517.85" cy="556.92" r="0.5" fill="#000"/>
<circle cx="519.45" cy="562.74" r="0.5" fill="#000"/>
<circle cx="521.05" cy="568.55" r="0.5" fill="#000"/>
<circle cx="518.65" cy="573.39" r="0.5" fill="#000"/>
<circle cx="520.25" cy="577.27" r="0.5" fill="#000"/>
<circle cx="517.85" cy="579.69" r="0.5" fill="#000"/>
<circle cx="519.45" cy="582.12" r="0.5" fill="#000"/>
<circle cx="521.05" cy="584.54" r="0.5" fill="#000"/>
<circle cx="518.65" cy="586.96" r="0.5" fill="#000"/>
<circle cx="520.25" cy="591.81" r="0.5" fill="#000"/>
<circle cx="517.85" cy="596.65" r="0.5" fill="#000"/>
<circle cx="519.45" cy="601.5" r="0.5" fill="#000"/>
<circle cx="521.05" cy="603.92" r="0.5" fill="#000"/>
<circle cx="518.65" cy="589.38" r="0.5" fill="#000"/>
<line x1="519.45" y1="578.72" x2="519.45" y2="586.48" stroke="#000" stroke-width="0.8"/>
<line x1="516.85" y1="578.72" x2="522.05" y2="578.72" stroke="#000" stroke-width="0.8"/>
<line x1="516.85" y1="586.48" x2="522.05" y2="586.48" stroke="#000" stroke-width="0.8"/>
<rect x="530.95" y="631.05" width="9.3" height="14.05" fill="#f2a433" stroke="#111" stroke-width="0.9"/>
<circle cx="534" cy="627.66" r="0.5" fill="#000"/>
<circle cx="535.6" cy="629.11" r="0.5" fill="#000"/>
<circle cx="537.2" cy="630.08" r="0.5" fill="#000"/>
<circle cx="534.8" cy="631.05" r="0.5" fill="#000"/>
<circle cx="536.4" cy="631.53" r="0.5" fill="#000"/>
<circle cx="534" cy="632.02" r="0.5" fill="#000"/>
<circle cx="535.6" cy="632.5" r="0.5" fill="#000"/>
<line x1="535.6" y1="630.08" x2="535.6" y2="632.02" stroke="#000" stroke-width="0.8"/>
<line x1="533" y1="630.08" x2="538.2" y2="630.08" stroke="#000" stroke-width="0.8"/>
<line x1="533" y1="632.02" x2="538.2" y2="632.02" stroke="#000" stroke-width="0.8"/>
<rect x="557.95" y="632.99" width="9.1" height="12.11" fill="#1d62ad" stroke="#111" stroke-width="0.9"/>
<circle cx="560.9" cy="630.57" r="0.5" fill="#000"/>
<circle cx="562.5" cy="631.53" r="0.5" fill="#000"/>
<circle cx="564.1" cy="632.02" r="0.5" fill="#000"/>
<circle cx="561.7" cy="632.5" r="0.5" fill="#000"/>
<circle cx="563.3" cy="632.99" r="0.5" fill="#000"/>
<circle cx="560.9" cy="633.23" r="0.5" fill="#000"/>
<line x1="562.5" y1="632.26" x2="562.5" y2="633.71" stroke="#000" stroke-width="0.8"/>
<line x1="559.9" y1="632.26" x2="565.1" y2="632.26" stroke="#000" stroke-width="0.8"/>
<line x1="559.9" y1="633.71" x2="565.1" y2="633.71" stroke="#000" stroke-width="0.8"/>
<rect x="573.95" y="640.74" width="9" height="4.36" fill="#e05a2a" stroke="#111" stroke-width="0.9"/>
<circle cx="576.85" cy="638.32" r="0.5" fill="#000"/>
<circle cx="578.45" cy="638.8" r="0.5" fill="#000"/>
<circle cx="580.05" cy="639.29" r="0.5" fill="#000"/>
<circle cx="577.65" cy="639.77" r="0.5" fill="#000"/>
<circle cx="579.25" cy="640.25" r="0.5" fill="#000"/>
<circle cx="576.85" cy="640.5" r="0.5" fill="#000"/>
<circle cx="578.45" cy="640.74" r="0.5" fill="#000"/>
<circle cx="580.05" cy="640.98" r="0.5" fill="#000"/>
<line x1="578.45" y1="640.01" x2="578.45" y2="641.47" stroke="#000" stroke-width="0.8"/>
<line x1="575.85" y1="640.01" x2="581.05" y2="640.01" stroke="#000" stroke-width="0.8"/>
<line x1="575.85" y1="641.47" x2="581.05" y2="641.47" stroke="#000" stroke-width="0.8"/>
<rect x="590.05" y="589.38" width="8.9" height="55.72" fill="#12875f" stroke="#111" stroke-width="0.9"/>
<circle cx="592.9" cy="567.58" r="0.5" fill="#000"/>
<circle cx="594.5" cy="571.46" r="0.5" fill="#000"/>
<circle cx="596.1" cy="576.3" r="0.5" fill="#000"/>
<circle cx="593.7" cy="582.12" r="0.5" fill="#000"/>
<circle cx="595.3" cy="584.54" r="0.5" fill="#000"/>
<circle cx="592.9" cy="586.96" r="0.5" fill="#000"/>
<circle cx="594.5" cy="589.38" r="0.5" fill="#000"/>
<circle cx="596.1" cy="591.81" r="0.5" fill="#000"/>
<circle cx="593.7" cy="594.23" r="0.5" fill="#000"/>
<circle cx="595.3" cy="596.65" r="0.5" fill="#000"/>
<circle cx="592.9" cy="599.07" r="0.5" fill="#000"/>
<line x1="594.5" y1="586.48" x2="594.5" y2="592.29" stroke="#000" stroke-width="0.8"/>
<line x1="591.9" y1="586.48" x2="597.1" y2="586.48" stroke="#000" stroke-width="0.8"/>
<line x1="591.9" y1="592.29" x2="597.1" y2="592.29" stroke="#000" stroke-width="0.8"/>
<rect x="605.95" y="625.24" width="9.4" height="19.86" fill="#f2a433" stroke="#111" stroke-width="0.9"/>
<circle cx="609.05" cy="614.09" r="0.5" fill="#000"/>
<circle cx="610.65" cy="616.03" r="0.5" fill="#000"/>
<circle cx="612.25" cy="618.94" r="0.5" fill="#000"/>
<circle cx="609.85" cy="621.84" r="0.5" fill="#000"/>
<circle cx="611.45" cy="623.3" r="0.5" fill="#000"/>
<circle cx="609.05" cy="624.75" r="0.5" fill="#000"/>
<circle cx="610.65" cy="625.72" r="0.5" fill="#000"/>
<circle cx="612.25" cy="626.69" r="0.5" fill="#000"/>
<circle cx="609.85" cy="627.66" r="0.5" fill="#000"/>
<line x1="610.65" y1="623.3" x2="610.65" y2="627.17" stroke="#000" stroke-width="0.8"/>
<line x1="608.05" y1="623.3" x2="613.25" y2="623.3" stroke="#000" stroke-width="0.8"/>
<line x1="608.05" y1="627.17" x2="613.25" y2="627.17" stroke="#000" stroke-width="0.8"/>
<path d="M488.2 530.3 V517.3 H520.4 V530.3" stroke="#555" stroke-width="0.8" fill="none"/>
<path d="M485.7 625 V540.5 H500.5 V628.6" stroke="#555" stroke-width="0.8" fill="none"/>
<path d="M506.6 627.6 V540.5 H533.6 V624.5" stroke="#555" stroke-width="0.8" fill="none"/>
<path d="M563.2 529.5 V516.6 H595.6 V529.5" stroke="#555" stroke-width="0.8" fill="none"/>
<path d="M561.3 623.9 V539.7 H575.8 V627.3" stroke="#555" stroke-width="0.8" fill="none"/>
<path d="M581.5 626 V539.4 H609.6 V603.4" stroke="#555" stroke-width="0.8" fill="none"/>
<text x="505.1" y="515.2" font-size="7.8" text-anchor="middle" fill="#000">P &lt; 0.0001</text>
<text x="510.1" y="538.7" font-size="7.8" text-anchor="middle" fill="#000">P &lt; 0.0001</text>
<text x="580" y="514.9" font-size="7.8" text-anchor="middle" fill="#000">P &lt; 0.0001</text>
<text x="585.5" y="537.9" font-size="7.8" text-anchor="middle" fill="#000">P &lt; 0.0001</text>
</svg>
</body></html>
